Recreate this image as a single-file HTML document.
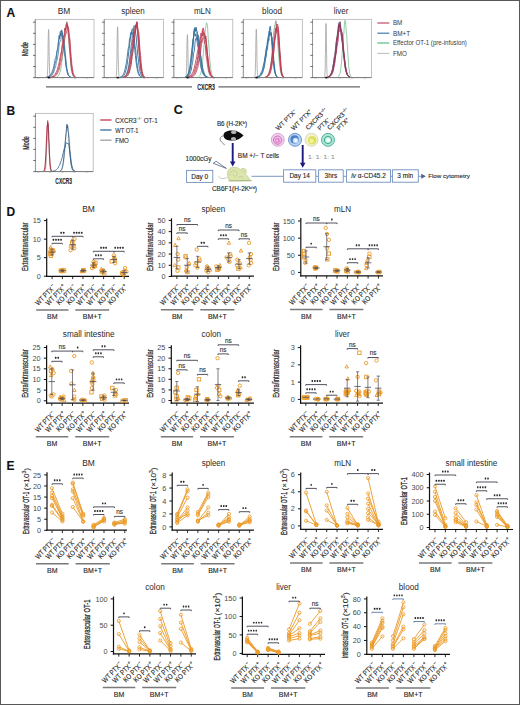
<!DOCTYPE html><html><head><meta charset="utf-8"><style>html,body{margin:0;padding:0;background:#fff;}svg{display:block}text{font-family:"Liberation Sans",sans-serif}.xl text{stroke:#222;stroke-width:0.15px} .t text,text.t{stroke:#333;stroke-width:0.12px}</style></head><body>
<svg width="520" height="705" viewBox="0 0 520 705">
<rect width="520" height="705" fill="#fff"/>
<g class="t">
<text x="6.50" y="17.00" font-size="12" text-anchor="start" fill="#111" font-weight="bold" >A</text>
<text x="57.70" y="13.90" font-size="8.5" fill="#2a2a2a" style="stroke:none" textLength="12.6" lengthAdjust="spacingAndGlyphs">BM</text>
<text x="121.20" y="13.90" font-size="8.5" fill="#2a2a2a" style="stroke:none" textLength="23.6" lengthAdjust="spacingAndGlyphs">spleen</text>
<text x="193.90" y="13.90" font-size="8.5" fill="#2a2a2a" style="stroke:none" textLength="17.0" lengthAdjust="spacingAndGlyphs">mLN</text>
<text x="262.10" y="13.90" font-size="8.5" fill="#2a2a2a" style="stroke:none" textLength="20.0" lengthAdjust="spacingAndGlyphs">blood</text>
<text x="333.70" y="13.90" font-size="8.5" fill="#2a2a2a" style="stroke:none" textLength="14.6" lengthAdjust="spacingAndGlyphs">liver</text>
<rect x="35.2" y="19.3" width="58.8" height="58.3" fill="none" stroke="#a8a8a8" stroke-width="0.7"/>
<line x1="35.2" y1="19.3" x2="35.2" y2="77.6" stroke="#8a8a8a" stroke-width="0.8"/>
<line x1="35.2" y1="77.6" x2="94" y2="77.6" stroke="#707070" stroke-width="0.9"/>
<line x1="33.0" y1="77.6" x2="35.800000000000004" y2="77.6" stroke="#666" stroke-width="0.9"/>
<line x1="35.2" y1="74.8" x2="36.1" y2="74.8" stroke="#bbb" stroke-width="0.4"/>
<line x1="35.2" y1="72.1" x2="36.1" y2="72.1" stroke="#bbb" stroke-width="0.4"/>
<line x1="35.2" y1="69.3" x2="36.1" y2="69.3" stroke="#bbb" stroke-width="0.4"/>
<line x1="33.0" y1="66.5" x2="35.800000000000004" y2="66.5" stroke="#666" stroke-width="0.9"/>
<line x1="35.2" y1="63.8" x2="36.1" y2="63.8" stroke="#bbb" stroke-width="0.4"/>
<line x1="35.2" y1="61.0" x2="36.1" y2="61.0" stroke="#bbb" stroke-width="0.4"/>
<line x1="35.2" y1="58.2" x2="36.1" y2="58.2" stroke="#bbb" stroke-width="0.4"/>
<line x1="33.0" y1="55.4" x2="35.800000000000004" y2="55.4" stroke="#666" stroke-width="0.9"/>
<line x1="35.2" y1="52.7" x2="36.1" y2="52.7" stroke="#bbb" stroke-width="0.4"/>
<line x1="35.2" y1="49.9" x2="36.1" y2="49.9" stroke="#bbb" stroke-width="0.4"/>
<line x1="35.2" y1="47.1" x2="36.1" y2="47.1" stroke="#bbb" stroke-width="0.4"/>
<line x1="33.0" y1="44.4" x2="35.800000000000004" y2="44.4" stroke="#666" stroke-width="0.9"/>
<line x1="35.2" y1="41.6" x2="36.1" y2="41.6" stroke="#bbb" stroke-width="0.4"/>
<line x1="35.2" y1="38.8" x2="36.1" y2="38.8" stroke="#bbb" stroke-width="0.4"/>
<line x1="35.2" y1="36.1" x2="36.1" y2="36.1" stroke="#bbb" stroke-width="0.4"/>
<line x1="33.0" y1="33.3" x2="35.800000000000004" y2="33.3" stroke="#666" stroke-width="0.9"/>
<line x1="35.2" y1="30.5" x2="36.1" y2="30.5" stroke="#bbb" stroke-width="0.4"/>
<line x1="35.2" y1="27.8" x2="36.1" y2="27.8" stroke="#bbb" stroke-width="0.4"/>
<line x1="35.2" y1="25.0" x2="36.1" y2="25.0" stroke="#bbb" stroke-width="0.4"/>
<line x1="33.0" y1="22.2" x2="35.800000000000004" y2="22.2" stroke="#666" stroke-width="0.9"/>
<line x1="38.2" y1="77.6" x2="38.2" y2="78.89999999999999" stroke="#999" stroke-width="0.5"/>
<line x1="37.0" y1="78.5" x2="39.4" y2="78.5" stroke="#ccc" stroke-width="0.5"/>
<line x1="50.5" y1="77.6" x2="50.5" y2="78.89999999999999" stroke="#999" stroke-width="0.5"/>
<line x1="49.2" y1="78.5" x2="51.7" y2="78.5" stroke="#ccc" stroke-width="0.5"/>
<line x1="62.7" y1="77.6" x2="62.7" y2="78.89999999999999" stroke="#999" stroke-width="0.5"/>
<line x1="61.5" y1="78.5" x2="63.9" y2="78.5" stroke="#ccc" stroke-width="0.5"/>
<line x1="75.0" y1="77.6" x2="75.0" y2="78.89999999999999" stroke="#999" stroke-width="0.5"/>
<line x1="73.8" y1="78.5" x2="76.2" y2="78.5" stroke="#ccc" stroke-width="0.5"/>
<line x1="87.2" y1="77.6" x2="87.2" y2="78.89999999999999" stroke="#999" stroke-width="0.5"/>
<line x1="86.0" y1="78.5" x2="88.4" y2="78.5" stroke="#ccc" stroke-width="0.5"/>
<path d="M47.0,77.0 L47.0,76.8 L47.1,76.6 L47.2,76.1 L47.3,75.4 L47.4,74.4 L47.5,73.0 L47.6,71.0 L47.7,68.3 L47.8,65.0 L47.9,60.9 L48.0,56.3 L48.1,51.2 L48.1,45.9 L48.2,40.7 L48.3,36.2 L48.4,32.6 L48.5,30.3 L48.6,29.5 L48.7,30.3 L48.8,32.6 L48.9,36.2 L49.0,40.7 L49.1,45.9 L49.1,51.2 L49.2,56.3 L49.3,60.9 L49.4,65.0 L49.5,68.3 L49.6,71.0 L49.7,73.0 L49.8,74.4 L49.9,75.4 L50.0,76.1 L50.1,76.6 L50.2,76.8 L50.2,77.0" fill="none" stroke="#a0a0a0" stroke-width="0.8" stroke-linejoin="round"/>
<path d="M56.4,77.0 L56.9,76.8 L57.4,76.6 L57.9,76.2 L58.4,75.7 L58.9,75.0 L59.4,73.9 L59.9,72.4 L60.4,71.1 L60.9,68.6 L61.4,65.8 L61.9,61.5 L62.4,57.5 L62.9,52.2 L63.4,49.9 L63.9,43.7 L64.4,40.5 L64.9,35.0 L65.3,29.3 L65.8,28.9 L66.3,25.6 L66.8,21.6 L67.3,22.8 L67.8,27.9 L68.3,31.0 L68.8,36.8 L69.3,47.5 L69.8,52.0 L70.3,59.0 L70.8,65.1 L71.3,69.4 L71.8,71.8 L72.3,74.1 L72.8,75.5 L73.3,76.3 L73.8,76.7 L74.3,77.0" fill="none" stroke="#4caf6a" stroke-width="0.6" stroke-linejoin="round"/>
<path d="M47.5,77.0 L48.1,76.9 L48.8,76.7 L49.4,76.4 L50.0,76.0 L50.7,75.5 L51.3,74.8 L52.0,73.8 L52.6,72.9 L53.3,70.9 L53.9,69.4 L54.5,65.7 L55.2,63.3 L55.8,61.5 L56.5,58.2 L57.1,51.1 L57.7,50.2 L58.4,42.7 L59.0,39.5 L59.7,37.0 L60.3,31.2 L61.0,31.4 L61.6,30.5 L62.2,32.1 L62.9,35.8 L63.5,41.1 L64.2,45.0 L64.8,52.0 L65.4,57.0 L66.1,64.4 L66.7,68.5 L67.4,71.2 L68.0,74.0 L68.7,75.5 L69.3,76.3 L69.9,76.8 L70.6,77.0" fill="none" stroke="#336f9c" stroke-width="0.8" stroke-linejoin="round"/>
<path d="M46.3,77.0 L47.0,76.9 L47.7,76.7 L48.3,76.5 L49.0,76.1 L49.7,75.6 L50.3,74.9 L51.0,74.0 L51.7,72.3 L52.3,71.1 L53.0,69.3 L53.7,66.8 L54.3,63.4 L55.0,59.4 L55.7,57.8 L56.4,55.1 L57.0,50.6 L57.7,48.8 L58.4,41.6 L59.0,35.6 L59.7,39.1 L60.4,32.6 L61.0,36.2 L61.7,29.9 L62.4,35.3 L63.0,41.0 L63.7,48.9 L64.4,54.2 L65.1,57.4 L65.7,65.2 L66.4,68.6 L67.1,71.9 L67.7,74.2 L68.4,75.5 L69.1,76.3 L69.7,76.8 L70.4,77.0" fill="none" stroke="#336f9c" stroke-width="0.8" stroke-linejoin="round"/>
<path d="M48.3,77.0 L48.9,76.9 L49.6,76.8 L50.2,76.5 L50.8,76.2 L51.4,75.7 L52.1,75.1 L52.7,74.2 L53.3,73.1 L53.9,71.8 L54.5,69.2 L55.2,67.6 L55.8,66.0 L56.4,61.3 L57.0,60.4 L57.7,56.6 L58.3,53.9 L58.9,47.4 L59.5,42.5 L60.2,40.9 L60.8,41.3 L61.4,34.6 L62.0,33.2 L62.6,37.5 L63.3,39.7 L63.9,40.7 L64.5,44.6 L65.1,51.7 L65.8,58.3 L66.4,64.4 L67.0,69.5 L67.6,72.1 L68.3,74.3 L68.9,75.6 L69.5,76.4 L70.1,76.8 L70.8,77.0" fill="none" stroke="#336f9c" stroke-width="0.7" stroke-linejoin="round"/>
<path d="M51.8,77.0 L52.4,76.8 L53.1,76.7 L53.7,76.4 L54.4,76.0 L55.0,75.5 L55.7,74.8 L56.3,73.8 L57.0,72.3 L57.6,71.2 L58.3,69.2 L58.9,67.3 L59.6,63.1 L60.2,61.6 L60.9,56.7 L61.5,52.9 L62.2,48.2 L62.8,45.1 L63.5,40.9 L64.1,36.7 L64.8,35.0 L65.4,30.2 L66.1,28.0 L66.7,22.6 L67.4,24.3 L68.0,27.7 L68.7,32.5 L69.3,37.9 L70.0,43.9 L70.6,56.3 L71.3,62.5 L71.9,67.8 L72.6,72.4 L73.2,74.6 L73.9,75.9 L74.5,76.6 L75.2,77.0" fill="none" stroke="#bf3a50" stroke-width="0.85" stroke-linejoin="round"/>
<path d="M50.5,77.0 L51.2,76.9 L51.9,76.7 L52.5,76.4 L53.2,76.1 L53.9,75.6 L54.6,74.9 L55.2,74.0 L55.9,72.6 L56.6,71.4 L57.3,69.7 L58.0,66.8 L58.6,65.2 L59.3,61.5 L60.0,57.8 L60.7,53.8 L61.4,51.5 L62.0,45.4 L62.7,41.8 L63.4,35.8 L64.1,36.9 L64.7,28.0 L65.4,30.7 L66.1,24.6 L66.8,26.0 L67.5,24.6 L68.1,33.5 L68.8,39.7 L69.5,49.1 L70.2,55.0 L70.8,63.0 L71.5,68.9 L72.2,72.5 L72.9,74.7 L73.6,76.0 L74.2,76.7 L74.9,77.0" fill="none" stroke="#bf3a50" stroke-width="0.8" stroke-linejoin="round"/>
<path d="M52.7,77.0 L53.3,76.9 L54.0,76.7 L54.6,76.4 L55.3,76.1 L55.9,75.6 L56.5,74.9 L57.2,74.0 L57.8,72.8 L58.5,71.1 L59.1,70.1 L59.7,68.1 L60.4,64.0 L61.0,62.2 L61.7,59.2 L62.3,54.7 L63.0,50.6 L63.6,45.7 L64.2,42.2 L64.9,38.6 L65.5,33.9 L66.2,33.9 L66.8,30.3 L67.4,26.0 L68.1,26.5 L68.7,28.6 L69.4,36.3 L70.0,39.0 L70.7,51.2 L71.3,56.5 L71.9,64.7 L72.6,69.2 L73.2,72.6 L73.9,74.8 L74.5,76.1 L75.1,76.7 L75.8,77.0" fill="none" stroke="#bf3a50" stroke-width="0.7" stroke-linejoin="round"/>
<ellipse cx="48.8" cy="77.6" rx="1.3" ry="0.9" fill="#111"/>
<rect x="104.2" y="19.3" width="59.3" height="58.3" fill="none" stroke="#a8a8a8" stroke-width="0.7"/>
<line x1="104.2" y1="19.3" x2="104.2" y2="77.6" stroke="#8a8a8a" stroke-width="0.8"/>
<line x1="104.2" y1="77.6" x2="163.5" y2="77.6" stroke="#707070" stroke-width="0.9"/>
<line x1="102.0" y1="77.6" x2="104.8" y2="77.6" stroke="#666" stroke-width="0.9"/>
<line x1="104.2" y1="74.8" x2="105.10000000000001" y2="74.8" stroke="#bbb" stroke-width="0.4"/>
<line x1="104.2" y1="72.1" x2="105.10000000000001" y2="72.1" stroke="#bbb" stroke-width="0.4"/>
<line x1="104.2" y1="69.3" x2="105.10000000000001" y2="69.3" stroke="#bbb" stroke-width="0.4"/>
<line x1="102.0" y1="66.5" x2="104.8" y2="66.5" stroke="#666" stroke-width="0.9"/>
<line x1="104.2" y1="63.8" x2="105.10000000000001" y2="63.8" stroke="#bbb" stroke-width="0.4"/>
<line x1="104.2" y1="61.0" x2="105.10000000000001" y2="61.0" stroke="#bbb" stroke-width="0.4"/>
<line x1="104.2" y1="58.2" x2="105.10000000000001" y2="58.2" stroke="#bbb" stroke-width="0.4"/>
<line x1="102.0" y1="55.4" x2="104.8" y2="55.4" stroke="#666" stroke-width="0.9"/>
<line x1="104.2" y1="52.7" x2="105.10000000000001" y2="52.7" stroke="#bbb" stroke-width="0.4"/>
<line x1="104.2" y1="49.9" x2="105.10000000000001" y2="49.9" stroke="#bbb" stroke-width="0.4"/>
<line x1="104.2" y1="47.1" x2="105.10000000000001" y2="47.1" stroke="#bbb" stroke-width="0.4"/>
<line x1="102.0" y1="44.4" x2="104.8" y2="44.4" stroke="#666" stroke-width="0.9"/>
<line x1="104.2" y1="41.6" x2="105.10000000000001" y2="41.6" stroke="#bbb" stroke-width="0.4"/>
<line x1="104.2" y1="38.8" x2="105.10000000000001" y2="38.8" stroke="#bbb" stroke-width="0.4"/>
<line x1="104.2" y1="36.1" x2="105.10000000000001" y2="36.1" stroke="#bbb" stroke-width="0.4"/>
<line x1="102.0" y1="33.3" x2="104.8" y2="33.3" stroke="#666" stroke-width="0.9"/>
<line x1="104.2" y1="30.5" x2="105.10000000000001" y2="30.5" stroke="#bbb" stroke-width="0.4"/>
<line x1="104.2" y1="27.8" x2="105.10000000000001" y2="27.8" stroke="#bbb" stroke-width="0.4"/>
<line x1="104.2" y1="25.0" x2="105.10000000000001" y2="25.0" stroke="#bbb" stroke-width="0.4"/>
<line x1="102.0" y1="22.2" x2="104.8" y2="22.2" stroke="#666" stroke-width="0.9"/>
<line x1="107.2" y1="77.6" x2="107.2" y2="78.89999999999999" stroke="#999" stroke-width="0.5"/>
<line x1="106.0" y1="78.5" x2="108.4" y2="78.5" stroke="#ccc" stroke-width="0.5"/>
<line x1="119.6" y1="77.6" x2="119.6" y2="78.89999999999999" stroke="#999" stroke-width="0.5"/>
<line x1="118.4" y1="78.5" x2="120.8" y2="78.5" stroke="#ccc" stroke-width="0.5"/>
<line x1="131.9" y1="77.6" x2="131.9" y2="78.89999999999999" stroke="#999" stroke-width="0.5"/>
<line x1="130.7" y1="78.5" x2="133.1" y2="78.5" stroke="#ccc" stroke-width="0.5"/>
<line x1="144.3" y1="77.6" x2="144.3" y2="78.89999999999999" stroke="#999" stroke-width="0.5"/>
<line x1="143.1" y1="78.5" x2="145.5" y2="78.5" stroke="#ccc" stroke-width="0.5"/>
<line x1="156.6" y1="77.6" x2="156.6" y2="78.89999999999999" stroke="#999" stroke-width="0.5"/>
<line x1="155.4" y1="78.5" x2="157.8" y2="78.5" stroke="#ccc" stroke-width="0.5"/>
<path d="M115.9,77.0 L116.0,76.8 L116.1,76.5 L116.2,76.0 L116.3,75.3 L116.4,74.2 L116.5,72.7 L116.6,70.6 L116.7,67.8 L116.8,64.3 L116.9,60.0 L117.0,55.0 L117.0,49.6 L117.1,44.0 L117.2,38.6 L117.3,33.8 L117.4,30.0 L117.5,27.5 L117.6,26.7 L117.7,27.5 L117.8,30.0 L117.9,33.8 L118.0,38.6 L118.1,44.0 L118.1,49.6 L118.2,55.0 L118.3,60.0 L118.4,64.3 L118.5,67.8 L118.6,70.6 L118.7,72.7 L118.8,74.2 L118.9,75.3 L119.0,76.0 L119.1,76.5 L119.2,76.8 L119.2,77.0" fill="none" stroke="#a0a0a0" stroke-width="0.8" stroke-linejoin="round"/>
<path d="M125.9,77.0 L126.4,76.8 L126.9,76.6 L127.4,76.2 L127.9,75.7 L128.4,75.0 L128.9,73.9 L129.4,72.3 L129.9,70.9 L130.4,67.9 L130.9,65.4 L131.4,62.1 L131.9,57.6 L132.4,54.3 L132.9,49.5 L133.4,43.7 L133.9,39.5 L134.4,32.6 L134.8,29.8 L135.3,26.7 L135.8,25.1 L136.3,24.4 L136.8,21.7 L137.3,23.8 L137.8,32.3 L138.3,36.9 L138.8,46.4 L139.3,52.2 L139.8,60.0 L140.3,64.7 L140.8,69.1 L141.3,71.8 L141.8,74.1 L142.3,75.5 L142.8,76.3 L143.3,76.7 L143.8,77.0" fill="none" stroke="#4caf6a" stroke-width="0.6" stroke-linejoin="round"/>
<path d="M121.4,77.0 L121.9,76.9 L122.5,76.6 L123.1,76.3 L123.7,75.7 L124.2,74.9 L124.8,73.8 L125.4,72.2 L125.9,70.6 L126.5,68.2 L127.1,64.9 L127.6,60.5 L128.2,57.3 L128.8,51.0 L129.3,47.0 L129.9,42.7 L130.5,37.9 L131.0,34.4 L131.6,31.9 L132.2,28.6 L132.7,29.0 L133.3,31.4 L133.9,37.2 L134.5,40.6 L135.0,46.1 L135.6,49.3 L136.2,55.0 L136.7,61.5 L137.3,65.3 L137.9,69.5 L138.4,71.6 L139.0,73.7 L139.6,75.1 L140.1,75.9 L140.7,76.5 L141.3,76.8 L141.8,77.0" fill="none" stroke="#336f9c" stroke-width="0.9" stroke-linejoin="round"/>
<path d="M123.5,77.0 L124.1,76.8 L124.6,76.6 L125.2,76.2 L125.7,75.6 L126.3,74.8 L126.8,73.6 L127.4,71.8 L127.9,70.2 L128.5,66.9 L129.0,64.3 L129.6,59.7 L130.1,56.1 L130.7,50.6 L131.2,45.4 L131.8,43.1 L132.3,35.3 L132.9,34.2 L133.4,29.4 L134.0,25.7 L134.5,26.4 L135.1,27.2 L135.6,33.1 L136.2,36.8 L136.7,43.8 L137.3,48.7 L137.8,55.6 L138.4,59.3 L138.9,65.1 L139.5,68.5 L140.0,71.4 L140.6,73.5 L141.1,74.9 L141.7,75.9 L142.2,76.4 L142.8,76.8 L143.3,77.0" fill="none" stroke="#336f9c" stroke-width="0.9" stroke-linejoin="round"/>
<path d="M119.9,77.0 L120.5,76.9 L121.1,76.6 L121.7,76.3 L122.3,75.8 L122.9,75.1 L123.5,74.0 L124.1,72.7 L124.7,70.9 L125.3,68.0 L125.9,65.0 L126.5,62.4 L127.1,57.3 L127.7,52.5 L128.3,48.2 L128.9,46.7 L129.5,38.5 L130.0,38.2 L130.6,32.7 L131.2,34.3 L131.8,31.6 L132.4,33.6 L133.0,34.9 L133.6,38.9 L134.2,44.0 L134.8,49.8 L135.4,55.5 L136.0,61.2 L136.6,65.7 L137.2,68.9 L137.8,71.8 L138.4,73.8 L139.0,75.1 L139.6,76.0 L140.2,76.5 L140.8,76.8 L141.4,77.0" fill="none" stroke="#336f9c" stroke-width="0.9" stroke-linejoin="round"/>
<path d="M124.0,77.0 L124.6,76.8 L125.2,76.6 L125.7,76.3 L126.3,75.9 L126.9,75.2 L127.4,74.4 L128.0,73.2 L128.6,72.1 L129.1,69.6 L129.7,67.4 L130.3,64.0 L130.8,60.3 L131.4,56.9 L132.0,52.3 L132.6,48.3 L133.1,43.7 L133.7,37.4 L134.3,33.4 L134.8,31.7 L135.4,25.1 L136.0,27.5 L136.5,22.0 L137.1,21.8 L137.7,28.1 L138.2,33.6 L138.8,40.2 L139.4,47.3 L139.9,55.4 L140.5,62.5 L141.1,67.3 L141.6,70.6 L142.2,73.5 L142.8,75.2 L143.4,76.2 L143.9,76.7 L144.5,77.0" fill="none" stroke="#bf3a50" stroke-width="0.9" stroke-linejoin="round"/>
<path d="M124.9,77.0 L125.4,76.8 L126.0,76.6 L126.5,76.3 L127.1,75.9 L127.7,75.3 L128.2,74.4 L128.8,73.3 L129.3,72.0 L129.9,69.7 L130.5,67.2 L131.0,65.3 L131.6,61.1 L132.1,56.5 L132.7,53.7 L133.2,50.3 L133.8,42.3 L134.4,40.0 L134.9,33.9 L135.5,30.5 L136.0,29.1 L136.6,23.7 L137.2,22.9 L137.7,28.6 L138.3,31.8 L138.8,32.6 L139.4,42.0 L140.0,50.9 L140.5,55.4 L141.1,62.4 L141.6,67.4 L142.2,71.5 L142.8,73.8 L143.3,75.3 L143.9,76.2 L144.4,76.7 L145.0,77.0" fill="none" stroke="#bf3a50" stroke-width="0.9" stroke-linejoin="round"/>
<path d="M123.0,77.0 L123.6,76.9 L124.2,76.7 L124.8,76.4 L125.3,75.9 L125.9,75.3 L126.5,74.5 L127.1,73.4 L127.7,71.7 L128.3,70.5 L128.9,68.1 L129.5,64.6 L130.0,61.1 L130.6,58.0 L131.2,53.9 L131.8,48.7 L132.4,43.5 L133.0,39.3 L133.6,35.3 L134.1,33.1 L134.7,31.3 L135.3,27.3 L135.9,24.7 L136.5,25.8 L137.1,28.4 L137.7,34.0 L138.3,42.7 L138.8,49.3 L139.4,56.7 L140.0,62.7 L140.6,68.1 L141.2,71.6 L141.8,73.8 L142.4,75.3 L142.9,76.2 L143.5,76.7 L144.1,77.0" fill="none" stroke="#bf3a50" stroke-width="0.9" stroke-linejoin="round"/>
<ellipse cx="117.8" cy="77.6" rx="1.3" ry="0.9" fill="#111"/>
<rect x="173.8" y="19.3" width="59.0" height="58.3" fill="none" stroke="#a8a8a8" stroke-width="0.7"/>
<line x1="173.8" y1="19.3" x2="173.8" y2="77.6" stroke="#8a8a8a" stroke-width="0.8"/>
<line x1="173.8" y1="77.6" x2="232.8" y2="77.6" stroke="#707070" stroke-width="0.9"/>
<line x1="171.60000000000002" y1="77.6" x2="174.4" y2="77.6" stroke="#666" stroke-width="0.9"/>
<line x1="173.8" y1="74.8" x2="174.70000000000002" y2="74.8" stroke="#bbb" stroke-width="0.4"/>
<line x1="173.8" y1="72.1" x2="174.70000000000002" y2="72.1" stroke="#bbb" stroke-width="0.4"/>
<line x1="173.8" y1="69.3" x2="174.70000000000002" y2="69.3" stroke="#bbb" stroke-width="0.4"/>
<line x1="171.60000000000002" y1="66.5" x2="174.4" y2="66.5" stroke="#666" stroke-width="0.9"/>
<line x1="173.8" y1="63.8" x2="174.70000000000002" y2="63.8" stroke="#bbb" stroke-width="0.4"/>
<line x1="173.8" y1="61.0" x2="174.70000000000002" y2="61.0" stroke="#bbb" stroke-width="0.4"/>
<line x1="173.8" y1="58.2" x2="174.70000000000002" y2="58.2" stroke="#bbb" stroke-width="0.4"/>
<line x1="171.60000000000002" y1="55.4" x2="174.4" y2="55.4" stroke="#666" stroke-width="0.9"/>
<line x1="173.8" y1="52.7" x2="174.70000000000002" y2="52.7" stroke="#bbb" stroke-width="0.4"/>
<line x1="173.8" y1="49.9" x2="174.70000000000002" y2="49.9" stroke="#bbb" stroke-width="0.4"/>
<line x1="173.8" y1="47.1" x2="174.70000000000002" y2="47.1" stroke="#bbb" stroke-width="0.4"/>
<line x1="171.60000000000002" y1="44.4" x2="174.4" y2="44.4" stroke="#666" stroke-width="0.9"/>
<line x1="173.8" y1="41.6" x2="174.70000000000002" y2="41.6" stroke="#bbb" stroke-width="0.4"/>
<line x1="173.8" y1="38.8" x2="174.70000000000002" y2="38.8" stroke="#bbb" stroke-width="0.4"/>
<line x1="173.8" y1="36.1" x2="174.70000000000002" y2="36.1" stroke="#bbb" stroke-width="0.4"/>
<line x1="171.60000000000002" y1="33.3" x2="174.4" y2="33.3" stroke="#666" stroke-width="0.9"/>
<line x1="173.8" y1="30.5" x2="174.70000000000002" y2="30.5" stroke="#bbb" stroke-width="0.4"/>
<line x1="173.8" y1="27.8" x2="174.70000000000002" y2="27.8" stroke="#bbb" stroke-width="0.4"/>
<line x1="173.8" y1="25.0" x2="174.70000000000002" y2="25.0" stroke="#bbb" stroke-width="0.4"/>
<line x1="171.60000000000002" y1="22.2" x2="174.4" y2="22.2" stroke="#666" stroke-width="0.9"/>
<line x1="176.8" y1="77.6" x2="176.8" y2="78.89999999999999" stroke="#999" stroke-width="0.5"/>
<line x1="175.6" y1="78.5" x2="178.0" y2="78.5" stroke="#ccc" stroke-width="0.5"/>
<line x1="189.1" y1="77.6" x2="189.1" y2="78.89999999999999" stroke="#999" stroke-width="0.5"/>
<line x1="187.9" y1="78.5" x2="190.3" y2="78.5" stroke="#ccc" stroke-width="0.5"/>
<line x1="201.4" y1="77.6" x2="201.4" y2="78.89999999999999" stroke="#999" stroke-width="0.5"/>
<line x1="200.2" y1="78.5" x2="202.6" y2="78.5" stroke="#ccc" stroke-width="0.5"/>
<line x1="213.7" y1="77.6" x2="213.7" y2="78.89999999999999" stroke="#999" stroke-width="0.5"/>
<line x1="212.5" y1="78.5" x2="214.9" y2="78.5" stroke="#ccc" stroke-width="0.5"/>
<line x1="226.0" y1="77.6" x2="226.0" y2="78.89999999999999" stroke="#999" stroke-width="0.5"/>
<line x1="224.8" y1="78.5" x2="227.2" y2="78.5" stroke="#ccc" stroke-width="0.5"/>
<path d="M185.8,77.0 L185.8,76.9 L185.9,76.6 L186.0,76.2 L186.1,75.6 L186.2,74.7 L186.3,73.4 L186.4,71.6 L186.5,69.3 L186.6,66.3 L186.7,62.7 L186.8,58.5 L186.8,53.9 L186.9,49.2 L187.0,44.6 L187.1,40.6 L187.2,37.4 L187.3,35.3 L187.4,34.6 L187.5,35.3 L187.6,37.4 L187.7,40.6 L187.8,44.6 L187.9,49.2 L188.0,53.9 L188.0,58.5 L188.1,62.7 L188.2,66.3 L188.3,69.3 L188.4,71.6 L188.5,73.4 L188.6,74.7 L188.7,75.6 L188.8,76.2 L188.9,76.6 L189.0,76.9 L189.1,77.0" fill="none" stroke="#a0a0a0" stroke-width="0.8" stroke-linejoin="round"/>
<path d="M198.2,77.0 L198.7,76.8 L199.1,76.5 L199.5,76.1 L200.0,75.4 L200.4,74.4 L200.8,73.0 L201.3,71.3 L201.7,68.3 L202.1,65.1 L202.6,62.1 L203.0,56.7 L203.4,52.3 L203.9,47.6 L204.3,41.9 L204.7,33.9 L205.1,31.9 L205.6,28.3 L206.0,25.4 L206.4,22.9 L206.9,23.2 L207.3,24.9 L207.7,28.8 L208.2,37.8 L208.6,42.9 L209.0,47.8 L209.5,56.1 L209.9,61.3 L210.3,64.8 L210.7,68.3 L211.2,71.3 L211.6,73.5 L212.0,74.9 L212.5,75.8 L212.9,76.4 L213.3,76.8 L213.8,77.0" fill="none" stroke="#4caf6a" stroke-width="0.6" stroke-linejoin="round"/>
<path d="M186.1,77.0 L186.7,76.8 L187.3,76.5 L187.9,75.9 L188.4,75.1 L189.0,73.8 L189.6,72.1 L190.2,69.4 L190.8,65.8 L191.4,61.5 L192.0,58.7 L192.6,50.6 L193.1,46.7 L193.7,37.4 L194.3,29.8 L194.9,27.5 L195.5,30.7 L196.1,27.1 L196.7,30.3 L197.2,31.5 L197.8,35.6 L198.4,35.1 L199.0,41.4 L199.6,47.3 L200.2,53.7 L200.8,56.6 L201.4,61.3 L201.9,65.8 L202.5,69.2 L203.1,71.7 L203.7,73.3 L204.3,74.6 L204.9,75.5 L205.5,76.1 L206.0,76.6 L206.6,76.8 L207.2,77.0" fill="none" stroke="#336f9c" stroke-width="0.85" stroke-linejoin="round"/>
<path d="M185.3,77.0 L185.9,76.8 L186.5,76.5 L187.1,76.0 L187.7,75.2 L188.3,74.0 L188.9,72.0 L189.5,70.6 L190.1,67.5 L190.7,63.2 L191.3,59.1 L191.9,51.3 L192.5,46.0 L193.1,39.1 L193.7,36.7 L194.3,28.8 L195.0,31.9 L195.6,28.7 L196.2,29.6 L196.8,31.4 L197.4,39.4 L198.0,39.5 L198.6,47.0 L199.2,52.2 L199.8,54.7 L200.4,60.7 L201.0,63.9 L201.6,67.4 L202.2,70.3 L202.8,72.2 L203.4,73.6 L204.0,74.8 L204.6,75.6 L205.2,76.2 L205.8,76.6 L206.4,76.8 L207.1,77.0" fill="none" stroke="#336f9c" stroke-width="0.85" stroke-linejoin="round"/>
<path d="M184.9,77.0 L185.5,76.8 L186.1,76.5 L186.7,76.0 L187.3,75.2 L187.9,74.0 L188.5,72.6 L189.1,70.0 L189.7,67.6 L190.3,63.1 L191.0,56.7 L191.6,51.5 L192.2,47.2 L192.8,40.1 L193.4,38.0 L194.0,31.3 L194.6,31.9 L195.2,36.2 L195.8,33.9 L196.4,37.1 L197.0,40.1 L197.6,46.3 L198.2,47.7 L198.8,54.8 L199.4,58.5 L200.0,62.5 L200.6,65.8 L201.2,68.8 L201.8,70.3 L202.4,72.4 L203.1,74.0 L203.7,75.0 L204.3,75.8 L204.9,76.3 L205.5,76.7 L206.1,76.9 L206.7,77.0" fill="none" stroke="#336f9c" stroke-width="0.85" stroke-linejoin="round"/>
<path d="M186.4,77.0 L187.0,76.9 L187.7,76.7 L188.3,76.3 L188.9,75.7 L189.5,74.7 L190.1,73.6 L190.7,71.3 L191.3,70.0 L191.9,65.6 L192.5,63.4 L193.1,58.3 L193.7,52.7 L194.3,51.0 L194.9,44.4 L195.5,38.7 L196.1,38.5 L196.7,39.4 L197.3,40.7 L197.9,35.7 L198.5,43.2 L199.1,42.8 L199.8,48.6 L200.4,54.8 L201.0,57.7 L201.6,61.7 L202.2,64.6 L202.8,68.4 L203.4,70.4 L204.0,72.4 L204.6,74.1 L205.2,75.1 L205.8,75.8 L206.4,76.3 L207.0,76.7 L207.6,76.9 L208.2,77.0" fill="none" stroke="#336f9c" stroke-width="0.85" stroke-linejoin="round"/>
<path d="M188.4,77.0 L189.1,76.9 L189.8,76.7 L190.5,76.4 L191.1,76.0 L191.8,75.4 L192.5,74.7 L193.2,73.6 L193.8,72.6 L194.5,70.1 L195.2,68.9 L195.9,66.1 L196.6,63.6 L197.2,60.5 L197.9,55.8 L198.6,50.5 L199.3,45.6 L200.0,42.4 L200.6,37.1 L201.3,37.4 L202.0,35.8 L202.7,29.1 L203.3,27.9 L204.0,31.3 L204.7,36.2 L205.4,39.2 L206.1,44.7 L206.7,52.5 L207.4,58.9 L208.1,64.0 L208.8,68.2 L209.4,71.9 L210.1,74.1 L210.8,75.5 L211.5,76.3 L212.2,76.8 L212.8,77.0" fill="none" stroke="#bf3a50" stroke-width="0.85" stroke-linejoin="round"/>
<path d="M189.7,77.0 L190.3,76.9 L191.0,76.7 L191.6,76.4 L192.3,76.0 L192.9,75.5 L193.6,74.7 L194.2,73.7 L194.9,72.1 L195.5,70.9 L196.2,68.8 L196.8,66.8 L197.5,63.5 L198.1,58.8 L198.8,55.9 L199.4,53.5 L200.1,49.9 L200.7,41.3 L201.4,42.5 L202.0,36.7 L202.7,34.0 L203.3,33.3 L204.0,33.4 L204.6,33.3 L205.3,35.6 L206.0,40.5 L206.6,44.5 L207.3,51.5 L207.9,60.6 L208.6,65.2 L209.2,69.6 L209.9,72.1 L210.5,74.2 L211.2,75.5 L211.8,76.3 L212.5,76.8 L213.1,77.0" fill="none" stroke="#bf3a50" stroke-width="0.85" stroke-linejoin="round"/>
<path d="M187.0,77.0 L187.7,76.9 L188.4,76.7 L189.1,76.5 L189.8,76.1 L190.5,75.6 L191.2,74.8 L191.9,73.8 L192.6,72.5 L193.3,71.2 L194.0,68.9 L194.7,66.0 L195.4,62.9 L196.1,59.4 L196.8,56.4 L197.5,51.3 L198.3,49.0 L199.0,46.2 L199.7,41.4 L200.4,36.4 L201.1,33.1 L201.8,36.2 L202.5,29.6 L203.2,31.8 L203.9,37.5 L204.6,43.4 L205.3,44.6 L206.0,55.2 L206.7,58.8 L207.4,64.3 L208.1,68.9 L208.8,72.0 L209.5,74.2 L210.3,75.6 L211.0,76.4 L211.7,76.8 L212.4,77.0" fill="none" stroke="#bf3a50" stroke-width="0.85" stroke-linejoin="round"/>
<path d="M190.9,77.0 L191.6,76.9 L192.2,76.7 L192.8,76.5 L193.4,76.1 L194.1,75.6 L194.7,74.9 L195.3,73.9 L195.9,72.5 L196.6,71.1 L197.2,68.8 L197.8,67.4 L198.4,63.4 L199.0,60.0 L199.7,57.8 L200.3,54.8 L200.9,48.8 L201.5,44.5 L202.2,41.3 L202.8,38.2 L203.4,38.2 L204.0,38.1 L204.7,37.0 L205.3,38.1 L205.9,36.0 L206.5,43.9 L207.1,51.1 L207.8,56.6 L208.4,60.2 L209.0,66.6 L209.6,69.5 L210.3,72.6 L210.9,74.5 L211.5,75.7 L212.1,76.4 L212.8,76.8 L213.4,77.0" fill="none" stroke="#bf3a50" stroke-width="0.85" stroke-linejoin="round"/>
<ellipse cx="187.6" cy="77.6" rx="1.3" ry="0.9" fill="#111"/>
<rect x="243.3" y="19.3" width="59.0" height="58.3" fill="none" stroke="#a8a8a8" stroke-width="0.7"/>
<line x1="243.3" y1="19.3" x2="243.3" y2="77.6" stroke="#8a8a8a" stroke-width="0.8"/>
<line x1="243.3" y1="77.6" x2="302.3" y2="77.6" stroke="#707070" stroke-width="0.9"/>
<line x1="241.10000000000002" y1="77.6" x2="243.9" y2="77.6" stroke="#666" stroke-width="0.9"/>
<line x1="243.3" y1="74.8" x2="244.20000000000002" y2="74.8" stroke="#bbb" stroke-width="0.4"/>
<line x1="243.3" y1="72.1" x2="244.20000000000002" y2="72.1" stroke="#bbb" stroke-width="0.4"/>
<line x1="243.3" y1="69.3" x2="244.20000000000002" y2="69.3" stroke="#bbb" stroke-width="0.4"/>
<line x1="241.10000000000002" y1="66.5" x2="243.9" y2="66.5" stroke="#666" stroke-width="0.9"/>
<line x1="243.3" y1="63.8" x2="244.20000000000002" y2="63.8" stroke="#bbb" stroke-width="0.4"/>
<line x1="243.3" y1="61.0" x2="244.20000000000002" y2="61.0" stroke="#bbb" stroke-width="0.4"/>
<line x1="243.3" y1="58.2" x2="244.20000000000002" y2="58.2" stroke="#bbb" stroke-width="0.4"/>
<line x1="241.10000000000002" y1="55.4" x2="243.9" y2="55.4" stroke="#666" stroke-width="0.9"/>
<line x1="243.3" y1="52.7" x2="244.20000000000002" y2="52.7" stroke="#bbb" stroke-width="0.4"/>
<line x1="243.3" y1="49.9" x2="244.20000000000002" y2="49.9" stroke="#bbb" stroke-width="0.4"/>
<line x1="243.3" y1="47.1" x2="244.20000000000002" y2="47.1" stroke="#bbb" stroke-width="0.4"/>
<line x1="241.10000000000002" y1="44.4" x2="243.9" y2="44.4" stroke="#666" stroke-width="0.9"/>
<line x1="243.3" y1="41.6" x2="244.20000000000002" y2="41.6" stroke="#bbb" stroke-width="0.4"/>
<line x1="243.3" y1="38.8" x2="244.20000000000002" y2="38.8" stroke="#bbb" stroke-width="0.4"/>
<line x1="243.3" y1="36.1" x2="244.20000000000002" y2="36.1" stroke="#bbb" stroke-width="0.4"/>
<line x1="241.10000000000002" y1="33.3" x2="243.9" y2="33.3" stroke="#666" stroke-width="0.9"/>
<line x1="243.3" y1="30.5" x2="244.20000000000002" y2="30.5" stroke="#bbb" stroke-width="0.4"/>
<line x1="243.3" y1="27.8" x2="244.20000000000002" y2="27.8" stroke="#bbb" stroke-width="0.4"/>
<line x1="243.3" y1="25.0" x2="244.20000000000002" y2="25.0" stroke="#bbb" stroke-width="0.4"/>
<line x1="241.10000000000002" y1="22.2" x2="243.9" y2="22.2" stroke="#666" stroke-width="0.9"/>
<line x1="246.3" y1="77.6" x2="246.3" y2="78.89999999999999" stroke="#999" stroke-width="0.5"/>
<line x1="245.1" y1="78.5" x2="247.5" y2="78.5" stroke="#ccc" stroke-width="0.5"/>
<line x1="258.6" y1="77.6" x2="258.6" y2="78.89999999999999" stroke="#999" stroke-width="0.5"/>
<line x1="257.4" y1="78.5" x2="259.8" y2="78.5" stroke="#ccc" stroke-width="0.5"/>
<line x1="270.9" y1="77.6" x2="270.9" y2="78.89999999999999" stroke="#999" stroke-width="0.5"/>
<line x1="269.7" y1="78.5" x2="272.1" y2="78.5" stroke="#ccc" stroke-width="0.5"/>
<line x1="283.2" y1="77.6" x2="283.2" y2="78.89999999999999" stroke="#999" stroke-width="0.5"/>
<line x1="282.0" y1="78.5" x2="284.4" y2="78.5" stroke="#ccc" stroke-width="0.5"/>
<line x1="295.5" y1="77.6" x2="295.5" y2="78.89999999999999" stroke="#999" stroke-width="0.5"/>
<line x1="294.3" y1="78.5" x2="296.7" y2="78.5" stroke="#ccc" stroke-width="0.5"/>
<path d="M254.7,77.0 L254.7,76.8 L254.8,76.6 L254.9,76.1 L255.0,75.4 L255.1,74.4 L255.2,72.9 L255.3,70.9 L255.4,68.3 L255.5,64.9 L255.6,60.8 L255.7,56.1 L255.8,51.0 L255.8,45.7 L255.9,40.5 L256.0,35.9 L256.1,32.3 L256.2,30.0 L256.3,29.2 L256.4,30.0 L256.5,32.3 L256.6,35.9 L256.7,40.5 L256.8,45.7 L256.9,51.0 L256.9,56.1 L257.0,60.8 L257.1,64.9 L257.2,68.3 L257.3,70.9 L257.4,72.9 L257.5,74.4 L257.6,75.4 L257.7,76.1 L257.8,76.6 L257.9,76.8 L257.9,77.0" fill="none" stroke="#a0a0a0" stroke-width="0.8" stroke-linejoin="round"/>
<path d="M266.4,77.0 L266.8,76.8 L267.3,76.5 L267.8,76.1 L268.2,75.5 L268.7,74.6 L269.2,73.3 L269.6,71.7 L270.1,68.9 L270.6,66.3 L271.0,63.6 L271.5,59.7 L272.0,54.5 L272.4,49.7 L272.9,43.6 L273.4,38.1 L273.8,30.3 L274.3,28.7 L274.8,25.0 L275.2,24.7 L275.7,20.5 L276.2,22.7 L276.6,30.3 L277.1,31.9 L277.6,40.1 L278.0,47.6 L278.5,53.0 L279.0,59.5 L279.4,63.7 L279.9,67.5 L280.4,71.0 L280.9,73.2 L281.3,74.7 L281.8,75.7 L282.3,76.4 L282.7,76.8 L283.2,77.0" fill="none" stroke="#4caf6a" stroke-width="0.6" stroke-linejoin="round"/>
<path d="M266.1,77.0 L266.6,76.8 L267.1,76.5 L267.6,76.1 L268.1,75.6 L268.6,74.7 L269.1,73.5 L269.6,71.9 L270.1,70.0 L270.6,66.8 L271.1,63.4 L271.5,60.4 L272.0,53.8 L272.5,48.6 L273.0,44.5 L273.5,38.4 L274.0,32.1 L274.5,31.2 L275.0,25.0 L275.5,24.4 L276.0,21.3 L276.5,22.9 L277.0,26.0 L277.5,35.4 L278.0,36.8 L278.5,46.9 L279.0,51.1 L279.5,57.8 L280.0,64.1 L280.5,67.7 L281.0,70.5 L281.4,73.1 L281.9,74.7 L282.4,75.7 L282.9,76.4 L283.4,76.8 L283.9,77.0" fill="none" stroke="#a0a0a0" stroke-width="0.6" stroke-linejoin="round"/>
<path d="M257.4,77.0 L258.0,76.9 L258.5,76.7 L259.1,76.5 L259.6,76.1 L260.2,75.6 L260.8,74.9 L261.3,74.0 L261.9,72.7 L262.4,71.2 L263.0,69.4 L263.6,67.2 L264.1,65.0 L264.7,60.3 L265.2,57.1 L265.8,52.5 L266.3,48.5 L266.9,45.8 L267.5,45.5 L268.0,37.3 L268.6,35.0 L269.1,33.7 L269.7,27.6 L270.3,26.1 L270.8,31.6 L271.4,32.9 L271.9,42.5 L272.5,46.4 L273.1,53.8 L273.6,61.7 L274.2,67.1 L274.7,71.0 L275.3,73.3 L275.9,75.1 L276.4,76.2 L277.0,76.7 L277.5,77.0" fill="none" stroke="#336f9c" stroke-width="0.9" stroke-linejoin="round"/>
<path d="M258.1,77.0 L258.7,76.9 L259.2,76.7 L259.8,76.5 L260.3,76.1 L260.8,75.7 L261.4,75.0 L261.9,74.2 L262.5,73.1 L263.0,71.8 L263.5,69.6 L264.1,68.0 L264.6,65.1 L265.2,61.8 L265.7,57.8 L266.2,57.3 L266.8,50.2 L267.3,50.2 L267.9,44.6 L268.4,38.8 L268.9,40.5 L269.5,31.7 L270.0,34.2 L270.6,32.4 L271.1,33.2 L271.7,37.0 L272.2,37.2 L272.7,46.0 L273.3,51.6 L273.8,60.3 L274.4,65.1 L274.9,69.9 L275.4,72.9 L276.0,75.1 L276.5,76.2 L277.1,76.7 L277.6,77.0" fill="none" stroke="#336f9c" stroke-width="0.9" stroke-linejoin="round"/>
<path d="M256.3,77.0 L256.9,76.9 L257.5,76.7 L258.1,76.5 L258.7,76.2 L259.3,75.7 L259.9,75.1 L260.4,74.2 L261.0,72.8 L261.6,71.7 L262.2,70.6 L262.8,67.6 L263.4,64.9 L264.0,62.9 L264.6,59.4 L265.1,56.9 L265.7,52.8 L266.3,49.3 L266.9,45.5 L267.5,41.1 L268.1,41.5 L268.7,36.6 L269.2,31.1 L269.8,35.4 L270.4,34.1 L271.0,35.1 L271.6,38.6 L272.2,48.8 L272.8,54.1 L273.4,60.3 L273.9,67.5 L274.5,71.1 L275.1,73.3 L275.7,75.3 L276.3,76.2 L276.9,76.8 L277.5,77.0" fill="none" stroke="#336f9c" stroke-width="0.9" stroke-linejoin="round"/>
<path d="M265.8,77.0 L266.2,76.8 L266.7,76.6 L267.2,76.4 L267.7,76.0 L268.2,75.4 L268.7,74.6 L269.2,73.6 L269.7,72.2 L270.2,70.6 L270.7,68.3 L271.2,66.4 L271.7,63.0 L272.2,58.5 L272.7,56.5 L273.2,51.2 L273.7,48.0 L274.2,41.7 L274.7,37.3 L275.2,35.1 L275.6,28.4 L276.1,30.0 L276.6,24.4 L277.1,24.8 L277.6,24.2 L278.1,27.3 L278.6,35.0 L279.1,43.0 L279.6,52.9 L280.1,58.7 L280.6,65.7 L281.1,69.9 L281.6,73.1 L282.1,75.0 L282.6,76.1 L283.1,76.7 L283.6,77.0" fill="none" stroke="#bf3a50" stroke-width="0.9" stroke-linejoin="round"/>
<path d="M266.6,77.0 L267.1,76.9 L267.6,76.7 L268.0,76.4 L268.5,76.0 L269.0,75.4 L269.5,74.6 L270.0,73.6 L270.5,72.1 L271.0,70.3 L271.4,68.8 L271.9,65.4 L272.4,63.3 L272.9,58.4 L273.4,55.2 L273.9,51.8 L274.4,45.6 L274.8,40.7 L275.3,38.7 L275.8,33.8 L276.3,33.3 L276.8,28.3 L277.3,26.9 L277.8,26.7 L278.2,29.7 L278.7,31.5 L279.2,39.0 L279.7,47.9 L280.2,52.9 L280.7,60.7 L281.2,66.9 L281.6,70.7 L282.1,73.4 L282.6,75.1 L283.1,76.2 L283.6,76.7 L284.1,77.0" fill="none" stroke="#bf3a50" stroke-width="0.9" stroke-linejoin="round"/>
<path d="M265.0,77.0 L265.5,76.9 L266.0,76.7 L266.6,76.4 L267.1,76.0 L267.6,75.5 L268.1,74.7 L268.6,73.7 L269.1,72.5 L269.6,70.6 L270.2,69.2 L270.7,65.7 L271.2,62.8 L271.7,59.5 L272.2,55.9 L272.7,50.8 L273.2,47.6 L273.7,43.2 L274.3,41.6 L274.8,37.9 L275.3,31.5 L275.8,31.1 L276.3,29.6 L276.8,28.6 L277.3,29.7 L277.9,32.4 L278.4,40.4 L278.9,45.6 L279.4,53.4 L279.9,60.4 L280.4,66.4 L280.9,70.8 L281.4,73.5 L282.0,75.2 L282.5,76.2 L283.0,76.7 L283.5,77.0" fill="none" stroke="#bf3a50" stroke-width="0.9" stroke-linejoin="round"/>
<ellipse cx="256.5" cy="77.6" rx="1.3" ry="0.9" fill="#111"/>
<rect x="312.5" y="19.3" width="59.0" height="58.3" fill="none" stroke="#a8a8a8" stroke-width="0.7"/>
<line x1="312.5" y1="19.3" x2="312.5" y2="77.6" stroke="#8a8a8a" stroke-width="0.8"/>
<line x1="312.5" y1="77.6" x2="371.5" y2="77.6" stroke="#707070" stroke-width="0.9"/>
<line x1="310.3" y1="77.6" x2="313.1" y2="77.6" stroke="#666" stroke-width="0.9"/>
<line x1="312.5" y1="74.8" x2="313.4" y2="74.8" stroke="#bbb" stroke-width="0.4"/>
<line x1="312.5" y1="72.1" x2="313.4" y2="72.1" stroke="#bbb" stroke-width="0.4"/>
<line x1="312.5" y1="69.3" x2="313.4" y2="69.3" stroke="#bbb" stroke-width="0.4"/>
<line x1="310.3" y1="66.5" x2="313.1" y2="66.5" stroke="#666" stroke-width="0.9"/>
<line x1="312.5" y1="63.8" x2="313.4" y2="63.8" stroke="#bbb" stroke-width="0.4"/>
<line x1="312.5" y1="61.0" x2="313.4" y2="61.0" stroke="#bbb" stroke-width="0.4"/>
<line x1="312.5" y1="58.2" x2="313.4" y2="58.2" stroke="#bbb" stroke-width="0.4"/>
<line x1="310.3" y1="55.4" x2="313.1" y2="55.4" stroke="#666" stroke-width="0.9"/>
<line x1="312.5" y1="52.7" x2="313.4" y2="52.7" stroke="#bbb" stroke-width="0.4"/>
<line x1="312.5" y1="49.9" x2="313.4" y2="49.9" stroke="#bbb" stroke-width="0.4"/>
<line x1="312.5" y1="47.1" x2="313.4" y2="47.1" stroke="#bbb" stroke-width="0.4"/>
<line x1="310.3" y1="44.4" x2="313.1" y2="44.4" stroke="#666" stroke-width="0.9"/>
<line x1="312.5" y1="41.6" x2="313.4" y2="41.6" stroke="#bbb" stroke-width="0.4"/>
<line x1="312.5" y1="38.8" x2="313.4" y2="38.8" stroke="#bbb" stroke-width="0.4"/>
<line x1="312.5" y1="36.1" x2="313.4" y2="36.1" stroke="#bbb" stroke-width="0.4"/>
<line x1="310.3" y1="33.3" x2="313.1" y2="33.3" stroke="#666" stroke-width="0.9"/>
<line x1="312.5" y1="30.5" x2="313.4" y2="30.5" stroke="#bbb" stroke-width="0.4"/>
<line x1="312.5" y1="27.8" x2="313.4" y2="27.8" stroke="#bbb" stroke-width="0.4"/>
<line x1="312.5" y1="25.0" x2="313.4" y2="25.0" stroke="#bbb" stroke-width="0.4"/>
<line x1="310.3" y1="22.2" x2="313.1" y2="22.2" stroke="#666" stroke-width="0.9"/>
<line x1="315.5" y1="77.6" x2="315.5" y2="78.89999999999999" stroke="#999" stroke-width="0.5"/>
<line x1="314.3" y1="78.5" x2="316.7" y2="78.5" stroke="#ccc" stroke-width="0.5"/>
<line x1="327.8" y1="77.6" x2="327.8" y2="78.89999999999999" stroke="#999" stroke-width="0.5"/>
<line x1="326.6" y1="78.5" x2="329.0" y2="78.5" stroke="#ccc" stroke-width="0.5"/>
<line x1="340.1" y1="77.6" x2="340.1" y2="78.89999999999999" stroke="#999" stroke-width="0.5"/>
<line x1="338.9" y1="78.5" x2="341.3" y2="78.5" stroke="#ccc" stroke-width="0.5"/>
<line x1="352.4" y1="77.6" x2="352.4" y2="78.89999999999999" stroke="#999" stroke-width="0.5"/>
<line x1="351.2" y1="78.5" x2="353.6" y2="78.5" stroke="#ccc" stroke-width="0.5"/>
<line x1="364.7" y1="77.6" x2="364.7" y2="78.89999999999999" stroke="#999" stroke-width="0.5"/>
<line x1="363.5" y1="78.5" x2="365.9" y2="78.5" stroke="#ccc" stroke-width="0.5"/>
<path d="M324.5,77.0 L324.6,76.8 L324.7,76.5 L324.8,76.0 L324.8,75.2 L324.9,74.1 L325.0,72.4 L325.1,70.2 L325.2,67.2 L325.3,63.4 L325.3,58.9 L325.4,53.6 L325.5,47.9 L325.6,41.9 L325.7,36.2 L325.8,31.0 L325.8,27.0 L325.9,24.4 L326.0,23.5 L326.1,24.4 L326.2,27.0 L326.2,31.0 L326.3,36.2 L326.4,41.9 L326.5,47.9 L326.6,53.6 L326.7,58.9 L326.7,63.4 L326.8,67.2 L326.9,70.2 L327.0,72.4 L327.1,74.1 L327.2,75.2 L327.2,76.0 L327.3,76.5 L327.4,76.8 L327.5,77.0" fill="none" stroke="#a0a0a0" stroke-width="0.8" stroke-linejoin="round"/>
<path d="M337.6,77.0 L338.0,76.8 L338.4,76.5 L338.8,76.1 L339.2,75.4 L339.6,74.5 L340.0,73.1 L340.4,71.5 L340.8,68.3 L341.2,65.2 L341.6,61.7 L341.9,57.0 L342.3,51.9 L342.7,46.2 L343.1,42.3 L343.5,34.5 L343.9,33.0 L344.3,25.8 L344.7,21.5 L345.1,20.2 L345.5,21.8 L345.9,25.5 L346.3,32.2 L346.7,34.7 L347.1,43.4 L347.5,47.1 L347.9,54.6 L348.3,60.1 L348.6,65.7 L349.0,68.6 L349.4,71.1 L349.8,73.5 L350.2,74.9 L350.6,75.8 L351.0,76.4 L351.4,76.8 L351.8,77.0" fill="none" stroke="#4caf6a" stroke-width="0.6" stroke-linejoin="round"/>
<path d="M327.3,77.0 L327.9,76.8 L328.5,76.6 L329.2,76.1 L329.8,75.5 L330.4,74.7 L331.0,73.4 L331.7,72.0 L332.3,69.7 L332.9,66.0 L333.5,63.3 L334.1,57.5 L334.8,55.6 L335.4,50.1 L336.0,43.7 L336.6,40.5 L337.3,34.6 L337.9,30.8 L338.5,24.6 L339.1,22.4 L339.8,22.9 L340.4,28.6 L341.0,32.4 L341.6,38.9 L342.2,42.1 L342.9,48.8 L343.5,53.3 L344.1,58.8 L344.7,64.8 L345.4,69.2 L346.0,71.5 L346.6,73.4 L347.2,74.9 L347.9,75.8 L348.5,76.4 L349.1,76.8 L349.7,77.0" fill="none" stroke="#336f9c" stroke-width="0.9" stroke-linejoin="round"/>
<path d="M328.3,77.0 L328.9,76.8 L329.5,76.6 L330.1,76.2 L330.7,75.6 L331.3,74.7 L331.9,73.5 L332.6,71.8 L333.2,69.9 L333.8,66.1 L334.4,64.5 L335.0,59.4 L335.6,55.5 L336.2,51.1 L336.8,42.4 L337.4,40.8 L338.0,33.1 L338.6,28.4 L339.2,31.6 L339.8,30.4 L340.4,28.6 L341.0,29.3 L341.6,32.1 L342.2,34.3 L342.8,40.2 L343.4,50.1 L344.0,55.1 L344.7,60.4 L345.3,64.1 L345.9,69.3 L346.5,71.8 L347.1,73.5 L347.7,74.9 L348.3,75.9 L348.9,76.4 L349.5,76.8 L350.1,77.0" fill="none" stroke="#336f9c" stroke-width="0.9" stroke-linejoin="round"/>
<path d="M327.3,77.0 L327.9,76.8 L328.5,76.6 L329.1,76.2 L329.8,75.6 L330.4,74.8 L331.0,73.7 L331.6,72.2 L332.2,70.5 L332.9,67.4 L333.5,63.5 L334.1,61.3 L334.7,56.7 L335.4,51.8 L336.0,45.0 L336.6,38.1 L337.2,37.7 L337.9,34.3 L338.5,24.9 L339.1,23.8 L339.7,27.4 L340.3,25.9 L341.0,32.9 L341.6,37.1 L342.2,39.9 L342.8,48.1 L343.5,53.7 L344.1,58.7 L344.7,64.1 L345.3,68.3 L346.0,71.0 L346.6,73.2 L347.2,74.7 L347.8,75.8 L348.5,76.4 L349.1,76.8 L349.7,77.0" fill="none" stroke="#bf3a50" stroke-width="0.9" stroke-linejoin="round"/>
<path d="M328.6,77.0 L329.2,76.8 L329.8,76.6 L330.4,76.2 L331.0,75.7 L331.6,74.8 L332.2,73.7 L332.8,72.3 L333.4,70.1 L334.0,66.8 L334.6,64.2 L335.2,59.8 L335.8,54.8 L336.4,52.2 L337.0,46.6 L337.6,43.9 L338.2,39.8 L338.7,30.5 L339.3,27.1 L339.9,28.9 L340.5,29.2 L341.1,31.0 L341.7,31.2 L342.3,34.9 L342.9,40.9 L343.5,47.2 L344.1,54.3 L344.7,59.6 L345.3,64.7 L345.9,68.0 L346.5,71.2 L347.1,73.4 L347.7,74.9 L348.3,75.8 L348.9,76.4 L349.5,76.8 L350.1,77.0" fill="none" stroke="#bf3a50" stroke-width="0.9" stroke-linejoin="round"/>
<path d="M327.8,77.0 L328.4,76.8 L329.0,76.6 L329.6,76.2 L330.2,75.6 L330.9,74.7 L331.5,73.5 L332.1,72.1 L332.7,70.2 L333.3,67.6 L333.9,63.0 L334.5,59.2 L335.2,56.8 L335.8,50.9 L336.4,46.2 L337.0,38.7 L337.6,35.3 L338.2,33.1 L338.8,24.8 L339.5,27.3 L340.1,21.7 L340.7,26.5 L341.3,31.3 L341.9,34.1 L342.5,42.2 L343.1,46.1 L343.8,52.9 L344.4,58.5 L345.0,64.6 L345.6,67.9 L346.2,71.1 L346.8,73.3 L347.4,74.8 L348.1,75.8 L348.7,76.4 L349.3,76.8 L349.9,77.0" fill="none" stroke="#7a3a6a" stroke-width="0.85" stroke-linejoin="round"/>
<ellipse cx="326.2" cy="77.6" rx="1.3" ry="0.9" fill="#111"/>
<text transform="translate(28.4,56) rotate(-90)" font-size="9.2" fill="#222" style="stroke-width:0.3px" textLength="13.8" lengthAdjust="spacingAndGlyphs">Mode</text>
<line x1="46" y1="86.8" x2="192" y2="86.8" stroke="#666" stroke-width="1.3"/>
<line x1="218.4" y1="86.8" x2="360" y2="86.8" stroke="#666" stroke-width="1.3"/>
<text x="197.2" y="89.6" font-size="8.6" font-weight="bold" fill="#222" textLength="17.8" lengthAdjust="spacingAndGlyphs">CXCR3</text>
<line x1="377.3" y1="23" x2="389.3" y2="23" stroke="#c04a64" stroke-width="1.2"/>
<text x="392.9" y="25.3" font-size="6.3" fill="#3a3a3a" style="stroke:none" textLength="9.4" lengthAdjust="spacingAndGlyphs">BM</text>
<line x1="377.3" y1="33.2" x2="389.3" y2="33.2" stroke="#3f7db0" stroke-width="1.2"/>
<text x="392.9" y="35.5" font-size="6.3" fill="#3a3a3a" style="stroke:none" textLength="17.3" lengthAdjust="spacingAndGlyphs">BM+T</text>
<line x1="377.3" y1="43" x2="389.3" y2="43" stroke="#52bf80" stroke-width="1.2"/>
<text x="392.9" y="45.3" font-size="6.3" fill="#3a3a3a" style="stroke:none" textLength="74" lengthAdjust="spacingAndGlyphs">Effector OT-1 (pre-infusion)</text>
<line x1="377.3" y1="53.4" x2="389.3" y2="53.4" stroke="#c4c4c4" stroke-width="1.2"/>
<text x="392.9" y="55.7" font-size="6.3" fill="#3a3a3a" style="stroke:none" textLength="14" lengthAdjust="spacingAndGlyphs">FMO</text>
<text x="6.50" y="114.70" font-size="12" text-anchor="start" fill="#111" font-weight="bold" >B</text>
<rect x="35.4" y="113.3" width="57.800000000000004" height="58.3" fill="none" stroke="#a8a8a8" stroke-width="0.7"/>
<line x1="35.4" y1="113.3" x2="35.4" y2="171.6" stroke="#8a8a8a" stroke-width="0.8"/>
<line x1="35.4" y1="171.6" x2="93.2" y2="171.6" stroke="#707070" stroke-width="0.9"/>
<line x1="33.199999999999996" y1="171.6" x2="36.0" y2="171.6" stroke="#666" stroke-width="0.9"/>
<line x1="35.4" y1="168.8" x2="36.3" y2="168.8" stroke="#bbb" stroke-width="0.4"/>
<line x1="35.4" y1="166.1" x2="36.3" y2="166.1" stroke="#bbb" stroke-width="0.4"/>
<line x1="35.4" y1="163.3" x2="36.3" y2="163.3" stroke="#bbb" stroke-width="0.4"/>
<line x1="33.199999999999996" y1="160.5" x2="36.0" y2="160.5" stroke="#666" stroke-width="0.9"/>
<line x1="35.4" y1="157.8" x2="36.3" y2="157.8" stroke="#bbb" stroke-width="0.4"/>
<line x1="35.4" y1="155.0" x2="36.3" y2="155.0" stroke="#bbb" stroke-width="0.4"/>
<line x1="35.4" y1="152.2" x2="36.3" y2="152.2" stroke="#bbb" stroke-width="0.4"/>
<line x1="33.199999999999996" y1="149.4" x2="36.0" y2="149.4" stroke="#666" stroke-width="0.9"/>
<line x1="35.4" y1="146.7" x2="36.3" y2="146.7" stroke="#bbb" stroke-width="0.4"/>
<line x1="35.4" y1="143.9" x2="36.3" y2="143.9" stroke="#bbb" stroke-width="0.4"/>
<line x1="35.4" y1="141.1" x2="36.3" y2="141.1" stroke="#bbb" stroke-width="0.4"/>
<line x1="33.199999999999996" y1="138.4" x2="36.0" y2="138.4" stroke="#666" stroke-width="0.9"/>
<line x1="35.4" y1="135.6" x2="36.3" y2="135.6" stroke="#bbb" stroke-width="0.4"/>
<line x1="35.4" y1="132.8" x2="36.3" y2="132.8" stroke="#bbb" stroke-width="0.4"/>
<line x1="35.4" y1="130.1" x2="36.3" y2="130.1" stroke="#bbb" stroke-width="0.4"/>
<line x1="33.199999999999996" y1="127.3" x2="36.0" y2="127.3" stroke="#666" stroke-width="0.9"/>
<line x1="35.4" y1="124.5" x2="36.3" y2="124.5" stroke="#bbb" stroke-width="0.4"/>
<line x1="35.4" y1="121.8" x2="36.3" y2="121.8" stroke="#bbb" stroke-width="0.4"/>
<line x1="35.4" y1="119.0" x2="36.3" y2="119.0" stroke="#bbb" stroke-width="0.4"/>
<line x1="33.199999999999996" y1="116.2" x2="36.0" y2="116.2" stroke="#666" stroke-width="0.9"/>
<line x1="38.4" y1="171.6" x2="38.4" y2="172.9" stroke="#999" stroke-width="0.5"/>
<line x1="37.2" y1="172.5" x2="39.6" y2="172.5" stroke="#ccc" stroke-width="0.5"/>
<line x1="50.4" y1="171.6" x2="50.4" y2="172.9" stroke="#999" stroke-width="0.5"/>
<line x1="49.2" y1="172.5" x2="51.6" y2="172.5" stroke="#ccc" stroke-width="0.5"/>
<line x1="62.5" y1="171.6" x2="62.5" y2="172.9" stroke="#999" stroke-width="0.5"/>
<line x1="61.3" y1="172.5" x2="63.7" y2="172.5" stroke="#ccc" stroke-width="0.5"/>
<line x1="74.5" y1="171.6" x2="74.5" y2="172.9" stroke="#999" stroke-width="0.5"/>
<line x1="73.3" y1="172.5" x2="75.7" y2="172.5" stroke="#ccc" stroke-width="0.5"/>
<line x1="86.6" y1="171.6" x2="86.6" y2="172.9" stroke="#999" stroke-width="0.5"/>
<line x1="85.4" y1="172.5" x2="87.8" y2="172.5" stroke="#ccc" stroke-width="0.5"/>
<path d="M43.6,171.0 L43.8,170.8 L44.0,170.5 L44.3,170.1 L44.5,169.4 L44.7,168.3 L45.0,166.8 L45.2,164.6 L45.4,161.8 L45.6,158.0 L45.9,154.8 L46.1,148.4 L46.3,144.1 L46.6,137.9 L46.8,132.4 L47.0,126.7 L47.2,126.4 L47.5,123.6 L47.7,120.7 L47.9,122.3 L48.2,123.8 L48.4,129.6 L48.6,131.5 L48.8,140.8 L49.1,143.6 L49.3,149.9 L49.5,155.4 L49.8,158.3 L50.0,162.5 L50.2,165.0 L50.5,166.9 L50.7,168.3 L50.9,169.4 L51.1,170.1 L51.4,170.5 L51.6,170.8 L51.8,171.0" fill="none" stroke="#bf3a50" stroke-width="1.1" stroke-linejoin="round"/>
<path d="M44.6,171.0 L44.8,170.8 L45.0,170.5 L45.1,170.1 L45.3,169.4 L45.5,168.4 L45.7,166.8 L45.9,165.3 L46.1,162.5 L46.2,159.3 L46.4,154.3 L46.6,149.6 L46.8,143.6 L47.0,141.1 L47.2,134.7 L47.4,132.1 L47.5,127.7 L47.7,123.8 L47.9,125.7 L48.1,125.5 L48.3,125.3 L48.4,129.5 L48.6,135.6 L48.8,139.2 L49.0,143.9 L49.2,151.3 L49.4,154.2 L49.5,158.6 L49.7,162.4 L49.9,165.2 L50.1,166.7 L50.3,168.4 L50.5,169.4 L50.6,170.1 L50.8,170.5 L51.0,170.8 L51.2,171.0" fill="none" stroke="#6a4a50" stroke-width="0.5" stroke-linejoin="round"/>
<path d="M60.2,171.0 L60.6,170.9 L61.0,170.6 L61.5,170.2 L61.9,169.5 L62.3,168.6 L62.7,167.4 L63.1,165.4 L63.5,163.3 L63.9,159.4 L64.3,155.9 L64.7,152.6 L65.1,148.1 L65.5,141.0 L65.9,138.5 L66.3,131.7 L66.7,128.8 L67.1,127.2 L67.5,124.6 L67.9,126.7 L68.3,129.0 L68.7,133.2 L69.1,138.1 L69.5,143.1 L69.9,147.0 L70.3,151.9 L70.7,155.5 L71.1,160.1 L71.5,163.0 L71.9,165.0 L72.3,167.2 L72.7,168.6 L73.1,169.5 L73.6,170.2 L74.0,170.6 L74.4,170.9 L74.8,171.0" fill="none" stroke="#a0a0a0" stroke-width="0.7" stroke-linejoin="round"/>
<path d="M59.9,171.0 L60.3,170.9 L60.7,170.6 L61.1,170.2 L61.5,169.7 L61.9,168.8 L62.2,167.6 L62.6,165.7 L63.0,163.8 L63.4,161.1 L63.8,157.7 L64.2,153.3 L64.6,148.2 L64.9,145.0 L65.3,141.1 L65.7,136.1 L66.1,133.8 L66.5,128.1 L66.9,124.4 L67.3,128.1 L67.6,126.2 L68.0,131.6 L68.4,132.1 L68.8,138.5 L69.2,144.2 L69.6,150.2 L70.0,154.5 L70.3,157.5 L70.7,162.1 L71.1,164.5 L71.5,166.7 L71.9,168.3 L72.3,169.4 L72.6,170.1 L73.0,170.6 L73.4,170.8 L73.8,171.0" fill="none" stroke="#2d5a8c" stroke-width="0.8" stroke-linejoin="round"/>
<path d="M52.4,171.1 L53.1,171.0 L53.7,170.9 L54.3,170.8 L54.9,170.6 L55.6,170.3 L56.2,169.9 L56.8,169.3 L57.5,168.7 L58.1,167.9 L58.7,166.5 L59.4,165.4 L60.0,164.3 L60.6,161.8 L61.3,160.7 L61.9,158.4 L62.5,156.4 L63.2,153.0 L63.8,150.1 L64.4,148.4 L65.1,147.5 L65.7,143.9 L66.3,142.5 L67.0,143.6 L67.6,143.5 L68.2,143.2 L68.9,145.3 L69.5,149.9 L70.1,154.9 L70.8,159.8 L71.4,164.1 L72.0,166.7 L72.7,168.7 L73.3,169.9 L73.9,170.6 L74.6,170.9 L75.2,171.1" fill="none" stroke="#2d5a8c" stroke-width="0.8" stroke-linejoin="round"/>
<text transform="translate(28.7,149.8) rotate(-90)" font-size="9.2" fill="#222" style="stroke-width:0.3px" textLength="13.6" lengthAdjust="spacingAndGlyphs">Mode</text>
<text x="55.3" y="184.2" font-size="8.4" font-weight="bold" fill="#222" textLength="16.8" lengthAdjust="spacingAndGlyphs">CXCR3</text>
<line x1="100.2" y1="120" x2="111.5" y2="120" stroke="#bf3a50" stroke-width="1.3"/>
<line x1="100.2" y1="130" x2="111.5" y2="130" stroke="#336f9c" stroke-width="1.3"/>
<line x1="100.2" y1="140.2" x2="111.5" y2="140.2" stroke="#a0a0a0" stroke-width="1.3"/>
<text x="115.2" y="122.6" font-size="6.7" fill="#333" textLength="42.5" lengthAdjust="spacingAndGlyphs">CXCR3<tspan font-size="4" dy="-2.6">−/−</tspan><tspan dy="2.6"> OT-1</tspan></text>
<text x="115.2" y="132.5" font-size="6.7" fill="#333" textLength="23.4" lengthAdjust="spacingAndGlyphs">WT OT-1</text>
<text x="115.2" y="142.6" font-size="6.7" fill="#333" textLength="13.6" lengthAdjust="spacingAndGlyphs">FMO</text>
<text x="173.8" y="114.4" font-size="12.5" font-weight="bold" fill="#111">C</text>
<defs>
<filter id="cb" x="-20%" y="-20%" width="140%" height="140%"><feGaussianBlur stdDeviation="0.45"/></filter>
</defs>
<!-- B6 text -->
<text x="216.9" y="126" font-size="6.3" fill="#222">B6 (H-2K<tspan font-size="4" dy="-2.3">b</tspan><tspan dy="2.3">)</tspan></text>
<!-- black mouse -->
<path d="M223.5,135.6 C223.5,131.8 228,130.4 232.5,130.6 C237,130.6 240.5,132.6 243.6,135.6 C240.5,138.6 237,140.7 232.5,140.7 C228,140.8 223.5,139.4 223.5,135.6 Z" fill="#0c0c0c"/>
<ellipse cx="233.7" cy="132.2" rx="2.6" ry="1.9" fill="#b4b4b4"/>
<ellipse cx="233.5" cy="138.9" rx="2.6" ry="1.9" fill="#b4b4b4"/>
<path d="M223.6,135.8 C220.5,136.2 219.4,138.5 220.6,140.8 C221.8,142.8 223.8,143.6 224.8,145.2" fill="none" stroke="#555" stroke-width="0.7"/>
<!-- navy arrows -->
<line x1="232.7" y1="143" x2="232.7" y2="162.2" stroke="#1c1a7c" stroke-width="1.9"/>
<path d="M229.9,161.4 L235.5,161.4 L232.7,166.4 Z" fill="#1c1a7c"/>
<line x1="302.7" y1="145" x2="302.7" y2="163.6" stroke="#1c1a7c" stroke-width="1.9"/>
<path d="M299.9,162.8 L305.5,162.8 L302.7,167.8 Z" fill="#1c1a7c"/>
<text x="237.8" y="158.2" font-size="6.5" fill="#222">BM +/− T cells</text>
<text x="185.6" y="161" font-size="6.5" fill="#222">1000cGy</text>
<!-- irradiation beam -->
<path d="M213.2,163.3 L216.2,161.3 L226.4,168.4 Z" fill="#fff" stroke="#3a4d6e" stroke-width="0.7" stroke-linejoin="round"/>
<!-- green mouse -->
<path d="M218.5,176.2 C219.5,178.6 223,179.4 226.8,177.4" fill="none" stroke="#a0a0a0" stroke-width="0.6"/>
<path d="M227.5,174.5 C227,169.5 231,166.6 235.2,167.2 C238.2,167.6 239.6,169.2 240.6,169.6 C241.6,168.2 244.2,167.6 245.6,169.2 C247,170.8 246.2,173.2 245.4,174.4 C247.2,175.4 249,177.2 249.6,179.6 L249.6,180.8 L229.6,180.8 C228.2,179.2 227.6,177 227.5,174.5 Z" fill="#dce5ae" stroke="#b7c486" stroke-width="0.6"/>
<path d="M230,175.6 C229.6,171.5 233.2,169.6 235.8,171 C238.2,172.4 237.6,175.6 235.4,176.2 C233.6,176.6 232.6,175 233.6,173.8" fill="none" stroke="#b7c486" stroke-width="0.6"/>
<path d="M241.2,170.8 C242.8,170.2 244.4,171 244.2,172.8 M237.8,177.6 C239.6,176.2 242.4,176.4 243.8,178.2" fill="none" stroke="#b7c486" stroke-width="0.6"/>
<path d="M228.6,180.9 L251.8,180.6" stroke="#9fae70" stroke-width="0.9"/>
<text x="211.9" y="191.3" font-size="6.5" fill="#222">CB6F1(H-2K<tspan font-size="4" dy="-2.4">b/d</tspan><tspan dy="2.4">)</tspan></text>
<!-- timeline -->
<line x1="251.5" y1="176.3" x2="283.6" y2="176.3" stroke="#5b7fb0" stroke-width="0.8"/>
<line x1="315.8" y1="176.3" x2="318.5" y2="176.3" stroke="#5b7fb0" stroke-width="0.8"/>
<line x1="343.2" y1="176.3" x2="346.5" y2="176.3" stroke="#5b7fb0" stroke-width="0.8"/>
<line x1="390.5" y1="176.3" x2="392.4" y2="176.3" stroke="#5b7fb0" stroke-width="0.8"/>
<line x1="418.3" y1="176.3" x2="422" y2="176.3" stroke="#5b7fb0" stroke-width="0.8"/>
<path d="M421.2,173.8 L425.9,176.3 L421.2,178.8 Z" fill="#4a6796"/>
<g fill="#fff" stroke="#6f8fbf" stroke-width="0.9">
<rect x="186.6" y="170.4" width="26.2" height="12"/>
<rect x="283.6" y="169.8" width="32.2" height="12.4"/>
<rect x="318.6" y="169.8" width="24.6" height="12.4"/>
<rect x="346.6" y="169.8" width="43.9" height="12.4"/>
<rect x="392.4" y="169.8" width="25.9" height="12.4"/>
</g>
<g font-size="6.5" fill="#222" text-anchor="middle">
<text x="199.7" y="178.8">Day 0</text>
<text x="299.7" y="178.4">Day 14</text>
<text x="330.9" y="178.4">3hrs</text>
<text x="368.6" y="178.4"><tspan font-style="italic">iv</tspan> α-CD45.2</text>
<text x="405.3" y="178.4">3 min</text>
</g>
<text x="428.2" y="178.4" font-size="6.2" fill="#222">Flow cytometry</text>
<!-- cells -->
<g filter="url(#cb)">
<circle cx="277.8" cy="139.8" r="6.5" fill="#f3d4ef" stroke="#d29ccb" stroke-width="0.9"/>
<circle cx="277.6" cy="140.1" r="4.2" fill="#eab8e4" stroke="#c77cbc" stroke-width="1"/>
<circle cx="277.4" cy="140.5" r="2.5" fill="#ee80d2"/>
<circle cx="277.1" cy="140.6" r="0.9" fill="#fbe0f4"/>
<circle cx="295" cy="139.8" r="6.5" fill="#b6d2f2" stroke="#5e90cd" stroke-width="0.9"/>
<circle cx="294.6" cy="139.4" r="4.1" fill="#4c7fc2"/>
<circle cx="295.5" cy="140.4" r="2.7" fill="#c9def6"/>
<circle cx="295.6" cy="140.6" r="1.2" fill="#ffffff"/>
<circle cx="311.5" cy="139.8" r="6.5" fill="#f1f1d2" stroke="#d8d8b0" stroke-width="0.9"/>
<circle cx="312.2" cy="140.2" r="4.3" fill="#dde060"/>
<circle cx="311.4" cy="141" r="2.2" fill="#f2f596"/>
<circle cx="328" cy="139.8" r="6.5" fill="#aee4d6" stroke="#4fb59c" stroke-width="1"/>
<circle cx="328" cy="140" r="3.6" fill="#d2f2ea" stroke="#3aa68c" stroke-width="1"/>
<circle cx="328.2" cy="140.3" r="1.4" fill="#ffffff"/>
</g>
<!-- cell labels -->
<g font-size="6.4" fill="#222">
<text transform="translate(278.3,130.8) rotate(-45)">WT PTX<tspan font-size="4" dy="-2.3">−</tspan></text>
<text transform="translate(293.7,130.8) rotate(-45)">WT PTX<tspan font-size="4" dy="-2.3">+</tspan></text>
<text transform="translate(308.2,130.2) rotate(-45)">CXCR3<tspan font-size="4" dy="-2.3">−/−</tspan></text>
<text transform="translate(320,130.8) rotate(-45)">PTX<tspan font-size="4" dy="-2.3">−</tspan></text>
<text transform="translate(329.7,130.2) rotate(-45)">CXCR3<tspan font-size="4" dy="-2.3">−/−</tspan></text>
<text transform="translate(339.3,130.8) rotate(-45)">PTX<tspan font-size="4" dy="-2.3">+</tspan></text>
</g>
<g font-size="6" style="stroke:none"><text x="308.3" y="159.4" fill="#c4bfd2">1</text><text x="312.3" y="159.2" fill="#d4c0cc">:</text><text x="316" y="159.4" fill="#bcc4dc">1</text><text x="320" y="159.2" fill="#d4d0c0">:</text><text x="323.7" y="159.4" fill="#cfcfb4">1</text><text x="327.6" y="159.2" fill="#c4d4cc">:</text><text x="331.3" y="159.4" fill="#bcd4cc">1</text></g>

<text x="6.50" y="215.50" font-size="12" text-anchor="start" fill="#111" font-weight="bold" >D</text>
<line x1="46.7" y1="218.6" x2="46.7" y2="276.90000000000003" stroke="#111" stroke-width="1.2"/>
<line x1="46.1" y1="276.3" x2="129" y2="276.3" stroke="#111" stroke-width="1.2"/>
<line x1="43.900000000000006" y1="220.60" x2="46.7" y2="220.60" stroke="#111" stroke-width="1"/>
<text x="40.80" y="223.20" font-size="7.3" text-anchor="end" fill="#4a4a4a" font-weight="normal" style="stroke:none">15</text>
<line x1="43.900000000000006" y1="239.13" x2="46.7" y2="239.13" stroke="#111" stroke-width="1"/>
<text x="40.80" y="241.73" font-size="7.3" text-anchor="end" fill="#4a4a4a" font-weight="normal" style="stroke:none">10</text>
<line x1="43.900000000000006" y1="257.67" x2="46.7" y2="257.67" stroke="#111" stroke-width="1"/>
<text x="40.80" y="260.27" font-size="7.3" text-anchor="end" fill="#4a4a4a" font-weight="normal" style="stroke:none">5</text>
<line x1="43.900000000000006" y1="276.20" x2="46.7" y2="276.20" stroke="#111" stroke-width="1"/>
<text x="40.80" y="278.80" font-size="7.3" text-anchor="end" fill="#4a4a4a" font-weight="normal" style="stroke:none">0</text>
<line x1="52.10" y1="276.3" x2="52.10" y2="279.1" stroke="#111" stroke-width="0.9"/>
<line x1="62.40" y1="276.3" x2="62.40" y2="279.1" stroke="#111" stroke-width="0.9"/>
<line x1="72.70" y1="276.3" x2="72.70" y2="279.1" stroke="#111" stroke-width="0.9"/>
<line x1="83.00" y1="276.3" x2="83.00" y2="279.1" stroke="#111" stroke-width="0.9"/>
<line x1="93.30" y1="276.3" x2="93.30" y2="279.1" stroke="#111" stroke-width="0.9"/>
<line x1="103.60" y1="276.3" x2="103.60" y2="279.1" stroke="#111" stroke-width="0.9"/>
<line x1="113.90" y1="276.3" x2="113.90" y2="279.1" stroke="#111" stroke-width="0.9"/>
<line x1="124.20" y1="276.3" x2="124.20" y2="279.1" stroke="#111" stroke-width="0.9"/>
<text x="82.20" y="212.40" font-size="8.5" fill="#2a2a2a" style="stroke:none" textLength="12.6" lengthAdjust="spacingAndGlyphs">BM</text>
<text transform="translate(28.40,246.80) rotate(-90)" font-size="9" text-anchor="middle" fill="#222" style="stroke-width:0.25px" textLength="48.5" lengthAdjust="spacingAndGlyphs">Extra/intravascular</text>
<g class="xl" transform="translate(54.00,289.90) rotate(-45)"><text x="0" y="0" font-size="7.4" text-anchor="end" fill="#222" textLength="22.3" lengthAdjust="spacingAndGlyphs">WT PTX</text><text x="0.3" y="-3.3" font-size="4.8" fill="#222">−</text></g>
<g class="xl" transform="translate(64.30,289.90) rotate(-45)"><text x="0" y="0" font-size="7.4" text-anchor="end" fill="#222" textLength="22.3" lengthAdjust="spacingAndGlyphs">WT PTX</text><text x="0.3" y="-3.3" font-size="4.8" fill="#222">+</text></g>
<g class="xl" transform="translate(74.60,289.90) rotate(-45)"><text x="0" y="0" font-size="7.4" text-anchor="end" fill="#222" textLength="21.8" lengthAdjust="spacingAndGlyphs">KO PTX</text><text x="0.3" y="-3.3" font-size="4.8" fill="#222">−</text></g>
<g class="xl" transform="translate(84.90,289.90) rotate(-45)"><text x="0" y="0" font-size="7.4" text-anchor="end" fill="#222" textLength="21.8" lengthAdjust="spacingAndGlyphs">KO PTX</text><text x="0.3" y="-3.3" font-size="4.8" fill="#222">+</text></g>
<g class="xl" transform="translate(95.20,289.90) rotate(-45)"><text x="0" y="0" font-size="7.4" text-anchor="end" fill="#222" textLength="22.3" lengthAdjust="spacingAndGlyphs">WT PTX</text><text x="0.3" y="-3.3" font-size="4.8" fill="#222">−</text></g>
<g class="xl" transform="translate(105.50,289.90) rotate(-45)"><text x="0" y="0" font-size="7.4" text-anchor="end" fill="#222" textLength="22.3" lengthAdjust="spacingAndGlyphs">WT PTX</text><text x="0.3" y="-3.3" font-size="4.8" fill="#222">+</text></g>
<g class="xl" transform="translate(115.80,289.90) rotate(-45)"><text x="0" y="0" font-size="7.4" text-anchor="end" fill="#222" textLength="21.8" lengthAdjust="spacingAndGlyphs">KO PTX</text><text x="0.3" y="-3.3" font-size="4.8" fill="#222">−</text></g>
<g class="xl" transform="translate(126.10,289.90) rotate(-45)"><text x="0" y="0" font-size="7.4" text-anchor="end" fill="#222" textLength="21.8" lengthAdjust="spacingAndGlyphs">KO PTX</text><text x="0.3" y="-3.3" font-size="4.8" fill="#222">+</text></g>
<line x1="36.1" y1="309.9" x2="68.5" y2="309.9" stroke="#7a7a7a" stroke-width="1.5"/>
<line x1="75.3" y1="309.9" x2="109.2" y2="309.9" stroke="#7a7a7a" stroke-width="1.5"/>
<text x="52.30" y="319.10" font-size="7" text-anchor="middle" fill="#222" font-weight="normal" >BM</text>
<text x="92.25" y="319.10" font-size="7" text-anchor="middle" fill="#222" font-weight="normal" >BM+T</text>
<rect x="49.19" y="254.11" width="3.40" height="3.40" fill="none" stroke="#eb9a27" stroke-width="0.9"/>
<rect x="48.70" y="252.26" width="3.40" height="3.40" fill="none" stroke="#eb9a27" stroke-width="0.9"/>
<rect x="50.28" y="251.15" width="3.40" height="3.40" fill="none" stroke="#eb9a27" stroke-width="0.9"/>
<circle cx="50.10" cy="251.74" r="1.7" fill="none" stroke="#eb9a27" stroke-width="0.9"/>
<path d="M53.98,248.35 L55.68,251.61 L52.28,251.61 Z" fill="none" stroke="#eb9a27" stroke-width="0.9"/>
<circle cx="50.99" cy="249.51" r="1.7" fill="none" stroke="#eb9a27" stroke-width="0.9"/>
<path d="M50.68,245.39 L52.38,248.65 L48.98,248.65 Z" fill="none" stroke="#eb9a27" stroke-width="0.9"/>
<rect x="50.59" y="249.29" width="3.40" height="3.40" fill="none" stroke="#eb9a27" stroke-width="0.9"/>
<line x1="48.90" y1="252.11" x2="55.30" y2="252.11" stroke="#4a4a58" stroke-width="0.8"/>
<line x1="52.10" y1="249.14" x2="52.10" y2="255.07" stroke="#4a4a58" stroke-width="0.7"/>
<line x1="50.50" y1="249.14" x2="53.70" y2="249.14" stroke="#4a4a58" stroke-width="0.7"/>
<line x1="50.50" y1="255.07" x2="53.70" y2="255.07" stroke="#4a4a58" stroke-width="0.7"/>
<circle cx="62.29" cy="271.38" r="1.7" fill="none" stroke="#eb9a27" stroke-width="0.9"/>
<circle cx="61.17" cy="271.01" r="1.7" fill="none" stroke="#eb9a27" stroke-width="0.9"/>
<rect x="62.39" y="268.94" width="3.40" height="3.40" fill="none" stroke="#eb9a27" stroke-width="0.9"/>
<circle cx="61.89" cy="270.27" r="1.7" fill="none" stroke="#eb9a27" stroke-width="0.9"/>
<circle cx="63.19" cy="269.90" r="1.7" fill="none" stroke="#eb9a27" stroke-width="0.9"/>
<rect x="59.13" y="268.94" width="3.40" height="3.40" fill="none" stroke="#eb9a27" stroke-width="0.9"/>
<line x1="59.20" y1="270.64" x2="65.60" y2="270.64" stroke="#4a4a58" stroke-width="0.8"/>
<line x1="62.40" y1="269.90" x2="62.40" y2="271.38" stroke="#4a4a58" stroke-width="0.7"/>
<line x1="60.80" y1="269.90" x2="64.00" y2="269.90" stroke="#4a4a58" stroke-width="0.7"/>
<line x1="60.80" y1="271.38" x2="64.00" y2="271.38" stroke="#4a4a58" stroke-width="0.7"/>
<circle cx="70.60" cy="250.25" r="1.7" fill="none" stroke="#eb9a27" stroke-width="0.9"/>
<circle cx="74.19" cy="248.40" r="1.7" fill="none" stroke="#eb9a27" stroke-width="0.9"/>
<path d="M72.57,244.65 L74.27,247.91 L70.87,247.91 Z" fill="none" stroke="#eb9a27" stroke-width="0.9"/>
<path d="M73.68,242.79 L75.38,246.05 L71.98,246.05 Z" fill="none" stroke="#eb9a27" stroke-width="0.9"/>
<rect x="70.52" y="241.14" width="3.40" height="3.40" fill="none" stroke="#eb9a27" stroke-width="0.9"/>
<circle cx="72.45" cy="240.99" r="1.7" fill="none" stroke="#eb9a27" stroke-width="0.9"/>
<circle cx="74.44" cy="239.13" r="1.7" fill="none" stroke="#eb9a27" stroke-width="0.9"/>
<path d="M70.57,243.91 L72.27,247.17 L68.87,247.17 Z" fill="none" stroke="#eb9a27" stroke-width="0.9"/>
<line x1="69.50" y1="244.69" x2="75.90" y2="244.69" stroke="#4a4a58" stroke-width="0.8"/>
<line x1="72.70" y1="240.25" x2="72.70" y2="249.14" stroke="#4a4a58" stroke-width="0.7"/>
<line x1="71.10" y1="240.25" x2="74.30" y2="240.25" stroke="#4a4a58" stroke-width="0.7"/>
<line x1="71.10" y1="249.14" x2="74.30" y2="249.14" stroke="#4a4a58" stroke-width="0.7"/>
<path d="M81.70,269.48 L83.40,272.74 L80.00,272.74 Z" fill="none" stroke="#eb9a27" stroke-width="0.9"/>
<circle cx="84.28" cy="271.01" r="1.7" fill="none" stroke="#eb9a27" stroke-width="0.9"/>
<path d="M82.64,268.74 L84.34,272.00 L80.94,272.00 Z" fill="none" stroke="#eb9a27" stroke-width="0.9"/>
<rect x="81.64" y="268.57" width="3.40" height="3.40" fill="none" stroke="#eb9a27" stroke-width="0.9"/>
<rect x="81.69" y="268.94" width="3.40" height="3.40" fill="none" stroke="#eb9a27" stroke-width="0.9"/>
<line x1="79.80" y1="270.64" x2="86.20" y2="270.64" stroke="#4a4a58" stroke-width="0.8"/>
<line x1="83.00" y1="269.90" x2="83.00" y2="271.38" stroke="#4a4a58" stroke-width="0.7"/>
<line x1="81.40" y1="269.90" x2="84.60" y2="269.90" stroke="#4a4a58" stroke-width="0.7"/>
<line x1="81.40" y1="271.38" x2="84.60" y2="271.38" stroke="#4a4a58" stroke-width="0.7"/>
<circle cx="92.07" cy="268.05" r="1.7" fill="none" stroke="#eb9a27" stroke-width="0.9"/>
<circle cx="94.14" cy="266.93" r="1.7" fill="none" stroke="#eb9a27" stroke-width="0.9"/>
<rect x="93.24" y="264.12" width="3.40" height="3.40" fill="none" stroke="#eb9a27" stroke-width="0.9"/>
<circle cx="94.09" cy="265.08" r="1.7" fill="none" stroke="#eb9a27" stroke-width="0.9"/>
<circle cx="94.21" cy="263.97" r="1.7" fill="none" stroke="#eb9a27" stroke-width="0.9"/>
<rect x="93.74" y="261.16" width="3.40" height="3.40" fill="none" stroke="#eb9a27" stroke-width="0.9"/>
<circle cx="93.62" cy="261.74" r="1.7" fill="none" stroke="#eb9a27" stroke-width="0.9"/>
<line x1="90.10" y1="265.08" x2="96.50" y2="265.08" stroke="#4a4a58" stroke-width="0.8"/>
<line x1="93.30" y1="262.86" x2="93.30" y2="267.30" stroke="#4a4a58" stroke-width="0.7"/>
<line x1="91.70" y1="262.86" x2="94.90" y2="262.86" stroke="#4a4a58" stroke-width="0.7"/>
<line x1="91.70" y1="267.30" x2="94.90" y2="267.30" stroke="#4a4a58" stroke-width="0.7"/>
<rect x="102.51" y="271.53" width="3.40" height="3.40" fill="none" stroke="#eb9a27" stroke-width="0.9"/>
<circle cx="102.53" cy="272.49" r="1.7" fill="none" stroke="#eb9a27" stroke-width="0.9"/>
<path d="M101.59,269.85 L103.29,273.11 L99.89,273.11 Z" fill="none" stroke="#eb9a27" stroke-width="0.9"/>
<circle cx="101.71" cy="271.01" r="1.7" fill="none" stroke="#eb9a27" stroke-width="0.9"/>
<circle cx="103.19" cy="270.27" r="1.7" fill="none" stroke="#eb9a27" stroke-width="0.9"/>
<path d="M101.39,267.26 L103.09,270.52 L99.69,270.52 Z" fill="none" stroke="#eb9a27" stroke-width="0.9"/>
<line x1="100.40" y1="271.38" x2="106.80" y2="271.38" stroke="#4a4a58" stroke-width="0.8"/>
<line x1="103.60" y1="269.90" x2="103.60" y2="272.86" stroke="#4a4a58" stroke-width="0.7"/>
<line x1="102.00" y1="269.90" x2="105.20" y2="269.90" stroke="#4a4a58" stroke-width="0.7"/>
<line x1="102.00" y1="272.86" x2="105.20" y2="272.86" stroke="#4a4a58" stroke-width="0.7"/>
<circle cx="115.14" cy="263.23" r="1.7" fill="none" stroke="#eb9a27" stroke-width="0.9"/>
<rect x="110.10" y="259.67" width="3.40" height="3.40" fill="none" stroke="#eb9a27" stroke-width="0.9"/>
<path d="M115.10,258.36 L116.80,261.62 L113.40,261.62 Z" fill="none" stroke="#eb9a27" stroke-width="0.9"/>
<circle cx="114.90" cy="259.15" r="1.7" fill="none" stroke="#eb9a27" stroke-width="0.9"/>
<circle cx="114.13" cy="257.67" r="1.7" fill="none" stroke="#eb9a27" stroke-width="0.9"/>
<circle cx="113.92" cy="255.44" r="1.7" fill="none" stroke="#eb9a27" stroke-width="0.9"/>
<line x1="110.70" y1="259.52" x2="117.10" y2="259.52" stroke="#4a4a58" stroke-width="0.8"/>
<line x1="113.90" y1="256.55" x2="113.90" y2="262.49" stroke="#4a4a58" stroke-width="0.7"/>
<line x1="112.30" y1="256.55" x2="115.50" y2="256.55" stroke="#4a4a58" stroke-width="0.7"/>
<line x1="112.30" y1="262.49" x2="115.50" y2="262.49" stroke="#4a4a58" stroke-width="0.7"/>
<circle cx="123.32" cy="274.72" r="1.7" fill="none" stroke="#eb9a27" stroke-width="0.9"/>
<rect x="120.70" y="271.91" width="3.40" height="3.40" fill="none" stroke="#eb9a27" stroke-width="0.9"/>
<circle cx="122.04" cy="272.49" r="1.7" fill="none" stroke="#eb9a27" stroke-width="0.9"/>
<circle cx="126.37" cy="271.75" r="1.7" fill="none" stroke="#eb9a27" stroke-width="0.9"/>
<circle cx="124.71" cy="270.64" r="1.7" fill="none" stroke="#eb9a27" stroke-width="0.9"/>
<circle cx="125.07" cy="268.05" r="1.7" fill="none" stroke="#eb9a27" stroke-width="0.9"/>
<line x1="121.00" y1="272.49" x2="127.40" y2="272.49" stroke="#4a4a58" stroke-width="0.8"/>
<line x1="124.20" y1="270.64" x2="124.20" y2="274.35" stroke="#4a4a58" stroke-width="0.7"/>
<line x1="122.60" y1="270.64" x2="125.80" y2="270.64" stroke="#4a4a58" stroke-width="0.7"/>
<line x1="122.60" y1="274.35" x2="125.80" y2="274.35" stroke="#4a4a58" stroke-width="0.7"/>
<path d="M52.10,237.40 L52.10,236.30 L72.70,236.30 L72.70,237.40" fill="none" stroke="#4a4a58" stroke-width="0.95"/>
<rect x="60.38" y="231.80" width="1.5" height="1.9" rx="0.5" fill="#2a2a2a"/>
<rect x="62.93" y="231.80" width="1.5" height="1.9" rx="0.5" fill="#2a2a2a"/>
<path d="M72.70,237.40 L72.70,236.30 L83.00,236.30 L83.00,237.40" fill="none" stroke="#4a4a58" stroke-width="0.95"/>
<rect x="73.27" y="231.80" width="1.5" height="1.9" rx="0.5" fill="#2a2a2a"/>
<rect x="75.82" y="231.80" width="1.5" height="1.9" rx="0.5" fill="#2a2a2a"/>
<rect x="78.38" y="231.80" width="1.5" height="1.9" rx="0.5" fill="#2a2a2a"/>
<rect x="80.92" y="231.80" width="1.5" height="1.9" rx="0.5" fill="#2a2a2a"/>
<path d="M52.10,244.40 L52.10,243.30 L62.40,243.30 L62.40,244.40" fill="none" stroke="#4a4a58" stroke-width="0.95"/>
<rect x="52.67" y="238.80" width="1.5" height="1.9" rx="0.5" fill="#2a2a2a"/>
<rect x="55.23" y="238.80" width="1.5" height="1.9" rx="0.5" fill="#2a2a2a"/>
<rect x="57.77" y="238.80" width="1.5" height="1.9" rx="0.5" fill="#2a2a2a"/>
<rect x="60.33" y="238.80" width="1.5" height="1.9" rx="0.5" fill="#2a2a2a"/>
<path d="M93.30,252.40 L93.30,251.30 L113.90,251.30 L113.90,252.40" fill="none" stroke="#4a4a58" stroke-width="0.95"/>
<rect x="100.30" y="246.80" width="1.5" height="1.9" rx="0.5" fill="#2a2a2a"/>
<rect x="102.85" y="246.80" width="1.5" height="1.9" rx="0.5" fill="#2a2a2a"/>
<rect x="105.40" y="246.80" width="1.5" height="1.9" rx="0.5" fill="#2a2a2a"/>
<path d="M113.90,252.40 L113.90,251.30 L124.20,251.30 L124.20,252.40" fill="none" stroke="#4a4a58" stroke-width="0.95"/>
<rect x="114.48" y="246.80" width="1.5" height="1.9" rx="0.5" fill="#2a2a2a"/>
<rect x="117.03" y="246.80" width="1.5" height="1.9" rx="0.5" fill="#2a2a2a"/>
<rect x="119.58" y="246.80" width="1.5" height="1.9" rx="0.5" fill="#2a2a2a"/>
<rect x="122.13" y="246.80" width="1.5" height="1.9" rx="0.5" fill="#2a2a2a"/>
<path d="M93.30,259.90 L93.30,258.80 L103.60,258.80 L103.60,259.90" fill="none" stroke="#4a4a58" stroke-width="0.95"/>
<rect x="95.15" y="254.30" width="1.5" height="1.9" rx="0.5" fill="#2a2a2a"/>
<rect x="97.70" y="254.30" width="1.5" height="1.9" rx="0.5" fill="#2a2a2a"/>
<rect x="100.25" y="254.30" width="1.5" height="1.9" rx="0.5" fill="#2a2a2a"/>
<line x1="171.5" y1="218.3" x2="171.5" y2="276.8" stroke="#111" stroke-width="1.2"/>
<line x1="170.9" y1="276.2" x2="254" y2="276.2" stroke="#111" stroke-width="1.2"/>
<line x1="168.7" y1="220.40" x2="171.5" y2="220.40" stroke="#111" stroke-width="1"/>
<text x="165.60" y="223.00" font-size="7.3" text-anchor="end" fill="#4a4a4a" font-weight="normal" style="stroke:none">50</text>
<line x1="168.7" y1="231.62" x2="171.5" y2="231.62" stroke="#111" stroke-width="1"/>
<text x="165.60" y="234.22" font-size="7.3" text-anchor="end" fill="#4a4a4a" font-weight="normal" style="stroke:none">40</text>
<line x1="168.7" y1="242.84" x2="171.5" y2="242.84" stroke="#111" stroke-width="1"/>
<text x="165.60" y="245.44" font-size="7.3" text-anchor="end" fill="#4a4a4a" font-weight="normal" style="stroke:none">30</text>
<line x1="168.7" y1="254.06" x2="171.5" y2="254.06" stroke="#111" stroke-width="1"/>
<text x="165.60" y="256.66" font-size="7.3" text-anchor="end" fill="#4a4a4a" font-weight="normal" style="stroke:none">20</text>
<line x1="168.7" y1="265.28" x2="171.5" y2="265.28" stroke="#111" stroke-width="1"/>
<text x="165.60" y="267.88" font-size="7.3" text-anchor="end" fill="#4a4a4a" font-weight="normal" style="stroke:none">10</text>
<line x1="168.7" y1="276.50" x2="171.5" y2="276.50" stroke="#111" stroke-width="1"/>
<text x="165.60" y="279.10" font-size="7.3" text-anchor="end" fill="#4a4a4a" font-weight="normal" style="stroke:none">0</text>
<line x1="176.90" y1="276.2" x2="176.90" y2="279.0" stroke="#111" stroke-width="0.9"/>
<line x1="187.25" y1="276.2" x2="187.25" y2="279.0" stroke="#111" stroke-width="0.9"/>
<line x1="197.60" y1="276.2" x2="197.60" y2="279.0" stroke="#111" stroke-width="0.9"/>
<line x1="207.95" y1="276.2" x2="207.95" y2="279.0" stroke="#111" stroke-width="0.9"/>
<line x1="218.30" y1="276.2" x2="218.30" y2="279.0" stroke="#111" stroke-width="0.9"/>
<line x1="228.65" y1="276.2" x2="228.65" y2="279.0" stroke="#111" stroke-width="0.9"/>
<line x1="239.00" y1="276.2" x2="239.00" y2="279.0" stroke="#111" stroke-width="0.9"/>
<line x1="249.35" y1="276.2" x2="249.35" y2="279.0" stroke="#111" stroke-width="0.9"/>
<text x="201.50" y="212.10" font-size="8.5" fill="#2a2a2a" style="stroke:none" textLength="23.6" lengthAdjust="spacingAndGlyphs">spleen</text>
<text transform="translate(153.30,246.80) rotate(-90)" font-size="9" text-anchor="middle" fill="#222" style="stroke-width:0.25px" textLength="48.5" lengthAdjust="spacingAndGlyphs">Extra/intravascular</text>
<g class="xl" transform="translate(178.80,289.80) rotate(-45)"><text x="0" y="0" font-size="7.4" text-anchor="end" fill="#222" textLength="22.3" lengthAdjust="spacingAndGlyphs">WT PTX</text><text x="0.3" y="-3.3" font-size="4.8" fill="#222">−</text></g>
<g class="xl" transform="translate(189.15,289.80) rotate(-45)"><text x="0" y="0" font-size="7.4" text-anchor="end" fill="#222" textLength="22.3" lengthAdjust="spacingAndGlyphs">WT PTX</text><text x="0.3" y="-3.3" font-size="4.8" fill="#222">+</text></g>
<g class="xl" transform="translate(199.50,289.80) rotate(-45)"><text x="0" y="0" font-size="7.4" text-anchor="end" fill="#222" textLength="21.8" lengthAdjust="spacingAndGlyphs">KO PTX</text><text x="0.3" y="-3.3" font-size="4.8" fill="#222">−</text></g>
<g class="xl" transform="translate(209.85,289.80) rotate(-45)"><text x="0" y="0" font-size="7.4" text-anchor="end" fill="#222" textLength="21.8" lengthAdjust="spacingAndGlyphs">KO PTX</text><text x="0.3" y="-3.3" font-size="4.8" fill="#222">+</text></g>
<g class="xl" transform="translate(220.20,289.80) rotate(-45)"><text x="0" y="0" font-size="7.4" text-anchor="end" fill="#222" textLength="22.3" lengthAdjust="spacingAndGlyphs">WT PTX</text><text x="0.3" y="-3.3" font-size="4.8" fill="#222">−</text></g>
<g class="xl" transform="translate(230.55,289.80) rotate(-45)"><text x="0" y="0" font-size="7.4" text-anchor="end" fill="#222" textLength="22.3" lengthAdjust="spacingAndGlyphs">WT PTX</text><text x="0.3" y="-3.3" font-size="4.8" fill="#222">+</text></g>
<g class="xl" transform="translate(240.90,289.80) rotate(-45)"><text x="0" y="0" font-size="7.4" text-anchor="end" fill="#222" textLength="21.8" lengthAdjust="spacingAndGlyphs">KO PTX</text><text x="0.3" y="-3.3" font-size="4.8" fill="#222">−</text></g>
<g class="xl" transform="translate(251.25,289.80) rotate(-45)"><text x="0" y="0" font-size="7.4" text-anchor="end" fill="#222" textLength="21.8" lengthAdjust="spacingAndGlyphs">KO PTX</text><text x="0.3" y="-3.3" font-size="4.8" fill="#222">+</text></g>
<line x1="160.9" y1="309.8" x2="193.4" y2="309.8" stroke="#7a7a7a" stroke-width="1.5"/>
<line x1="200.3" y1="309.8" x2="234.4" y2="309.8" stroke="#7a7a7a" stroke-width="1.5"/>
<text x="177.18" y="319.00" font-size="7" text-anchor="middle" fill="#222" font-weight="normal" >BM</text>
<text x="217.33" y="319.00" font-size="7" text-anchor="middle" fill="#222" font-weight="normal" >BM+T</text>
<circle cx="177.47" cy="270.89" r="1.7" fill="none" stroke="#eb9a27" stroke-width="0.9"/>
<rect x="176.56" y="265.82" width="3.40" height="3.40" fill="none" stroke="#eb9a27" stroke-width="0.9"/>
<path d="M174.73,263.38 L176.43,266.64 L173.03,266.64 Z" fill="none" stroke="#eb9a27" stroke-width="0.9"/>
<circle cx="178.17" cy="259.67" r="1.7" fill="none" stroke="#eb9a27" stroke-width="0.9"/>
<circle cx="177.59" cy="254.06" r="1.7" fill="none" stroke="#eb9a27" stroke-width="0.9"/>
<path d="M175.12,243.18 L176.82,246.44 L173.42,246.44 Z" fill="none" stroke="#eb9a27" stroke-width="0.9"/>
<path d="M178.59,236.45 L180.29,239.71 L176.89,239.71 Z" fill="none" stroke="#eb9a27" stroke-width="0.9"/>
<line x1="173.70" y1="257.43" x2="180.10" y2="257.43" stroke="#4a4a58" stroke-width="0.8"/>
<line x1="176.90" y1="246.21" x2="176.90" y2="268.65" stroke="#4a4a58" stroke-width="0.7"/>
<line x1="175.30" y1="246.21" x2="178.50" y2="246.21" stroke="#4a4a58" stroke-width="0.7"/>
<line x1="175.30" y1="268.65" x2="178.50" y2="268.65" stroke="#4a4a58" stroke-width="0.7"/>
<rect x="185.75" y="270.31" width="3.40" height="3.40" fill="none" stroke="#eb9a27" stroke-width="0.9"/>
<circle cx="186.10" cy="270.89" r="1.7" fill="none" stroke="#eb9a27" stroke-width="0.9"/>
<circle cx="186.83" cy="267.52" r="1.7" fill="none" stroke="#eb9a27" stroke-width="0.9"/>
<path d="M189.17,261.14 L190.87,264.40 L187.47,264.40 Z" fill="none" stroke="#eb9a27" stroke-width="0.9"/>
<circle cx="185.68" cy="257.43" r="1.7" fill="none" stroke="#eb9a27" stroke-width="0.9"/>
<rect x="183.89" y="254.60" width="3.40" height="3.40" fill="none" stroke="#eb9a27" stroke-width="0.9"/>
<line x1="184.05" y1="265.28" x2="190.45" y2="265.28" stroke="#4a4a58" stroke-width="0.8"/>
<line x1="187.25" y1="258.55" x2="187.25" y2="272.01" stroke="#4a4a58" stroke-width="0.7"/>
<line x1="185.65" y1="258.55" x2="188.85" y2="258.55" stroke="#4a4a58" stroke-width="0.7"/>
<line x1="185.65" y1="272.01" x2="188.85" y2="272.01" stroke="#4a4a58" stroke-width="0.7"/>
<circle cx="197.35" cy="267.52" r="1.7" fill="none" stroke="#eb9a27" stroke-width="0.9"/>
<circle cx="195.31" cy="265.28" r="1.7" fill="none" stroke="#eb9a27" stroke-width="0.9"/>
<circle cx="196.26" cy="263.04" r="1.7" fill="none" stroke="#eb9a27" stroke-width="0.9"/>
<circle cx="199.72" cy="260.79" r="1.7" fill="none" stroke="#eb9a27" stroke-width="0.9"/>
<circle cx="199.31" cy="258.55" r="1.7" fill="none" stroke="#eb9a27" stroke-width="0.9"/>
<circle cx="196.74" cy="249.57" r="1.7" fill="none" stroke="#eb9a27" stroke-width="0.9"/>
<line x1="194.40" y1="261.91" x2="200.80" y2="261.91" stroke="#4a4a58" stroke-width="0.8"/>
<line x1="197.60" y1="256.30" x2="197.60" y2="267.52" stroke="#4a4a58" stroke-width="0.7"/>
<line x1="196.00" y1="256.30" x2="199.20" y2="256.30" stroke="#4a4a58" stroke-width="0.7"/>
<line x1="196.00" y1="267.52" x2="199.20" y2="267.52" stroke="#4a4a58" stroke-width="0.7"/>
<circle cx="208.13" cy="272.01" r="1.7" fill="none" stroke="#eb9a27" stroke-width="0.9"/>
<circle cx="206.49" cy="270.89" r="1.7" fill="none" stroke="#eb9a27" stroke-width="0.9"/>
<path d="M210.10,267.87 L211.80,271.13 L208.40,271.13 Z" fill="none" stroke="#eb9a27" stroke-width="0.9"/>
<circle cx="207.02" cy="268.65" r="1.7" fill="none" stroke="#eb9a27" stroke-width="0.9"/>
<circle cx="207.56" cy="267.52" r="1.7" fill="none" stroke="#eb9a27" stroke-width="0.9"/>
<circle cx="206.86" cy="266.40" r="1.7" fill="none" stroke="#eb9a27" stroke-width="0.9"/>
<line x1="204.75" y1="269.21" x2="211.15" y2="269.21" stroke="#4a4a58" stroke-width="0.8"/>
<line x1="207.95" y1="266.96" x2="207.95" y2="271.45" stroke="#4a4a58" stroke-width="0.7"/>
<line x1="206.35" y1="266.96" x2="209.55" y2="266.96" stroke="#4a4a58" stroke-width="0.7"/>
<line x1="206.35" y1="271.45" x2="209.55" y2="271.45" stroke="#4a4a58" stroke-width="0.7"/>
<rect x="215.69" y="268.07" width="3.40" height="3.40" fill="none" stroke="#eb9a27" stroke-width="0.9"/>
<rect x="217.00" y="266.95" width="3.40" height="3.40" fill="none" stroke="#eb9a27" stroke-width="0.9"/>
<circle cx="219.12" cy="267.52" r="1.7" fill="none" stroke="#eb9a27" stroke-width="0.9"/>
<circle cx="216.30" cy="266.40" r="1.7" fill="none" stroke="#eb9a27" stroke-width="0.9"/>
<path d="M219.77,263.38 L221.47,266.64 L218.07,266.64 Z" fill="none" stroke="#eb9a27" stroke-width="0.9"/>
<line x1="215.10" y1="267.52" x2="221.50" y2="267.52" stroke="#4a4a58" stroke-width="0.8"/>
<line x1="218.30" y1="265.84" x2="218.30" y2="269.21" stroke="#4a4a58" stroke-width="0.7"/>
<line x1="216.70" y1="265.84" x2="219.90" y2="265.84" stroke="#4a4a58" stroke-width="0.7"/>
<line x1="216.70" y1="269.21" x2="219.90" y2="269.21" stroke="#4a4a58" stroke-width="0.7"/>
<circle cx="229.55" cy="261.91" r="1.7" fill="none" stroke="#eb9a27" stroke-width="0.9"/>
<circle cx="228.56" cy="259.67" r="1.7" fill="none" stroke="#eb9a27" stroke-width="0.9"/>
<circle cx="226.61" cy="257.43" r="1.7" fill="none" stroke="#eb9a27" stroke-width="0.9"/>
<circle cx="230.72" cy="256.30" r="1.7" fill="none" stroke="#eb9a27" stroke-width="0.9"/>
<circle cx="230.24" cy="254.06" r="1.7" fill="none" stroke="#eb9a27" stroke-width="0.9"/>
<path d="M228.88,240.94 L230.58,244.20 L227.18,244.20 Z" fill="none" stroke="#eb9a27" stroke-width="0.9"/>
<line x1="225.45" y1="257.43" x2="231.85" y2="257.43" stroke="#4a4a58" stroke-width="0.8"/>
<line x1="228.65" y1="252.94" x2="228.65" y2="261.91" stroke="#4a4a58" stroke-width="0.7"/>
<line x1="227.05" y1="252.94" x2="230.25" y2="252.94" stroke="#4a4a58" stroke-width="0.7"/>
<line x1="227.05" y1="261.91" x2="230.25" y2="261.91" stroke="#4a4a58" stroke-width="0.7"/>
<rect x="236.68" y="266.95" width="3.40" height="3.40" fill="none" stroke="#eb9a27" stroke-width="0.9"/>
<path d="M240.57,265.62 L242.27,268.88 L238.87,268.88 Z" fill="none" stroke="#eb9a27" stroke-width="0.9"/>
<circle cx="236.91" cy="265.28" r="1.7" fill="none" stroke="#eb9a27" stroke-width="0.9"/>
<circle cx="239.57" cy="263.04" r="1.7" fill="none" stroke="#eb9a27" stroke-width="0.9"/>
<circle cx="237.25" cy="259.67" r="1.7" fill="none" stroke="#eb9a27" stroke-width="0.9"/>
<path d="M240.98,248.79 L242.68,252.05 L239.28,252.05 Z" fill="none" stroke="#eb9a27" stroke-width="0.9"/>
<line x1="235.80" y1="264.16" x2="242.20" y2="264.16" stroke="#4a4a58" stroke-width="0.8"/>
<line x1="239.00" y1="259.67" x2="239.00" y2="268.65" stroke="#4a4a58" stroke-width="0.7"/>
<line x1="237.40" y1="259.67" x2="240.60" y2="259.67" stroke="#4a4a58" stroke-width="0.7"/>
<line x1="237.40" y1="268.65" x2="240.60" y2="268.65" stroke="#4a4a58" stroke-width="0.7"/>
<circle cx="248.63" cy="265.28" r="1.7" fill="none" stroke="#eb9a27" stroke-width="0.9"/>
<circle cx="251.16" cy="263.04" r="1.7" fill="none" stroke="#eb9a27" stroke-width="0.9"/>
<circle cx="250.62" cy="259.67" r="1.7" fill="none" stroke="#eb9a27" stroke-width="0.9"/>
<circle cx="249.76" cy="257.43" r="1.7" fill="none" stroke="#eb9a27" stroke-width="0.9"/>
<circle cx="251.00" cy="254.06" r="1.7" fill="none" stroke="#eb9a27" stroke-width="0.9"/>
<circle cx="249.04" cy="242.84" r="1.7" fill="none" stroke="#eb9a27" stroke-width="0.9"/>
<line x1="246.15" y1="258.55" x2="252.55" y2="258.55" stroke="#4a4a58" stroke-width="0.8"/>
<line x1="249.35" y1="252.94" x2="249.35" y2="264.16" stroke="#4a4a58" stroke-width="0.7"/>
<line x1="247.75" y1="252.94" x2="250.95" y2="252.94" stroke="#4a4a58" stroke-width="0.7"/>
<line x1="247.75" y1="264.16" x2="250.95" y2="264.16" stroke="#4a4a58" stroke-width="0.7"/>
<path d="M176.90,225.60 L176.90,224.50 L197.60,224.50 L197.60,225.60" fill="none" stroke="#4a4a58" stroke-width="0.95"/>
<text x="187.25" y="222.40" font-size="6.4" text-anchor="middle" fill="#333" font-weight="normal" >ns</text>
<path d="M176.90,234.00 L176.90,232.90 L187.25,232.90 L187.25,234.00" fill="none" stroke="#4a4a58" stroke-width="0.95"/>
<text x="182.07" y="230.80" font-size="6.4" text-anchor="middle" fill="#333" font-weight="normal" >ns</text>
<path d="M197.60,247.40 L197.60,246.30 L207.95,246.30 L207.95,247.40" fill="none" stroke="#4a4a58" stroke-width="0.95"/>
<rect x="200.75" y="241.80" width="1.5" height="1.9" rx="0.5" fill="#2a2a2a"/>
<rect x="203.30" y="241.80" width="1.5" height="1.9" rx="0.5" fill="#2a2a2a"/>
<path d="M218.30,231.10 L218.30,230.00 L239.00,230.00 L239.00,231.10" fill="none" stroke="#4a4a58" stroke-width="0.95"/>
<text x="228.65" y="227.90" font-size="6.4" text-anchor="middle" fill="#333" font-weight="normal" >ns</text>
<path d="M218.30,239.90 L218.30,238.80 L228.65,238.80 L228.65,239.90" fill="none" stroke="#4a4a58" stroke-width="0.95"/>
<rect x="220.18" y="234.30" width="1.5" height="1.9" rx="0.5" fill="#2a2a2a"/>
<rect x="222.73" y="234.30" width="1.5" height="1.9" rx="0.5" fill="#2a2a2a"/>
<rect x="225.28" y="234.30" width="1.5" height="1.9" rx="0.5" fill="#2a2a2a"/>
<path d="M239.00,239.90 L239.00,238.80 L249.35,238.80 L249.35,239.90" fill="none" stroke="#4a4a58" stroke-width="0.95"/>
<text x="244.18" y="236.70" font-size="6.4" text-anchor="middle" fill="#333" font-weight="normal" >ns</text>
<line x1="300.8" y1="217.9" x2="300.8" y2="276.40000000000003" stroke="#111" stroke-width="1.2"/>
<line x1="300.2" y1="275.8" x2="383" y2="275.8" stroke="#111" stroke-width="1.2"/>
<line x1="298.0" y1="221.00" x2="300.8" y2="221.00" stroke="#111" stroke-width="1"/>
<text x="294.90" y="223.60" font-size="7.3" text-anchor="end" fill="#4a4a4a" font-weight="normal" style="stroke:none">150</text>
<line x1="298.0" y1="238.13" x2="300.8" y2="238.13" stroke="#111" stroke-width="1"/>
<text x="294.90" y="240.73" font-size="7.3" text-anchor="end" fill="#4a4a4a" font-weight="normal" style="stroke:none">100</text>
<line x1="298.0" y1="255.27" x2="300.8" y2="255.27" stroke="#111" stroke-width="1"/>
<text x="294.90" y="257.87" font-size="7.3" text-anchor="end" fill="#4a4a4a" font-weight="normal" style="stroke:none">50</text>
<line x1="298.0" y1="272.40" x2="300.8" y2="272.40" stroke="#111" stroke-width="1"/>
<text x="294.90" y="275.00" font-size="7.3" text-anchor="end" fill="#4a4a4a" font-weight="normal" style="stroke:none">0</text>
<line x1="306.00" y1="275.8" x2="306.00" y2="278.6" stroke="#111" stroke-width="0.9"/>
<line x1="316.35" y1="275.8" x2="316.35" y2="278.6" stroke="#111" stroke-width="0.9"/>
<line x1="326.70" y1="275.8" x2="326.70" y2="278.6" stroke="#111" stroke-width="0.9"/>
<line x1="337.05" y1="275.8" x2="337.05" y2="278.6" stroke="#111" stroke-width="0.9"/>
<line x1="347.40" y1="275.8" x2="347.40" y2="278.6" stroke="#111" stroke-width="0.9"/>
<line x1="357.75" y1="275.8" x2="357.75" y2="278.6" stroke="#111" stroke-width="0.9"/>
<line x1="368.10" y1="275.8" x2="368.10" y2="278.6" stroke="#111" stroke-width="0.9"/>
<line x1="378.45" y1="275.8" x2="378.45" y2="278.6" stroke="#111" stroke-width="0.9"/>
<text x="334.00" y="211.70" font-size="8.5" fill="#2a2a2a" style="stroke:none" textLength="17.0" lengthAdjust="spacingAndGlyphs">mLN</text>
<text transform="translate(278.60,246.80) rotate(-90)" font-size="9" text-anchor="middle" fill="#222" style="stroke-width:0.25px" textLength="48.5" lengthAdjust="spacingAndGlyphs">Extra/intravascular</text>
<g class="xl" transform="translate(307.90,289.40) rotate(-45)"><text x="0" y="0" font-size="7.4" text-anchor="end" fill="#222" textLength="22.3" lengthAdjust="spacingAndGlyphs">WT PTX</text><text x="0.3" y="-3.3" font-size="4.8" fill="#222">−</text></g>
<g class="xl" transform="translate(318.25,289.40) rotate(-45)"><text x="0" y="0" font-size="7.4" text-anchor="end" fill="#222" textLength="22.3" lengthAdjust="spacingAndGlyphs">WT PTX</text><text x="0.3" y="-3.3" font-size="4.8" fill="#222">+</text></g>
<g class="xl" transform="translate(328.60,289.40) rotate(-45)"><text x="0" y="0" font-size="7.4" text-anchor="end" fill="#222" textLength="21.8" lengthAdjust="spacingAndGlyphs">KO PTX</text><text x="0.3" y="-3.3" font-size="4.8" fill="#222">−</text></g>
<g class="xl" transform="translate(338.95,289.40) rotate(-45)"><text x="0" y="0" font-size="7.4" text-anchor="end" fill="#222" textLength="21.8" lengthAdjust="spacingAndGlyphs">KO PTX</text><text x="0.3" y="-3.3" font-size="4.8" fill="#222">+</text></g>
<g class="xl" transform="translate(349.30,289.40) rotate(-45)"><text x="0" y="0" font-size="7.4" text-anchor="end" fill="#222" textLength="22.3" lengthAdjust="spacingAndGlyphs">WT PTX</text><text x="0.3" y="-3.3" font-size="4.8" fill="#222">−</text></g>
<g class="xl" transform="translate(359.65,289.40) rotate(-45)"><text x="0" y="0" font-size="7.4" text-anchor="end" fill="#222" textLength="22.3" lengthAdjust="spacingAndGlyphs">WT PTX</text><text x="0.3" y="-3.3" font-size="4.8" fill="#222">+</text></g>
<g class="xl" transform="translate(370.00,289.40) rotate(-45)"><text x="0" y="0" font-size="7.4" text-anchor="end" fill="#222" textLength="21.8" lengthAdjust="spacingAndGlyphs">KO PTX</text><text x="0.3" y="-3.3" font-size="4.8" fill="#222">−</text></g>
<g class="xl" transform="translate(380.35,289.40) rotate(-45)"><text x="0" y="0" font-size="7.4" text-anchor="end" fill="#222" textLength="21.8" lengthAdjust="spacingAndGlyphs">KO PTX</text><text x="0.3" y="-3.3" font-size="4.8" fill="#222">+</text></g>
<line x1="290.0" y1="309.4" x2="322.6" y2="309.4" stroke="#7a7a7a" stroke-width="1.5"/>
<line x1="329.4" y1="309.4" x2="363.4" y2="309.4" stroke="#7a7a7a" stroke-width="1.5"/>
<text x="306.27" y="318.60" font-size="7" text-anchor="middle" fill="#222" font-weight="normal" >BM</text>
<text x="346.42" y="318.60" font-size="7" text-anchor="middle" fill="#222" font-weight="normal" >BM+T</text>
<circle cx="305.19" cy="262.81" r="1.7" fill="none" stroke="#eb9a27" stroke-width="0.9"/>
<circle cx="305.52" cy="260.41" r="1.7" fill="none" stroke="#eb9a27" stroke-width="0.9"/>
<rect x="302.33" y="255.28" width="3.40" height="3.40" fill="none" stroke="#eb9a27" stroke-width="0.9"/>
<rect x="302.43" y="251.85" width="3.40" height="3.40" fill="none" stroke="#eb9a27" stroke-width="0.9"/>
<rect x="302.27" y="249.45" width="3.40" height="3.40" fill="none" stroke="#eb9a27" stroke-width="0.9"/>
<line x1="302.80" y1="256.98" x2="309.20" y2="256.98" stroke="#4a4a58" stroke-width="0.8"/>
<line x1="306.00" y1="250.81" x2="306.00" y2="263.15" stroke="#4a4a58" stroke-width="0.7"/>
<line x1="304.40" y1="250.81" x2="307.60" y2="250.81" stroke="#4a4a58" stroke-width="0.7"/>
<line x1="304.40" y1="263.15" x2="307.60" y2="263.15" stroke="#4a4a58" stroke-width="0.7"/>
<circle cx="315.04" cy="268.63" r="1.7" fill="none" stroke="#eb9a27" stroke-width="0.9"/>
<circle cx="316.04" cy="268.29" r="1.7" fill="none" stroke="#eb9a27" stroke-width="0.9"/>
<rect x="313.46" y="266.25" width="3.40" height="3.40" fill="none" stroke="#eb9a27" stroke-width="0.9"/>
<rect x="314.30" y="265.90" width="3.40" height="3.40" fill="none" stroke="#eb9a27" stroke-width="0.9"/>
<circle cx="314.62" cy="267.26" r="1.7" fill="none" stroke="#eb9a27" stroke-width="0.9"/>
<line x1="313.15" y1="267.95" x2="319.55" y2="267.95" stroke="#4a4a58" stroke-width="0.8"/>
<line x1="316.35" y1="267.26" x2="316.35" y2="268.63" stroke="#4a4a58" stroke-width="0.7"/>
<line x1="314.75" y1="267.26" x2="317.95" y2="267.26" stroke="#4a4a58" stroke-width="0.7"/>
<line x1="314.75" y1="268.63" x2="317.95" y2="268.63" stroke="#4a4a58" stroke-width="0.7"/>
<rect x="325.60" y="257.68" width="3.40" height="3.40" fill="none" stroke="#eb9a27" stroke-width="0.9"/>
<rect x="327.06" y="251.85" width="3.40" height="3.40" fill="none" stroke="#eb9a27" stroke-width="0.9"/>
<circle cx="327.09" cy="248.41" r="1.7" fill="none" stroke="#eb9a27" stroke-width="0.9"/>
<circle cx="328.89" cy="239.85" r="1.7" fill="none" stroke="#eb9a27" stroke-width="0.9"/>
<circle cx="326.96" cy="234.02" r="1.7" fill="none" stroke="#eb9a27" stroke-width="0.9"/>
<circle cx="325.73" cy="227.85" r="1.7" fill="none" stroke="#eb9a27" stroke-width="0.9"/>
<line x1="323.50" y1="246.70" x2="329.90" y2="246.70" stroke="#4a4a58" stroke-width="0.8"/>
<line x1="326.70" y1="233.68" x2="326.70" y2="259.72" stroke="#4a4a58" stroke-width="0.7"/>
<line x1="325.10" y1="233.68" x2="328.30" y2="233.68" stroke="#4a4a58" stroke-width="0.7"/>
<line x1="325.10" y1="259.72" x2="328.30" y2="259.72" stroke="#4a4a58" stroke-width="0.7"/>
<rect x="335.54" y="269.67" width="3.40" height="3.40" fill="none" stroke="#eb9a27" stroke-width="0.9"/>
<circle cx="336.17" cy="271.03" r="1.7" fill="none" stroke="#eb9a27" stroke-width="0.9"/>
<rect x="333.52" y="268.99" width="3.40" height="3.40" fill="none" stroke="#eb9a27" stroke-width="0.9"/>
<circle cx="337.69" cy="270.34" r="1.7" fill="none" stroke="#eb9a27" stroke-width="0.9"/>
<circle cx="335.20" cy="270.00" r="1.7" fill="none" stroke="#eb9a27" stroke-width="0.9"/>
<line x1="333.85" y1="270.69" x2="340.25" y2="270.69" stroke="#4a4a58" stroke-width="0.8"/>
<line x1="337.05" y1="270.00" x2="337.05" y2="271.37" stroke="#4a4a58" stroke-width="0.7"/>
<line x1="335.45" y1="270.00" x2="338.65" y2="270.00" stroke="#4a4a58" stroke-width="0.7"/>
<line x1="335.45" y1="271.37" x2="338.65" y2="271.37" stroke="#4a4a58" stroke-width="0.7"/>
<rect x="346.00" y="269.67" width="3.40" height="3.40" fill="none" stroke="#eb9a27" stroke-width="0.9"/>
<rect x="344.35" y="268.99" width="3.40" height="3.40" fill="none" stroke="#eb9a27" stroke-width="0.9"/>
<circle cx="347.07" cy="270.00" r="1.7" fill="none" stroke="#eb9a27" stroke-width="0.9"/>
<path d="M347.24,267.42 L348.94,270.68 L345.54,270.68 Z" fill="none" stroke="#eb9a27" stroke-width="0.9"/>
<circle cx="346.76" cy="268.29" r="1.7" fill="none" stroke="#eb9a27" stroke-width="0.9"/>
<line x1="344.20" y1="270.00" x2="350.60" y2="270.00" stroke="#4a4a58" stroke-width="0.8"/>
<line x1="347.40" y1="268.63" x2="347.40" y2="271.37" stroke="#4a4a58" stroke-width="0.7"/>
<line x1="345.80" y1="268.63" x2="349.00" y2="268.63" stroke="#4a4a58" stroke-width="0.7"/>
<line x1="345.80" y1="271.37" x2="349.00" y2="271.37" stroke="#4a4a58" stroke-width="0.7"/>
<circle cx="359.10" cy="272.40" r="1.7" fill="none" stroke="#eb9a27" stroke-width="0.9"/>
<circle cx="355.83" cy="272.23" r="1.7" fill="none" stroke="#eb9a27" stroke-width="0.9"/>
<circle cx="357.87" cy="272.06" r="1.7" fill="none" stroke="#eb9a27" stroke-width="0.9"/>
<circle cx="358.81" cy="271.89" r="1.7" fill="none" stroke="#eb9a27" stroke-width="0.9"/>
<circle cx="358.25" cy="271.71" r="1.7" fill="none" stroke="#eb9a27" stroke-width="0.9"/>
<line x1="354.55" y1="272.06" x2="360.95" y2="272.06" stroke="#4a4a58" stroke-width="0.8"/>
<line x1="357.75" y1="271.71" x2="357.75" y2="272.40" stroke="#4a4a58" stroke-width="0.7"/>
<line x1="356.15" y1="271.71" x2="359.35" y2="271.71" stroke="#4a4a58" stroke-width="0.7"/>
<line x1="356.15" y1="272.40" x2="359.35" y2="272.40" stroke="#4a4a58" stroke-width="0.7"/>
<path d="M366.34,266.39 L368.04,269.65 L364.64,269.65 Z" fill="none" stroke="#eb9a27" stroke-width="0.9"/>
<circle cx="366.56" cy="265.55" r="1.7" fill="none" stroke="#eb9a27" stroke-width="0.9"/>
<path d="M366.50,260.91 L368.20,264.17 L364.80,264.17 Z" fill="none" stroke="#eb9a27" stroke-width="0.9"/>
<circle cx="367.74" cy="260.41" r="1.7" fill="none" stroke="#eb9a27" stroke-width="0.9"/>
<rect x="367.62" y="255.28" width="3.40" height="3.40" fill="none" stroke="#eb9a27" stroke-width="0.9"/>
<circle cx="369.43" cy="253.55" r="1.7" fill="none" stroke="#eb9a27" stroke-width="0.9"/>
<line x1="364.90" y1="262.81" x2="371.30" y2="262.81" stroke="#4a4a58" stroke-width="0.8"/>
<line x1="368.10" y1="257.67" x2="368.10" y2="267.95" stroke="#4a4a58" stroke-width="0.7"/>
<line x1="366.50" y1="257.67" x2="369.70" y2="257.67" stroke="#4a4a58" stroke-width="0.7"/>
<line x1="366.50" y1="267.95" x2="369.70" y2="267.95" stroke="#4a4a58" stroke-width="0.7"/>
<circle cx="377.71" cy="272.23" r="1.7" fill="none" stroke="#eb9a27" stroke-width="0.9"/>
<rect x="377.18" y="270.36" width="3.40" height="3.40" fill="none" stroke="#eb9a27" stroke-width="0.9"/>
<circle cx="379.82" cy="271.89" r="1.7" fill="none" stroke="#eb9a27" stroke-width="0.9"/>
<line x1="375.25" y1="272.06" x2="381.65" y2="272.06" stroke="#4a4a58" stroke-width="0.8"/>
<line x1="378.45" y1="271.89" x2="378.45" y2="272.23" stroke="#4a4a58" stroke-width="0.7"/>
<line x1="376.85" y1="271.89" x2="380.05" y2="271.89" stroke="#4a4a58" stroke-width="0.7"/>
<line x1="376.85" y1="272.23" x2="380.05" y2="272.23" stroke="#4a4a58" stroke-width="0.7"/>
<path d="M306.00,224.10 L306.00,223.00 L326.70,223.00 L326.70,224.10" fill="none" stroke="#4a4a58" stroke-width="0.95"/>
<text x="316.35" y="220.90" font-size="6.4" text-anchor="middle" fill="#333" font-weight="normal" >ns</text>
<path d="M326.70,224.10 L326.70,223.00 L337.05,223.00 L337.05,224.10" fill="none" stroke="#4a4a58" stroke-width="0.95"/>
<rect x="331.12" y="218.50" width="1.5" height="1.9" rx="0.5" fill="#2a2a2a"/>
<path d="M306.00,248.30 L306.00,247.20 L316.35,247.20 L316.35,248.30" fill="none" stroke="#4a4a58" stroke-width="0.95"/>
<rect x="310.43" y="242.70" width="1.5" height="1.9" rx="0.5" fill="#2a2a2a"/>
<path d="M347.40,249.90 L347.40,248.80 L368.10,248.80 L368.10,249.90" fill="none" stroke="#4a4a58" stroke-width="0.95"/>
<rect x="355.73" y="244.30" width="1.5" height="1.9" rx="0.5" fill="#2a2a2a"/>
<rect x="358.27" y="244.30" width="1.5" height="1.9" rx="0.5" fill="#2a2a2a"/>
<path d="M368.10,249.90 L368.10,248.80 L378.45,248.80 L378.45,249.90" fill="none" stroke="#4a4a58" stroke-width="0.95"/>
<rect x="368.70" y="244.30" width="1.5" height="1.9" rx="0.5" fill="#2a2a2a"/>
<rect x="371.25" y="244.30" width="1.5" height="1.9" rx="0.5" fill="#2a2a2a"/>
<rect x="373.80" y="244.30" width="1.5" height="1.9" rx="0.5" fill="#2a2a2a"/>
<rect x="376.35" y="244.30" width="1.5" height="1.9" rx="0.5" fill="#2a2a2a"/>
<path d="M347.40,263.80 L347.40,262.70 L357.75,262.70 L357.75,263.80" fill="none" stroke="#4a4a58" stroke-width="0.95"/>
<rect x="349.27" y="258.20" width="1.5" height="1.9" rx="0.5" fill="#2a2a2a"/>
<rect x="351.82" y="258.20" width="1.5" height="1.9" rx="0.5" fill="#2a2a2a"/>
<rect x="354.38" y="258.20" width="1.5" height="1.9" rx="0.5" fill="#2a2a2a"/>
<line x1="46.6" y1="345.2" x2="46.6" y2="403.70000000000005" stroke="#111" stroke-width="1.2"/>
<line x1="46.0" y1="403.1" x2="129" y2="403.1" stroke="#111" stroke-width="1.2"/>
<line x1="43.800000000000004" y1="347.50" x2="46.6" y2="347.50" stroke="#111" stroke-width="1"/>
<text x="40.70" y="350.10" font-size="7.3" text-anchor="end" fill="#4a4a4a" font-weight="normal" style="stroke:none">25</text>
<line x1="43.800000000000004" y1="358.16" x2="46.6" y2="358.16" stroke="#111" stroke-width="1"/>
<text x="40.70" y="360.76" font-size="7.3" text-anchor="end" fill="#4a4a4a" font-weight="normal" style="stroke:none">20</text>
<line x1="43.800000000000004" y1="368.82" x2="46.6" y2="368.82" stroke="#111" stroke-width="1"/>
<text x="40.70" y="371.42" font-size="7.3" text-anchor="end" fill="#4a4a4a" font-weight="normal" style="stroke:none">15</text>
<line x1="43.800000000000004" y1="379.48" x2="46.6" y2="379.48" stroke="#111" stroke-width="1"/>
<text x="40.70" y="382.08" font-size="7.3" text-anchor="end" fill="#4a4a4a" font-weight="normal" style="stroke:none">10</text>
<line x1="43.800000000000004" y1="390.14" x2="46.6" y2="390.14" stroke="#111" stroke-width="1"/>
<text x="40.70" y="392.74" font-size="7.3" text-anchor="end" fill="#4a4a4a" font-weight="normal" style="stroke:none">5</text>
<line x1="43.800000000000004" y1="400.80" x2="46.6" y2="400.80" stroke="#111" stroke-width="1"/>
<text x="40.70" y="403.40" font-size="7.3" text-anchor="end" fill="#4a4a4a" font-weight="normal" style="stroke:none">0</text>
<line x1="51.80" y1="403.1" x2="51.80" y2="405.90000000000003" stroke="#111" stroke-width="0.9"/>
<line x1="62.15" y1="403.1" x2="62.15" y2="405.90000000000003" stroke="#111" stroke-width="0.9"/>
<line x1="72.50" y1="403.1" x2="72.50" y2="405.90000000000003" stroke="#111" stroke-width="0.9"/>
<line x1="82.85" y1="403.1" x2="82.85" y2="405.90000000000003" stroke="#111" stroke-width="0.9"/>
<line x1="93.20" y1="403.1" x2="93.20" y2="405.90000000000003" stroke="#111" stroke-width="0.9"/>
<line x1="103.55" y1="403.1" x2="103.55" y2="405.90000000000003" stroke="#111" stroke-width="0.9"/>
<line x1="113.90" y1="403.1" x2="113.90" y2="405.90000000000003" stroke="#111" stroke-width="0.9"/>
<line x1="124.25" y1="403.1" x2="124.25" y2="405.90000000000003" stroke="#111" stroke-width="0.9"/>
<text x="62.80" y="336.70" font-size="8.5" fill="#2a2a2a" style="stroke:none" textLength="51.8" lengthAdjust="spacingAndGlyphs">small intestine</text>
<text transform="translate(28.40,373.60) rotate(-90)" font-size="9" text-anchor="middle" fill="#222" style="stroke-width:0.25px" textLength="48.5" lengthAdjust="spacingAndGlyphs">Extra/intravascular</text>
<g class="xl" transform="translate(53.70,416.70) rotate(-45)"><text x="0" y="0" font-size="7.4" text-anchor="end" fill="#222" textLength="22.3" lengthAdjust="spacingAndGlyphs">WT PTX</text><text x="0.3" y="-3.3" font-size="4.8" fill="#222">−</text></g>
<g class="xl" transform="translate(64.05,416.70) rotate(-45)"><text x="0" y="0" font-size="7.4" text-anchor="end" fill="#222" textLength="22.3" lengthAdjust="spacingAndGlyphs">WT PTX</text><text x="0.3" y="-3.3" font-size="4.8" fill="#222">+</text></g>
<g class="xl" transform="translate(74.40,416.70) rotate(-45)"><text x="0" y="0" font-size="7.4" text-anchor="end" fill="#222" textLength="21.8" lengthAdjust="spacingAndGlyphs">KO PTX</text><text x="0.3" y="-3.3" font-size="4.8" fill="#222">−</text></g>
<g class="xl" transform="translate(84.75,416.70) rotate(-45)"><text x="0" y="0" font-size="7.4" text-anchor="end" fill="#222" textLength="21.8" lengthAdjust="spacingAndGlyphs">KO PTX</text><text x="0.3" y="-3.3" font-size="4.8" fill="#222">+</text></g>
<g class="xl" transform="translate(95.10,416.70) rotate(-45)"><text x="0" y="0" font-size="7.4" text-anchor="end" fill="#222" textLength="22.3" lengthAdjust="spacingAndGlyphs">WT PTX</text><text x="0.3" y="-3.3" font-size="4.8" fill="#222">−</text></g>
<g class="xl" transform="translate(105.45,416.70) rotate(-45)"><text x="0" y="0" font-size="7.4" text-anchor="end" fill="#222" textLength="22.3" lengthAdjust="spacingAndGlyphs">WT PTX</text><text x="0.3" y="-3.3" font-size="4.8" fill="#222">+</text></g>
<g class="xl" transform="translate(115.80,416.70) rotate(-45)"><text x="0" y="0" font-size="7.4" text-anchor="end" fill="#222" textLength="21.8" lengthAdjust="spacingAndGlyphs">KO PTX</text><text x="0.3" y="-3.3" font-size="4.8" fill="#222">−</text></g>
<g class="xl" transform="translate(126.15,416.70) rotate(-45)"><text x="0" y="0" font-size="7.4" text-anchor="end" fill="#222" textLength="21.8" lengthAdjust="spacingAndGlyphs">KO PTX</text><text x="0.3" y="-3.3" font-size="4.8" fill="#222">+</text></g>
<line x1="35.8" y1="436.7" x2="68.3" y2="436.7" stroke="#7a7a7a" stroke-width="1.5"/>
<line x1="75.2" y1="436.7" x2="109.2" y2="436.7" stroke="#7a7a7a" stroke-width="1.5"/>
<text x="52.08" y="445.90" font-size="7" text-anchor="middle" fill="#222" font-weight="normal" >BM</text>
<text x="92.22" y="445.90" font-size="7" text-anchor="middle" fill="#222" font-weight="normal" >BM+T</text>
<circle cx="51.63" cy="396.54" r="1.7" fill="none" stroke="#eb9a27" stroke-width="0.9"/>
<circle cx="50.73" cy="395.47" r="1.7" fill="none" stroke="#eb9a27" stroke-width="0.9"/>
<circle cx="53.49" cy="394.40" r="1.7" fill="none" stroke="#eb9a27" stroke-width="0.9"/>
<path d="M51.06,373.32 L52.76,376.58 L49.36,376.58 Z" fill="none" stroke="#eb9a27" stroke-width="0.9"/>
<circle cx="53.63" cy="373.08" r="1.7" fill="none" stroke="#eb9a27" stroke-width="0.9"/>
<rect x="49.34" y="369.25" width="3.40" height="3.40" fill="none" stroke="#eb9a27" stroke-width="0.9"/>
<path d="M52.72,366.92 L54.42,370.18 L51.02,370.18 Z" fill="none" stroke="#eb9a27" stroke-width="0.9"/>
<path d="M50.28,364.79 L51.98,368.05 L48.58,368.05 Z" fill="none" stroke="#eb9a27" stroke-width="0.9"/>
<line x1="48.60" y1="381.61" x2="55.00" y2="381.61" stroke="#4a4a58" stroke-width="0.8"/>
<line x1="51.80" y1="368.82" x2="51.80" y2="394.40" stroke="#4a4a58" stroke-width="0.7"/>
<line x1="50.20" y1="368.82" x2="53.40" y2="368.82" stroke="#4a4a58" stroke-width="0.7"/>
<line x1="50.20" y1="394.40" x2="53.40" y2="394.40" stroke="#4a4a58" stroke-width="0.7"/>
<path d="M64.23,398.26 L65.93,401.52 L62.53,401.52 Z" fill="none" stroke="#eb9a27" stroke-width="0.9"/>
<circle cx="60.57" cy="399.52" r="1.7" fill="none" stroke="#eb9a27" stroke-width="0.9"/>
<circle cx="60.09" cy="398.67" r="1.7" fill="none" stroke="#eb9a27" stroke-width="0.9"/>
<rect x="60.48" y="396.33" width="3.40" height="3.40" fill="none" stroke="#eb9a27" stroke-width="0.9"/>
<path d="M60.14,395.06 L61.84,398.32 L58.44,398.32 Z" fill="none" stroke="#eb9a27" stroke-width="0.9"/>
<circle cx="63.48" cy="396.54" r="1.7" fill="none" stroke="#eb9a27" stroke-width="0.9"/>
<line x1="58.95" y1="398.67" x2="65.35" y2="398.67" stroke="#4a4a58" stroke-width="0.8"/>
<line x1="62.15" y1="397.60" x2="62.15" y2="399.73" stroke="#4a4a58" stroke-width="0.7"/>
<line x1="60.55" y1="397.60" x2="63.75" y2="397.60" stroke="#4a4a58" stroke-width="0.7"/>
<line x1="60.55" y1="399.73" x2="63.75" y2="399.73" stroke="#4a4a58" stroke-width="0.7"/>
<circle cx="74.43" cy="399.73" r="1.7" fill="none" stroke="#eb9a27" stroke-width="0.9"/>
<path d="M73.30,396.77 L75.00,400.03 L71.60,400.03 Z" fill="none" stroke="#eb9a27" stroke-width="0.9"/>
<circle cx="74.29" cy="396.54" r="1.7" fill="none" stroke="#eb9a27" stroke-width="0.9"/>
<path d="M74.39,388.24 L76.09,391.50 L72.69,391.50 Z" fill="none" stroke="#eb9a27" stroke-width="0.9"/>
<circle cx="71.49" cy="383.74" r="1.7" fill="none" stroke="#eb9a27" stroke-width="0.9"/>
<circle cx="71.12" cy="370.95" r="1.7" fill="none" stroke="#eb9a27" stroke-width="0.9"/>
<circle cx="74.25" cy="356.03" r="1.7" fill="none" stroke="#eb9a27" stroke-width="0.9"/>
<line x1="69.30" y1="384.81" x2="75.70" y2="384.81" stroke="#4a4a58" stroke-width="0.8"/>
<line x1="72.50" y1="369.89" x2="72.50" y2="399.73" stroke="#4a4a58" stroke-width="0.7"/>
<line x1="70.90" y1="369.89" x2="74.10" y2="369.89" stroke="#4a4a58" stroke-width="0.7"/>
<line x1="70.90" y1="399.73" x2="74.10" y2="399.73" stroke="#4a4a58" stroke-width="0.7"/>
<path d="M84.67,398.69 L86.37,401.95 L82.97,401.95 Z" fill="none" stroke="#eb9a27" stroke-width="0.9"/>
<circle cx="81.19" cy="400.16" r="1.7" fill="none" stroke="#eb9a27" stroke-width="0.9"/>
<circle cx="82.50" cy="399.73" r="1.7" fill="none" stroke="#eb9a27" stroke-width="0.9"/>
<circle cx="84.98" cy="400.37" r="1.7" fill="none" stroke="#eb9a27" stroke-width="0.9"/>
<line x1="79.65" y1="400.16" x2="86.05" y2="400.16" stroke="#4a4a58" stroke-width="0.8"/>
<line x1="82.85" y1="399.73" x2="82.85" y2="400.59" stroke="#4a4a58" stroke-width="0.7"/>
<line x1="81.25" y1="399.73" x2="84.45" y2="399.73" stroke="#4a4a58" stroke-width="0.7"/>
<line x1="81.25" y1="400.59" x2="84.45" y2="400.59" stroke="#4a4a58" stroke-width="0.7"/>
<rect x="89.76" y="390.57" width="3.40" height="3.40" fill="none" stroke="#eb9a27" stroke-width="0.9"/>
<circle cx="91.81" cy="388.01" r="1.7" fill="none" stroke="#eb9a27" stroke-width="0.9"/>
<circle cx="92.42" cy="383.74" r="1.7" fill="none" stroke="#eb9a27" stroke-width="0.9"/>
<circle cx="91.51" cy="381.61" r="1.7" fill="none" stroke="#eb9a27" stroke-width="0.9"/>
<rect x="91.50" y="377.78" width="3.40" height="3.40" fill="none" stroke="#eb9a27" stroke-width="0.9"/>
<circle cx="93.19" cy="377.35" r="1.7" fill="none" stroke="#eb9a27" stroke-width="0.9"/>
<path d="M92.83,371.18 L94.53,374.44 L91.13,374.44 Z" fill="none" stroke="#eb9a27" stroke-width="0.9"/>
<circle cx="91.78" cy="362.42" r="1.7" fill="none" stroke="#eb9a27" stroke-width="0.9"/>
<line x1="90.00" y1="381.61" x2="96.40" y2="381.61" stroke="#4a4a58" stroke-width="0.8"/>
<line x1="93.20" y1="373.08" x2="93.20" y2="390.14" stroke="#4a4a58" stroke-width="0.7"/>
<line x1="91.60" y1="373.08" x2="94.80" y2="373.08" stroke="#4a4a58" stroke-width="0.7"/>
<line x1="91.60" y1="390.14" x2="94.80" y2="390.14" stroke="#4a4a58" stroke-width="0.7"/>
<circle cx="104.47" cy="399.73" r="1.7" fill="none" stroke="#eb9a27" stroke-width="0.9"/>
<rect x="100.34" y="396.97" width="3.40" height="3.40" fill="none" stroke="#eb9a27" stroke-width="0.9"/>
<circle cx="104.56" cy="397.60" r="1.7" fill="none" stroke="#eb9a27" stroke-width="0.9"/>
<rect x="99.80" y="394.84" width="3.40" height="3.40" fill="none" stroke="#eb9a27" stroke-width="0.9"/>
<circle cx="104.39" cy="395.47" r="1.7" fill="none" stroke="#eb9a27" stroke-width="0.9"/>
<line x1="100.35" y1="397.60" x2="106.75" y2="397.60" stroke="#4a4a58" stroke-width="0.8"/>
<line x1="103.55" y1="395.90" x2="103.55" y2="399.31" stroke="#4a4a58" stroke-width="0.7"/>
<line x1="101.95" y1="395.90" x2="105.15" y2="395.90" stroke="#4a4a58" stroke-width="0.7"/>
<line x1="101.95" y1="399.31" x2="105.15" y2="399.31" stroke="#4a4a58" stroke-width="0.7"/>
<rect x="113.33" y="393.77" width="3.40" height="3.40" fill="none" stroke="#eb9a27" stroke-width="0.9"/>
<circle cx="116.19" cy="394.40" r="1.7" fill="none" stroke="#eb9a27" stroke-width="0.9"/>
<path d="M115.60,390.37 L117.30,393.63 L113.90,393.63 Z" fill="none" stroke="#eb9a27" stroke-width="0.9"/>
<circle cx="115.97" cy="390.14" r="1.7" fill="none" stroke="#eb9a27" stroke-width="0.9"/>
<rect x="110.64" y="386.31" width="3.40" height="3.40" fill="none" stroke="#eb9a27" stroke-width="0.9"/>
<line x1="110.70" y1="392.27" x2="117.10" y2="392.27" stroke="#4a4a58" stroke-width="0.8"/>
<line x1="113.90" y1="389.07" x2="113.90" y2="395.47" stroke="#4a4a58" stroke-width="0.7"/>
<line x1="112.30" y1="389.07" x2="115.50" y2="389.07" stroke="#4a4a58" stroke-width="0.7"/>
<line x1="112.30" y1="395.47" x2="115.50" y2="395.47" stroke="#4a4a58" stroke-width="0.7"/>
<circle cx="122.15" cy="400.59" r="1.7" fill="none" stroke="#eb9a27" stroke-width="0.9"/>
<rect x="124.14" y="398.67" width="3.40" height="3.40" fill="none" stroke="#eb9a27" stroke-width="0.9"/>
<circle cx="124.67" cy="400.16" r="1.7" fill="none" stroke="#eb9a27" stroke-width="0.9"/>
<line x1="121.05" y1="400.37" x2="127.45" y2="400.37" stroke="#4a4a58" stroke-width="0.8"/>
<line x1="124.25" y1="400.16" x2="124.25" y2="400.59" stroke="#4a4a58" stroke-width="0.7"/>
<line x1="122.65" y1="400.16" x2="125.85" y2="400.16" stroke="#4a4a58" stroke-width="0.7"/>
<line x1="122.65" y1="400.59" x2="125.85" y2="400.59" stroke="#4a4a58" stroke-width="0.7"/>
<path d="M51.80,352.20 L51.80,351.10 L72.50,351.10 L72.50,352.20" fill="none" stroke="#4a4a58" stroke-width="0.95"/>
<text x="62.15" y="349.00" font-size="6.4" text-anchor="middle" fill="#333" font-weight="normal" >ns</text>
<path d="M72.50,352.20 L72.50,351.10 L82.85,351.10 L82.85,352.20" fill="none" stroke="#4a4a58" stroke-width="0.95"/>
<rect x="76.92" y="346.60" width="1.5" height="1.9" rx="0.5" fill="#2a2a2a"/>
<path d="M51.80,362.40 L51.80,361.30 L62.15,361.30 L62.15,362.40" fill="none" stroke="#4a4a58" stroke-width="0.95"/>
<rect x="54.95" y="356.80" width="1.5" height="1.9" rx="0.5" fill="#2a2a2a"/>
<rect x="57.50" y="356.80" width="1.5" height="1.9" rx="0.5" fill="#2a2a2a"/>
<path d="M93.20,350.90 L93.20,349.80 L113.90,349.80 L113.90,350.90" fill="none" stroke="#4a4a58" stroke-width="0.95"/>
<rect x="101.53" y="345.30" width="1.5" height="1.9" rx="0.5" fill="#2a2a2a"/>
<rect x="104.08" y="345.30" width="1.5" height="1.9" rx="0.5" fill="#2a2a2a"/>
<path d="M93.20,357.90 L93.20,356.80 L103.55,356.80 L103.55,357.90" fill="none" stroke="#4a4a58" stroke-width="0.95"/>
<rect x="95.08" y="352.30" width="1.5" height="1.9" rx="0.5" fill="#2a2a2a"/>
<rect x="97.62" y="352.30" width="1.5" height="1.9" rx="0.5" fill="#2a2a2a"/>
<rect x="100.17" y="352.30" width="1.5" height="1.9" rx="0.5" fill="#2a2a2a"/>
<path d="M113.90,384.00 L113.90,382.90 L124.25,382.90 L124.25,384.00" fill="none" stroke="#4a4a58" stroke-width="0.95"/>
<rect x="115.78" y="378.40" width="1.5" height="1.9" rx="0.5" fill="#2a2a2a"/>
<rect x="118.33" y="378.40" width="1.5" height="1.9" rx="0.5" fill="#2a2a2a"/>
<rect x="120.88" y="378.40" width="1.5" height="1.9" rx="0.5" fill="#2a2a2a"/>
<line x1="171.3" y1="345.2" x2="171.3" y2="403.70000000000005" stroke="#111" stroke-width="1.2"/>
<line x1="170.70000000000002" y1="403.1" x2="254" y2="403.1" stroke="#111" stroke-width="1.2"/>
<line x1="168.5" y1="347.60" x2="171.3" y2="347.60" stroke="#111" stroke-width="1"/>
<text x="165.40" y="350.20" font-size="7.3" text-anchor="end" fill="#4a4a4a" font-weight="normal" style="stroke:none">25</text>
<line x1="168.5" y1="358.18" x2="171.3" y2="358.18" stroke="#111" stroke-width="1"/>
<text x="165.40" y="360.78" font-size="7.3" text-anchor="end" fill="#4a4a4a" font-weight="normal" style="stroke:none">20</text>
<line x1="168.5" y1="368.76" x2="171.3" y2="368.76" stroke="#111" stroke-width="1"/>
<text x="165.40" y="371.36" font-size="7.3" text-anchor="end" fill="#4a4a4a" font-weight="normal" style="stroke:none">15</text>
<line x1="168.5" y1="379.34" x2="171.3" y2="379.34" stroke="#111" stroke-width="1"/>
<text x="165.40" y="381.94" font-size="7.3" text-anchor="end" fill="#4a4a4a" font-weight="normal" style="stroke:none">10</text>
<line x1="168.5" y1="389.92" x2="171.3" y2="389.92" stroke="#111" stroke-width="1"/>
<text x="165.40" y="392.52" font-size="7.3" text-anchor="end" fill="#4a4a4a" font-weight="normal" style="stroke:none">5</text>
<line x1="168.5" y1="400.50" x2="171.3" y2="400.50" stroke="#111" stroke-width="1"/>
<text x="165.40" y="403.10" font-size="7.3" text-anchor="end" fill="#4a4a4a" font-weight="normal" style="stroke:none">0</text>
<line x1="176.80" y1="403.1" x2="176.80" y2="405.90000000000003" stroke="#111" stroke-width="0.9"/>
<line x1="187.10" y1="403.1" x2="187.10" y2="405.90000000000003" stroke="#111" stroke-width="0.9"/>
<line x1="197.40" y1="403.1" x2="197.40" y2="405.90000000000003" stroke="#111" stroke-width="0.9"/>
<line x1="207.70" y1="403.1" x2="207.70" y2="405.90000000000003" stroke="#111" stroke-width="0.9"/>
<line x1="218.00" y1="403.1" x2="218.00" y2="405.90000000000003" stroke="#111" stroke-width="0.9"/>
<line x1="228.30" y1="403.1" x2="228.30" y2="405.90000000000003" stroke="#111" stroke-width="0.9"/>
<line x1="238.60" y1="403.1" x2="238.60" y2="405.90000000000003" stroke="#111" stroke-width="0.9"/>
<line x1="248.90" y1="403.1" x2="248.90" y2="405.90000000000003" stroke="#111" stroke-width="0.9"/>
<text x="201.50" y="336.70" font-size="8.5" fill="#2a2a2a" style="stroke:none" textLength="19.6" lengthAdjust="spacingAndGlyphs">colon</text>
<text transform="translate(153.30,373.60) rotate(-90)" font-size="9" text-anchor="middle" fill="#222" style="stroke-width:0.25px" textLength="48.5" lengthAdjust="spacingAndGlyphs">Extra/intravascular</text>
<g class="xl" transform="translate(178.70,416.70) rotate(-45)"><text x="0" y="0" font-size="7.4" text-anchor="end" fill="#222" textLength="22.3" lengthAdjust="spacingAndGlyphs">WT PTX</text><text x="0.3" y="-3.3" font-size="4.8" fill="#222">−</text></g>
<g class="xl" transform="translate(189.00,416.70) rotate(-45)"><text x="0" y="0" font-size="7.4" text-anchor="end" fill="#222" textLength="22.3" lengthAdjust="spacingAndGlyphs">WT PTX</text><text x="0.3" y="-3.3" font-size="4.8" fill="#222">+</text></g>
<g class="xl" transform="translate(199.30,416.70) rotate(-45)"><text x="0" y="0" font-size="7.4" text-anchor="end" fill="#222" textLength="21.8" lengthAdjust="spacingAndGlyphs">KO PTX</text><text x="0.3" y="-3.3" font-size="4.8" fill="#222">−</text></g>
<g class="xl" transform="translate(209.60,416.70) rotate(-45)"><text x="0" y="0" font-size="7.4" text-anchor="end" fill="#222" textLength="21.8" lengthAdjust="spacingAndGlyphs">KO PTX</text><text x="0.3" y="-3.3" font-size="4.8" fill="#222">+</text></g>
<g class="xl" transform="translate(219.90,416.70) rotate(-45)"><text x="0" y="0" font-size="7.4" text-anchor="end" fill="#222" textLength="22.3" lengthAdjust="spacingAndGlyphs">WT PTX</text><text x="0.3" y="-3.3" font-size="4.8" fill="#222">−</text></g>
<g class="xl" transform="translate(230.20,416.70) rotate(-45)"><text x="0" y="0" font-size="7.4" text-anchor="end" fill="#222" textLength="22.3" lengthAdjust="spacingAndGlyphs">WT PTX</text><text x="0.3" y="-3.3" font-size="4.8" fill="#222">+</text></g>
<g class="xl" transform="translate(240.50,416.70) rotate(-45)"><text x="0" y="0" font-size="7.4" text-anchor="end" fill="#222" textLength="21.8" lengthAdjust="spacingAndGlyphs">KO PTX</text><text x="0.3" y="-3.3" font-size="4.8" fill="#222">−</text></g>
<g class="xl" transform="translate(250.80,416.70) rotate(-45)"><text x="0" y="0" font-size="7.4" text-anchor="end" fill="#222" textLength="21.8" lengthAdjust="spacingAndGlyphs">KO PTX</text><text x="0.3" y="-3.3" font-size="4.8" fill="#222">+</text></g>
<line x1="160.8" y1="436.7" x2="193.2" y2="436.7" stroke="#7a7a7a" stroke-width="1.5"/>
<line x1="200.0" y1="436.7" x2="233.9" y2="436.7" stroke="#7a7a7a" stroke-width="1.5"/>
<text x="177.00" y="445.90" font-size="7" text-anchor="middle" fill="#222" font-weight="normal" >BM</text>
<text x="216.95" y="445.90" font-size="7" text-anchor="middle" fill="#222" font-weight="normal" >BM+T</text>
<rect x="174.88" y="397.74" width="3.40" height="3.40" fill="none" stroke="#eb9a27" stroke-width="0.9"/>
<path d="M178.44,396.48 L180.14,399.74 L176.74,399.74 Z" fill="none" stroke="#eb9a27" stroke-width="0.9"/>
<rect x="174.88" y="394.57" width="3.40" height="3.40" fill="none" stroke="#eb9a27" stroke-width="0.9"/>
<rect x="173.67" y="390.34" width="3.40" height="3.40" fill="none" stroke="#eb9a27" stroke-width="0.9"/>
<rect x="174.99" y="386.10" width="3.40" height="3.40" fill="none" stroke="#eb9a27" stroke-width="0.9"/>
<circle cx="178.15" cy="372.99" r="1.7" fill="none" stroke="#eb9a27" stroke-width="0.9"/>
<line x1="173.60" y1="390.98" x2="180.00" y2="390.98" stroke="#4a4a58" stroke-width="0.8"/>
<line x1="176.80" y1="381.46" x2="176.80" y2="400.50" stroke="#4a4a58" stroke-width="0.7"/>
<line x1="175.20" y1="381.46" x2="178.40" y2="381.46" stroke="#4a4a58" stroke-width="0.7"/>
<line x1="175.20" y1="400.50" x2="178.40" y2="400.50" stroke="#4a4a58" stroke-width="0.7"/>
<circle cx="186.85" cy="400.50" r="1.7" fill="none" stroke="#eb9a27" stroke-width="0.9"/>
<circle cx="185.22" cy="399.87" r="1.7" fill="none" stroke="#eb9a27" stroke-width="0.9"/>
<path d="M187.54,397.33 L189.24,400.59 L185.84,400.59 Z" fill="none" stroke="#eb9a27" stroke-width="0.9"/>
<rect x="187.54" y="396.68" width="3.40" height="3.40" fill="none" stroke="#eb9a27" stroke-width="0.9"/>
<rect x="186.09" y="395.63" width="3.40" height="3.40" fill="none" stroke="#eb9a27" stroke-width="0.9"/>
<line x1="183.90" y1="399.44" x2="190.30" y2="399.44" stroke="#4a4a58" stroke-width="0.8"/>
<line x1="187.10" y1="398.38" x2="187.10" y2="400.50" stroke="#4a4a58" stroke-width="0.7"/>
<line x1="185.50" y1="398.38" x2="188.70" y2="398.38" stroke="#4a4a58" stroke-width="0.7"/>
<line x1="185.50" y1="400.50" x2="188.70" y2="400.50" stroke="#4a4a58" stroke-width="0.7"/>
<rect x="193.47" y="398.17" width="3.40" height="3.40" fill="none" stroke="#eb9a27" stroke-width="0.9"/>
<circle cx="195.39" cy="398.38" r="1.7" fill="none" stroke="#eb9a27" stroke-width="0.9"/>
<circle cx="195.97" cy="396.27" r="1.7" fill="none" stroke="#eb9a27" stroke-width="0.9"/>
<path d="M197.86,392.25 L199.56,395.51 L196.16,395.51 Z" fill="none" stroke="#eb9a27" stroke-width="0.9"/>
<rect x="194.90" y="388.22" width="3.40" height="3.40" fill="none" stroke="#eb9a27" stroke-width="0.9"/>
<rect x="197.28" y="377.64" width="3.40" height="3.40" fill="none" stroke="#eb9a27" stroke-width="0.9"/>
<line x1="194.20" y1="394.15" x2="200.60" y2="394.15" stroke="#4a4a58" stroke-width="0.8"/>
<line x1="197.40" y1="386.75" x2="197.40" y2="401.56" stroke="#4a4a58" stroke-width="0.7"/>
<line x1="195.80" y1="386.75" x2="199.00" y2="386.75" stroke="#4a4a58" stroke-width="0.7"/>
<line x1="195.80" y1="401.56" x2="199.00" y2="401.56" stroke="#4a4a58" stroke-width="0.7"/>
<circle cx="206.47" cy="400.29" r="1.7" fill="none" stroke="#eb9a27" stroke-width="0.9"/>
<circle cx="207.70" cy="400.08" r="1.7" fill="none" stroke="#eb9a27" stroke-width="0.9"/>
<circle cx="207.50" cy="399.65" r="1.7" fill="none" stroke="#eb9a27" stroke-width="0.9"/>
<rect x="205.57" y="397.53" width="3.40" height="3.40" fill="none" stroke="#eb9a27" stroke-width="0.9"/>
<line x1="204.50" y1="399.87" x2="210.90" y2="399.87" stroke="#4a4a58" stroke-width="0.8"/>
<line x1="207.70" y1="399.23" x2="207.70" y2="400.50" stroke="#4a4a58" stroke-width="0.7"/>
<line x1="206.10" y1="399.23" x2="209.30" y2="399.23" stroke="#4a4a58" stroke-width="0.7"/>
<line x1="206.10" y1="400.50" x2="209.30" y2="400.50" stroke="#4a4a58" stroke-width="0.7"/>
<circle cx="220.28" cy="396.27" r="1.7" fill="none" stroke="#eb9a27" stroke-width="0.9"/>
<circle cx="218.96" cy="394.15" r="1.7" fill="none" stroke="#eb9a27" stroke-width="0.9"/>
<rect x="217.49" y="388.22" width="3.40" height="3.40" fill="none" stroke="#eb9a27" stroke-width="0.9"/>
<circle cx="217.03" cy="387.80" r="1.7" fill="none" stroke="#eb9a27" stroke-width="0.9"/>
<circle cx="218.29" cy="385.69" r="1.7" fill="none" stroke="#eb9a27" stroke-width="0.9"/>
<circle cx="217.54" cy="358.18" r="1.7" fill="none" stroke="#eb9a27" stroke-width="0.9"/>
<line x1="214.80" y1="384.63" x2="221.20" y2="384.63" stroke="#4a4a58" stroke-width="0.8"/>
<line x1="218.00" y1="368.76" x2="218.00" y2="400.50" stroke="#4a4a58" stroke-width="0.7"/>
<line x1="216.40" y1="368.76" x2="219.60" y2="368.76" stroke="#4a4a58" stroke-width="0.7"/>
<line x1="216.40" y1="400.50" x2="219.60" y2="400.50" stroke="#4a4a58" stroke-width="0.7"/>
<circle cx="227.78" cy="399.02" r="1.7" fill="none" stroke="#eb9a27" stroke-width="0.9"/>
<circle cx="229.90" cy="398.38" r="1.7" fill="none" stroke="#eb9a27" stroke-width="0.9"/>
<circle cx="226.98" cy="397.75" r="1.7" fill="none" stroke="#eb9a27" stroke-width="0.9"/>
<path d="M228.16,395.21 L229.86,398.47 L226.46,398.47 Z" fill="none" stroke="#eb9a27" stroke-width="0.9"/>
<line x1="225.10" y1="397.96" x2="231.50" y2="397.96" stroke="#4a4a58" stroke-width="0.8"/>
<line x1="228.30" y1="396.90" x2="228.30" y2="399.02" stroke="#4a4a58" stroke-width="0.7"/>
<line x1="226.70" y1="396.90" x2="229.90" y2="396.90" stroke="#4a4a58" stroke-width="0.7"/>
<line x1="226.70" y1="399.02" x2="229.90" y2="399.02" stroke="#4a4a58" stroke-width="0.7"/>
<rect x="236.53" y="393.51" width="3.40" height="3.40" fill="none" stroke="#eb9a27" stroke-width="0.9"/>
<circle cx="239.20" cy="394.15" r="1.7" fill="none" stroke="#eb9a27" stroke-width="0.9"/>
<circle cx="237.85" cy="392.04" r="1.7" fill="none" stroke="#eb9a27" stroke-width="0.9"/>
<path d="M237.83,388.02 L239.53,391.28 L236.13,391.28 Z" fill="none" stroke="#eb9a27" stroke-width="0.9"/>
<circle cx="239.79" cy="385.69" r="1.7" fill="none" stroke="#eb9a27" stroke-width="0.9"/>
<line x1="235.40" y1="392.46" x2="241.80" y2="392.46" stroke="#4a4a58" stroke-width="0.8"/>
<line x1="238.60" y1="389.29" x2="238.60" y2="395.63" stroke="#4a4a58" stroke-width="0.7"/>
<line x1="237.00" y1="389.29" x2="240.20" y2="389.29" stroke="#4a4a58" stroke-width="0.7"/>
<line x1="237.00" y1="395.63" x2="240.20" y2="395.63" stroke="#4a4a58" stroke-width="0.7"/>
<circle cx="247.22" cy="400.08" r="1.7" fill="none" stroke="#eb9a27" stroke-width="0.9"/>
<path d="M246.65,397.75 L248.35,401.01 L244.95,401.01 Z" fill="none" stroke="#eb9a27" stroke-width="0.9"/>
<circle cx="250.27" cy="399.23" r="1.7" fill="none" stroke="#eb9a27" stroke-width="0.9"/>
<circle cx="249.74" cy="398.38" r="1.7" fill="none" stroke="#eb9a27" stroke-width="0.9"/>
<line x1="245.70" y1="399.44" x2="252.10" y2="399.44" stroke="#4a4a58" stroke-width="0.8"/>
<line x1="248.90" y1="398.60" x2="248.90" y2="400.29" stroke="#4a4a58" stroke-width="0.7"/>
<line x1="247.30" y1="398.60" x2="250.50" y2="398.60" stroke="#4a4a58" stroke-width="0.7"/>
<line x1="247.30" y1="400.29" x2="250.50" y2="400.29" stroke="#4a4a58" stroke-width="0.7"/>
<path d="M176.80,361.40 L176.80,360.30 L197.40,360.30 L197.40,361.40" fill="none" stroke="#4a4a58" stroke-width="0.95"/>
<text x="187.10" y="358.20" font-size="6.4" text-anchor="middle" fill="#333" font-weight="normal" >ns</text>
<path d="M176.80,370.90 L176.80,369.80 L187.10,369.80 L187.10,370.90" fill="none" stroke="#4a4a58" stroke-width="0.95"/>
<text x="181.95" y="367.70" font-size="6.4" text-anchor="middle" fill="#333" font-weight="normal" >ns</text>
<path d="M197.40,375.50 L197.40,374.40 L207.70,374.40 L207.70,375.50" fill="none" stroke="#4a4a58" stroke-width="0.95"/>
<text x="202.55" y="372.30" font-size="6.4" text-anchor="middle" fill="#333" font-weight="normal" >ns</text>
<path d="M218.00,345.90 L218.00,344.80 L238.60,344.80 L238.60,345.90" fill="none" stroke="#4a4a58" stroke-width="0.95"/>
<text x="228.30" y="342.70" font-size="6.4" text-anchor="middle" fill="#333" font-weight="normal" >ns</text>
<path d="M218.00,355.00 L218.00,353.90 L228.30,353.90 L228.30,355.00" fill="none" stroke="#4a4a58" stroke-width="0.95"/>
<text x="223.15" y="351.80" font-size="6.4" text-anchor="middle" fill="#333" font-weight="normal" >ns</text>
<path d="M238.60,381.90 L238.60,380.80 L248.90,380.80 L248.90,381.90" fill="none" stroke="#4a4a58" stroke-width="0.95"/>
<rect x="241.73" y="376.30" width="1.5" height="1.9" rx="0.5" fill="#2a2a2a"/>
<rect x="244.28" y="376.30" width="1.5" height="1.9" rx="0.5" fill="#2a2a2a"/>
<line x1="300.6" y1="345.2" x2="300.6" y2="403.70000000000005" stroke="#111" stroke-width="1.2"/>
<line x1="300.0" y1="403.1" x2="383" y2="403.1" stroke="#111" stroke-width="1.2"/>
<line x1="297.8" y1="347.60" x2="300.6" y2="347.60" stroke="#111" stroke-width="1"/>
<text x="294.70" y="350.20" font-size="7.3" text-anchor="end" fill="#4a4a4a" font-weight="normal" style="stroke:none">3</text>
<line x1="297.8" y1="364.87" x2="300.6" y2="364.87" stroke="#111" stroke-width="1"/>
<text x="294.70" y="367.47" font-size="7.3" text-anchor="end" fill="#4a4a4a" font-weight="normal" style="stroke:none">2</text>
<line x1="297.8" y1="382.13" x2="300.6" y2="382.13" stroke="#111" stroke-width="1"/>
<text x="294.70" y="384.73" font-size="7.3" text-anchor="end" fill="#4a4a4a" font-weight="normal" style="stroke:none">1</text>
<line x1="297.8" y1="399.40" x2="300.6" y2="399.40" stroke="#111" stroke-width="1"/>
<text x="294.70" y="402.00" font-size="7.3" text-anchor="end" fill="#4a4a4a" font-weight="normal" style="stroke:none">0</text>
<line x1="305.80" y1="403.1" x2="305.80" y2="405.90000000000003" stroke="#111" stroke-width="0.9"/>
<line x1="316.15" y1="403.1" x2="316.15" y2="405.90000000000003" stroke="#111" stroke-width="0.9"/>
<line x1="326.50" y1="403.1" x2="326.50" y2="405.90000000000003" stroke="#111" stroke-width="0.9"/>
<line x1="336.85" y1="403.1" x2="336.85" y2="405.90000000000003" stroke="#111" stroke-width="0.9"/>
<line x1="347.20" y1="403.1" x2="347.20" y2="405.90000000000003" stroke="#111" stroke-width="0.9"/>
<line x1="357.55" y1="403.1" x2="357.55" y2="405.90000000000003" stroke="#111" stroke-width="0.9"/>
<line x1="367.90" y1="403.1" x2="367.90" y2="405.90000000000003" stroke="#111" stroke-width="0.9"/>
<line x1="378.25" y1="403.1" x2="378.25" y2="405.90000000000003" stroke="#111" stroke-width="0.9"/>
<text x="335.10" y="336.70" font-size="8.5" fill="#2a2a2a" style="stroke:none" textLength="14.6" lengthAdjust="spacingAndGlyphs">liver</text>
<text transform="translate(278.60,373.60) rotate(-90)" font-size="9" text-anchor="middle" fill="#222" style="stroke-width:0.25px" textLength="48.5" lengthAdjust="spacingAndGlyphs">Extra/intravascular</text>
<g class="xl" transform="translate(307.70,416.70) rotate(-45)"><text x="0" y="0" font-size="7.4" text-anchor="end" fill="#222" textLength="22.3" lengthAdjust="spacingAndGlyphs">WT PTX</text><text x="0.3" y="-3.3" font-size="4.8" fill="#222">−</text></g>
<g class="xl" transform="translate(318.05,416.70) rotate(-45)"><text x="0" y="0" font-size="7.4" text-anchor="end" fill="#222" textLength="22.3" lengthAdjust="spacingAndGlyphs">WT PTX</text><text x="0.3" y="-3.3" font-size="4.8" fill="#222">+</text></g>
<g class="xl" transform="translate(328.40,416.70) rotate(-45)"><text x="0" y="0" font-size="7.4" text-anchor="end" fill="#222" textLength="21.8" lengthAdjust="spacingAndGlyphs">KO PTX</text><text x="0.3" y="-3.3" font-size="4.8" fill="#222">−</text></g>
<g class="xl" transform="translate(338.75,416.70) rotate(-45)"><text x="0" y="0" font-size="7.4" text-anchor="end" fill="#222" textLength="21.8" lengthAdjust="spacingAndGlyphs">KO PTX</text><text x="0.3" y="-3.3" font-size="4.8" fill="#222">+</text></g>
<g class="xl" transform="translate(349.10,416.70) rotate(-45)"><text x="0" y="0" font-size="7.4" text-anchor="end" fill="#222" textLength="22.3" lengthAdjust="spacingAndGlyphs">WT PTX</text><text x="0.3" y="-3.3" font-size="4.8" fill="#222">−</text></g>
<g class="xl" transform="translate(359.45,416.70) rotate(-45)"><text x="0" y="0" font-size="7.4" text-anchor="end" fill="#222" textLength="22.3" lengthAdjust="spacingAndGlyphs">WT PTX</text><text x="0.3" y="-3.3" font-size="4.8" fill="#222">+</text></g>
<g class="xl" transform="translate(369.80,416.70) rotate(-45)"><text x="0" y="0" font-size="7.4" text-anchor="end" fill="#222" textLength="21.8" lengthAdjust="spacingAndGlyphs">KO PTX</text><text x="0.3" y="-3.3" font-size="4.8" fill="#222">−</text></g>
<g class="xl" transform="translate(380.15,416.70) rotate(-45)"><text x="0" y="0" font-size="7.4" text-anchor="end" fill="#222" textLength="21.8" lengthAdjust="spacingAndGlyphs">KO PTX</text><text x="0.3" y="-3.3" font-size="4.8" fill="#222">+</text></g>
<line x1="289.8" y1="436.7" x2="322.4" y2="436.7" stroke="#7a7a7a" stroke-width="1.5"/>
<line x1="329.2" y1="436.7" x2="363.2" y2="436.7" stroke="#7a7a7a" stroke-width="1.5"/>
<text x="306.08" y="445.90" font-size="7" text-anchor="middle" fill="#222" font-weight="normal" >BM</text>
<text x="346.23" y="445.90" font-size="7" text-anchor="middle" fill="#222" font-weight="normal" >BM+T</text>
<circle cx="304.69" cy="397.67" r="1.7" fill="none" stroke="#eb9a27" stroke-width="0.9"/>
<circle cx="306.50" cy="397.33" r="1.7" fill="none" stroke="#eb9a27" stroke-width="0.9"/>
<circle cx="307.50" cy="396.98" r="1.7" fill="none" stroke="#eb9a27" stroke-width="0.9"/>
<rect x="302.40" y="395.80" width="3.40" height="3.40" fill="none" stroke="#eb9a27" stroke-width="0.9"/>
<circle cx="307.39" cy="397.16" r="1.7" fill="none" stroke="#eb9a27" stroke-width="0.9"/>
<circle cx="303.64" cy="397.33" r="1.7" fill="none" stroke="#eb9a27" stroke-width="0.9"/>
<rect x="305.65" y="395.97" width="3.40" height="3.40" fill="none" stroke="#eb9a27" stroke-width="0.9"/>
<line x1="302.60" y1="397.33" x2="309.00" y2="397.33" stroke="#4a4a58" stroke-width="0.8"/>
<circle cx="318.44" cy="399.23" r="1.7" fill="none" stroke="#eb9a27" stroke-width="0.9"/>
<circle cx="317.69" cy="399.05" r="1.7" fill="none" stroke="#eb9a27" stroke-width="0.9"/>
<circle cx="317.86" cy="398.88" r="1.7" fill="none" stroke="#eb9a27" stroke-width="0.9"/>
<path d="M317.65,397.15 L319.35,400.41 L315.95,400.41 Z" fill="none" stroke="#eb9a27" stroke-width="0.9"/>
<circle cx="318.22" cy="399.23" r="1.7" fill="none" stroke="#eb9a27" stroke-width="0.9"/>
<circle cx="315.49" cy="398.88" r="1.7" fill="none" stroke="#eb9a27" stroke-width="0.9"/>
<line x1="312.95" y1="399.05" x2="319.35" y2="399.05" stroke="#4a4a58" stroke-width="0.8"/>
<rect x="324.74" y="397.35" width="3.40" height="3.40" fill="none" stroke="#eb9a27" stroke-width="0.9"/>
<path d="M326.80,396.98 L328.50,400.24 L325.10,400.24 Z" fill="none" stroke="#eb9a27" stroke-width="0.9"/>
<path d="M327.29,396.81 L328.99,400.07 L325.59,400.07 Z" fill="none" stroke="#eb9a27" stroke-width="0.9"/>
<circle cx="327.14" cy="398.88" r="1.7" fill="none" stroke="#eb9a27" stroke-width="0.9"/>
<rect x="324.09" y="397.35" width="3.40" height="3.40" fill="none" stroke="#eb9a27" stroke-width="0.9"/>
<line x1="323.30" y1="398.88" x2="329.70" y2="398.88" stroke="#4a4a58" stroke-width="0.8"/>
<circle cx="338.22" cy="399.23" r="1.7" fill="none" stroke="#eb9a27" stroke-width="0.9"/>
<rect x="336.03" y="397.35" width="3.40" height="3.40" fill="none" stroke="#eb9a27" stroke-width="0.9"/>
<circle cx="337.36" cy="398.88" r="1.7" fill="none" stroke="#eb9a27" stroke-width="0.9"/>
<path d="M336.58,397.15 L338.28,400.41 L334.88,400.41 Z" fill="none" stroke="#eb9a27" stroke-width="0.9"/>
<circle cx="337.02" cy="399.23" r="1.7" fill="none" stroke="#eb9a27" stroke-width="0.9"/>
<line x1="333.65" y1="399.05" x2="340.05" y2="399.05" stroke="#4a4a58" stroke-width="0.8"/>
<rect x="344.13" y="392.52" width="3.40" height="3.40" fill="none" stroke="#eb9a27" stroke-width="0.9"/>
<circle cx="346.54" cy="393.70" r="1.7" fill="none" stroke="#eb9a27" stroke-width="0.9"/>
<rect x="345.31" y="391.48" width="3.40" height="3.40" fill="none" stroke="#eb9a27" stroke-width="0.9"/>
<circle cx="346.19" cy="392.49" r="1.7" fill="none" stroke="#eb9a27" stroke-width="0.9"/>
<rect x="345.86" y="390.45" width="3.40" height="3.40" fill="none" stroke="#eb9a27" stroke-width="0.9"/>
<circle cx="345.98" cy="391.63" r="1.7" fill="none" stroke="#eb9a27" stroke-width="0.9"/>
<circle cx="348.98" cy="390.77" r="1.7" fill="none" stroke="#eb9a27" stroke-width="0.9"/>
<path d="M345.50,388.00 L347.20,391.26 L343.80,391.26 Z" fill="none" stroke="#eb9a27" stroke-width="0.9"/>
<path d="M347.90,376.78 L349.60,380.04 L346.20,380.04 Z" fill="none" stroke="#eb9a27" stroke-width="0.9"/>
<path d="M346.69,364.69 L348.39,367.95 L344.99,367.95 Z" fill="none" stroke="#eb9a27" stroke-width="0.9"/>
<line x1="344.00" y1="388.18" x2="350.40" y2="388.18" stroke="#4a4a58" stroke-width="0.8"/>
<line x1="347.20" y1="379.54" x2="347.20" y2="396.81" stroke="#4a4a58" stroke-width="0.7"/>
<line x1="345.60" y1="379.54" x2="348.80" y2="379.54" stroke="#4a4a58" stroke-width="0.7"/>
<line x1="345.60" y1="396.81" x2="348.80" y2="396.81" stroke="#4a4a58" stroke-width="0.7"/>
<circle cx="359.54" cy="395.95" r="1.7" fill="none" stroke="#eb9a27" stroke-width="0.9"/>
<path d="M356.28,393.18 L357.98,396.44 L354.58,396.44 Z" fill="none" stroke="#eb9a27" stroke-width="0.9"/>
<path d="M358.96,392.32 L360.66,395.58 L357.26,395.58 Z" fill="none" stroke="#eb9a27" stroke-width="0.9"/>
<circle cx="358.19" cy="393.36" r="1.7" fill="none" stroke="#eb9a27" stroke-width="0.9"/>
<circle cx="358.62" cy="392.49" r="1.7" fill="none" stroke="#eb9a27" stroke-width="0.9"/>
<circle cx="359.33" cy="391.63" r="1.7" fill="none" stroke="#eb9a27" stroke-width="0.9"/>
<circle cx="356.18" cy="390.77" r="1.7" fill="none" stroke="#eb9a27" stroke-width="0.9"/>
<circle cx="357.64" cy="376.95" r="1.7" fill="none" stroke="#eb9a27" stroke-width="0.9"/>
<rect x="357.70" y="351.08" width="3.40" height="3.40" fill="none" stroke="#eb9a27" stroke-width="0.9"/>
<line x1="354.35" y1="386.45" x2="360.75" y2="386.45" stroke="#4a4a58" stroke-width="0.8"/>
<line x1="357.55" y1="371.77" x2="357.55" y2="401.13" stroke="#4a4a58" stroke-width="0.7"/>
<line x1="355.95" y1="371.77" x2="359.15" y2="371.77" stroke="#4a4a58" stroke-width="0.7"/>
<line x1="355.95" y1="401.13" x2="359.15" y2="401.13" stroke="#4a4a58" stroke-width="0.7"/>
<path d="M366.69,393.18 L368.39,396.44 L364.99,396.44 Z" fill="none" stroke="#eb9a27" stroke-width="0.9"/>
<rect x="364.87" y="392.52" width="3.40" height="3.40" fill="none" stroke="#eb9a27" stroke-width="0.9"/>
<rect x="364.10" y="391.66" width="3.40" height="3.40" fill="none" stroke="#eb9a27" stroke-width="0.9"/>
<rect x="364.08" y="390.79" width="3.40" height="3.40" fill="none" stroke="#eb9a27" stroke-width="0.9"/>
<circle cx="368.95" cy="391.63" r="1.7" fill="none" stroke="#eb9a27" stroke-width="0.9"/>
<circle cx="366.44" cy="390.77" r="1.7" fill="none" stroke="#eb9a27" stroke-width="0.9"/>
<rect x="364.66" y="375.25" width="3.40" height="3.40" fill="none" stroke="#eb9a27" stroke-width="0.9"/>
<circle cx="366.12" cy="363.14" r="1.7" fill="none" stroke="#eb9a27" stroke-width="0.9"/>
<line x1="364.70" y1="387.31" x2="371.10" y2="387.31" stroke="#4a4a58" stroke-width="0.8"/>
<line x1="367.90" y1="376.95" x2="367.90" y2="397.67" stroke="#4a4a58" stroke-width="0.7"/>
<line x1="366.30" y1="376.95" x2="369.50" y2="376.95" stroke="#4a4a58" stroke-width="0.7"/>
<line x1="366.30" y1="397.67" x2="369.50" y2="397.67" stroke="#4a4a58" stroke-width="0.7"/>
<path d="M376.72,393.18 L378.42,396.44 L375.02,396.44 Z" fill="none" stroke="#eb9a27" stroke-width="0.9"/>
<rect x="377.21" y="392.52" width="3.40" height="3.40" fill="none" stroke="#eb9a27" stroke-width="0.9"/>
<circle cx="379.66" cy="393.36" r="1.7" fill="none" stroke="#eb9a27" stroke-width="0.9"/>
<circle cx="380.42" cy="392.49" r="1.7" fill="none" stroke="#eb9a27" stroke-width="0.9"/>
<rect x="377.22" y="389.93" width="3.40" height="3.40" fill="none" stroke="#eb9a27" stroke-width="0.9"/>
<circle cx="375.96" cy="380.41" r="1.7" fill="none" stroke="#eb9a27" stroke-width="0.9"/>
<circle cx="376.51" cy="360.55" r="1.7" fill="none" stroke="#eb9a27" stroke-width="0.9"/>
<line x1="375.05" y1="388.18" x2="381.45" y2="388.18" stroke="#4a4a58" stroke-width="0.8"/>
<line x1="378.25" y1="376.09" x2="378.25" y2="400.26" stroke="#4a4a58" stroke-width="0.7"/>
<line x1="376.65" y1="376.09" x2="379.85" y2="376.09" stroke="#4a4a58" stroke-width="0.7"/>
<line x1="376.65" y1="400.26" x2="379.85" y2="400.26" stroke="#4a4a58" stroke-width="0.7"/>
<path d="M305.80,385.70 L305.80,384.60 L326.50,384.60 L326.50,385.70" fill="none" stroke="#4a4a58" stroke-width="0.95"/>
<rect x="311.57" y="380.10" width="1.5" height="1.9" rx="0.5" fill="#2a2a2a"/>
<rect x="314.12" y="380.10" width="1.5" height="1.9" rx="0.5" fill="#2a2a2a"/>
<rect x="316.67" y="380.10" width="1.5" height="1.9" rx="0.5" fill="#2a2a2a"/>
<rect x="319.22" y="380.10" width="1.5" height="1.9" rx="0.5" fill="#2a2a2a"/>
<path d="M305.80,393.90 L305.80,392.80 L316.15,392.80 L316.15,393.90" fill="none" stroke="#4a4a58" stroke-width="0.95"/>
<rect x="306.40" y="388.30" width="1.5" height="1.9" rx="0.5" fill="#2a2a2a"/>
<rect x="308.95" y="388.30" width="1.5" height="1.9" rx="0.5" fill="#2a2a2a"/>
<rect x="311.50" y="388.30" width="1.5" height="1.9" rx="0.5" fill="#2a2a2a"/>
<rect x="314.05" y="388.30" width="1.5" height="1.9" rx="0.5" fill="#2a2a2a"/>
<path d="M326.50,396.30 L326.50,395.20 L336.85,395.20 L336.85,396.30" fill="none" stroke="#4a4a58" stroke-width="0.95"/>
<rect x="329.65" y="390.70" width="1.5" height="1.9" rx="0.5" fill="#2a2a2a"/>
<rect x="332.20" y="390.70" width="1.5" height="1.9" rx="0.5" fill="#2a2a2a"/>
<path d="M347.20,349.70 L347.20,348.60 L357.55,348.60 L357.55,349.70" fill="none" stroke="#4a4a58" stroke-width="0.95"/>
<text x="352.38" y="346.50" font-size="6.4" text-anchor="middle" fill="#333" font-weight="normal" >ns</text>
<path d="M367.90,358.60 L367.90,357.50 L378.25,357.50 L378.25,358.60" fill="none" stroke="#4a4a58" stroke-width="0.95"/>
<text x="373.07" y="355.40" font-size="6.4" text-anchor="middle" fill="#333" font-weight="normal" >ns</text>
<text x="6.50" y="469.50" font-size="12" text-anchor="start" fill="#111" font-weight="bold" >E</text>
<line x1="47.0" y1="472.2" x2="47.0" y2="530.8000000000001" stroke="#111" stroke-width="1.2"/>
<line x1="46.4" y1="530.2" x2="127" y2="530.2" stroke="#111" stroke-width="1.2"/>
<line x1="44.2" y1="474.90" x2="47.0" y2="474.90" stroke="#111" stroke-width="1"/>
<text x="41.10" y="477.50" font-size="7.3" text-anchor="end" fill="#4a4a4a" font-weight="normal" style="stroke:none">25</text>
<line x1="44.2" y1="485.98" x2="47.0" y2="485.98" stroke="#111" stroke-width="1"/>
<text x="41.10" y="488.58" font-size="7.3" text-anchor="end" fill="#4a4a4a" font-weight="normal" style="stroke:none">20</text>
<line x1="44.2" y1="497.06" x2="47.0" y2="497.06" stroke="#111" stroke-width="1"/>
<text x="41.10" y="499.66" font-size="7.3" text-anchor="end" fill="#4a4a4a" font-weight="normal" style="stroke:none">15</text>
<line x1="44.2" y1="508.14" x2="47.0" y2="508.14" stroke="#111" stroke-width="1"/>
<text x="41.10" y="510.74" font-size="7.3" text-anchor="end" fill="#4a4a4a" font-weight="normal" style="stroke:none">10</text>
<line x1="44.2" y1="519.22" x2="47.0" y2="519.22" stroke="#111" stroke-width="1"/>
<text x="41.10" y="521.82" font-size="7.3" text-anchor="end" fill="#4a4a4a" font-weight="normal" style="stroke:none">5</text>
<line x1="44.2" y1="530.30" x2="47.0" y2="530.30" stroke="#111" stroke-width="1"/>
<text x="41.10" y="532.90" font-size="7.3" text-anchor="end" fill="#4a4a4a" font-weight="normal" style="stroke:none">0</text>
<line x1="52.00" y1="530.2" x2="52.00" y2="533.0" stroke="#111" stroke-width="0.9"/>
<line x1="62.40" y1="530.2" x2="62.40" y2="533.0" stroke="#111" stroke-width="0.9"/>
<line x1="72.80" y1="530.2" x2="72.80" y2="533.0" stroke="#111" stroke-width="0.9"/>
<line x1="83.20" y1="530.2" x2="83.20" y2="533.0" stroke="#111" stroke-width="0.9"/>
<line x1="93.60" y1="530.2" x2="93.60" y2="533.0" stroke="#111" stroke-width="0.9"/>
<line x1="104.00" y1="530.2" x2="104.00" y2="533.0" stroke="#111" stroke-width="0.9"/>
<line x1="114.40" y1="530.2" x2="114.40" y2="533.0" stroke="#111" stroke-width="0.9"/>
<line x1="124.80" y1="530.2" x2="124.80" y2="533.0" stroke="#111" stroke-width="0.9"/>
<text x="82.20" y="466.00" font-size="8.5" fill="#2a2a2a" style="stroke:none" textLength="12.6" lengthAdjust="spacingAndGlyphs">BM</text>
<text transform="translate(28.50,534.30) rotate(-90)" font-size="9" fill="#222" style="stroke-width:0.3px" textLength="42.5" lengthAdjust="spacingAndGlyphs">Extravascular OT-1</text>
<text transform="translate(28.50,490.20) rotate(-90)" font-size="7.6" fill="#222" textLength="22.2" lengthAdjust="spacingAndGlyphs">(×10<tspan font-size="4.6" dy="-2.8">3</tspan><tspan dy="2.8">)</tspan></text>
<g class="xl" transform="translate(53.90,543.80) rotate(-45)"><text x="0" y="0" font-size="7.4" text-anchor="end" fill="#222" textLength="22.3" lengthAdjust="spacingAndGlyphs">WT PTX</text><text x="0.3" y="-3.3" font-size="4.8" fill="#222">−</text></g>
<g class="xl" transform="translate(64.30,543.80) rotate(-45)"><text x="0" y="0" font-size="7.4" text-anchor="end" fill="#222" textLength="22.3" lengthAdjust="spacingAndGlyphs">WT PTX</text><text x="0.3" y="-3.3" font-size="4.8" fill="#222">+</text></g>
<g class="xl" transform="translate(74.70,543.80) rotate(-45)"><text x="0" y="0" font-size="7.4" text-anchor="end" fill="#222" textLength="21.8" lengthAdjust="spacingAndGlyphs">KO PTX</text><text x="0.3" y="-3.3" font-size="4.8" fill="#222">−</text></g>
<g class="xl" transform="translate(85.10,543.80) rotate(-45)"><text x="0" y="0" font-size="7.4" text-anchor="end" fill="#222" textLength="21.8" lengthAdjust="spacingAndGlyphs">KO PTX</text><text x="0.3" y="-3.3" font-size="4.8" fill="#222">+</text></g>
<g class="xl" transform="translate(95.50,543.80) rotate(-45)"><text x="0" y="0" font-size="7.4" text-anchor="end" fill="#222" textLength="22.3" lengthAdjust="spacingAndGlyphs">WT PTX</text><text x="0.3" y="-3.3" font-size="4.8" fill="#222">−</text></g>
<g class="xl" transform="translate(105.90,543.80) rotate(-45)"><text x="0" y="0" font-size="7.4" text-anchor="end" fill="#222" textLength="22.3" lengthAdjust="spacingAndGlyphs">WT PTX</text><text x="0.3" y="-3.3" font-size="4.8" fill="#222">+</text></g>
<g class="xl" transform="translate(116.30,543.80) rotate(-45)"><text x="0" y="0" font-size="7.4" text-anchor="end" fill="#222" textLength="21.8" lengthAdjust="spacingAndGlyphs">KO PTX</text><text x="0.3" y="-3.3" font-size="4.8" fill="#222">−</text></g>
<g class="xl" transform="translate(126.70,543.80) rotate(-45)"><text x="0" y="0" font-size="7.4" text-anchor="end" fill="#222" textLength="21.8" lengthAdjust="spacingAndGlyphs">KO PTX</text><text x="0.3" y="-3.3" font-size="4.8" fill="#222">+</text></g>
<line x1="36.0" y1="563.8" x2="68.7" y2="563.8" stroke="#7a7a7a" stroke-width="1.5"/>
<line x1="75.6" y1="563.8" x2="109.8" y2="563.8" stroke="#7a7a7a" stroke-width="1.5"/>
<text x="52.35" y="573.00" font-size="7" text-anchor="middle" fill="#222" font-weight="normal" >BM</text>
<text x="92.70" y="573.00" font-size="7" text-anchor="middle" fill="#222" font-weight="normal" >BM+T</text>
<line x1="52.00" y1="488.20" x2="62.40" y2="513.68" stroke="#eb9a27" stroke-width="0.9"/>
<line x1="52.00" y1="492.63" x2="62.40" y2="515.90" stroke="#eb9a27" stroke-width="0.9"/>
<line x1="52.00" y1="495.95" x2="62.40" y2="517.00" stroke="#eb9a27" stroke-width="0.9"/>
<line x1="52.00" y1="498.17" x2="62.40" y2="518.11" stroke="#eb9a27" stroke-width="0.9"/>
<line x1="52.00" y1="504.82" x2="62.40" y2="519.22" stroke="#eb9a27" stroke-width="0.9"/>
<line x1="52.00" y1="505.92" x2="62.40" y2="520.33" stroke="#eb9a27" stroke-width="0.9"/>
<line x1="52.00" y1="512.57" x2="62.40" y2="521.44" stroke="#eb9a27" stroke-width="0.9"/>
<circle cx="52.00" cy="488.20" r="1.6" fill="none" stroke="#eb9a27" stroke-width="0.8"/>
<circle cx="62.40" cy="513.68" r="1.6" fill="none" stroke="#eb9a27" stroke-width="0.8"/>
<circle cx="52.00" cy="492.63" r="1.6" fill="none" stroke="#eb9a27" stroke-width="0.8"/>
<circle cx="62.40" cy="515.90" r="1.6" fill="none" stroke="#eb9a27" stroke-width="0.8"/>
<circle cx="52.00" cy="495.95" r="1.6" fill="none" stroke="#eb9a27" stroke-width="0.8"/>
<circle cx="62.40" cy="517.00" r="1.6" fill="none" stroke="#eb9a27" stroke-width="0.8"/>
<circle cx="52.00" cy="498.17" r="1.6" fill="none" stroke="#eb9a27" stroke-width="0.8"/>
<circle cx="62.40" cy="518.11" r="1.6" fill="none" stroke="#eb9a27" stroke-width="0.8"/>
<circle cx="52.00" cy="504.82" r="1.6" fill="none" stroke="#eb9a27" stroke-width="0.8"/>
<circle cx="62.40" cy="519.22" r="1.6" fill="none" stroke="#eb9a27" stroke-width="0.8"/>
<circle cx="52.00" cy="505.92" r="1.6" fill="none" stroke="#eb9a27" stroke-width="0.8"/>
<circle cx="62.40" cy="520.33" r="1.6" fill="none" stroke="#eb9a27" stroke-width="0.8"/>
<circle cx="52.00" cy="512.57" r="1.6" fill="none" stroke="#eb9a27" stroke-width="0.8"/>
<circle cx="62.40" cy="521.44" r="1.6" fill="none" stroke="#eb9a27" stroke-width="0.8"/>
<line x1="72.80" y1="482.66" x2="83.20" y2="513.68" stroke="#eb9a27" stroke-width="0.9"/>
<line x1="72.80" y1="483.76" x2="83.20" y2="514.79" stroke="#eb9a27" stroke-width="0.9"/>
<line x1="72.80" y1="489.30" x2="83.20" y2="515.90" stroke="#eb9a27" stroke-width="0.9"/>
<line x1="72.80" y1="491.52" x2="83.20" y2="521.44" stroke="#eb9a27" stroke-width="0.9"/>
<line x1="72.80" y1="498.17" x2="83.20" y2="521.44" stroke="#eb9a27" stroke-width="0.9"/>
<line x1="72.80" y1="507.03" x2="83.20" y2="521.44" stroke="#eb9a27" stroke-width="0.9"/>
<circle cx="72.80" cy="482.66" r="1.6" fill="none" stroke="#eb9a27" stroke-width="0.8"/>
<circle cx="83.20" cy="513.68" r="1.6" fill="none" stroke="#eb9a27" stroke-width="0.8"/>
<circle cx="72.80" cy="483.76" r="1.6" fill="none" stroke="#eb9a27" stroke-width="0.8"/>
<circle cx="83.20" cy="514.79" r="1.6" fill="none" stroke="#eb9a27" stroke-width="0.8"/>
<circle cx="72.80" cy="489.30" r="1.6" fill="none" stroke="#eb9a27" stroke-width="0.8"/>
<circle cx="83.20" cy="515.90" r="1.6" fill="none" stroke="#eb9a27" stroke-width="0.8"/>
<circle cx="72.80" cy="491.52" r="1.6" fill="none" stroke="#eb9a27" stroke-width="0.8"/>
<circle cx="83.20" cy="521.44" r="1.6" fill="none" stroke="#eb9a27" stroke-width="0.8"/>
<circle cx="72.80" cy="498.17" r="1.6" fill="none" stroke="#eb9a27" stroke-width="0.8"/>
<circle cx="83.20" cy="521.44" r="1.6" fill="none" stroke="#eb9a27" stroke-width="0.8"/>
<circle cx="72.80" cy="507.03" r="1.6" fill="none" stroke="#eb9a27" stroke-width="0.8"/>
<circle cx="83.20" cy="521.44" r="1.6" fill="none" stroke="#eb9a27" stroke-width="0.8"/>
<line x1="93.60" y1="525.87" x2="104.00" y2="519.22" stroke="#eb9a27" stroke-width="0.9"/>
<line x1="93.60" y1="526.98" x2="104.00" y2="520.33" stroke="#eb9a27" stroke-width="0.9"/>
<line x1="93.60" y1="524.76" x2="104.00" y2="518.11" stroke="#eb9a27" stroke-width="0.9"/>
<line x1="93.60" y1="526.31" x2="104.00" y2="521.44" stroke="#eb9a27" stroke-width="0.9"/>
<line x1="93.60" y1="527.64" x2="104.00" y2="518.78" stroke="#eb9a27" stroke-width="0.9"/>
<circle cx="93.60" cy="525.87" r="1.6" fill="none" stroke="#eb9a27" stroke-width="0.8"/>
<circle cx="104.00" cy="519.22" r="1.6" fill="none" stroke="#eb9a27" stroke-width="0.8"/>
<circle cx="93.60" cy="526.98" r="1.6" fill="none" stroke="#eb9a27" stroke-width="0.8"/>
<circle cx="104.00" cy="520.33" r="1.6" fill="none" stroke="#eb9a27" stroke-width="0.8"/>
<circle cx="93.60" cy="524.76" r="1.6" fill="none" stroke="#eb9a27" stroke-width="0.8"/>
<circle cx="104.00" cy="518.11" r="1.6" fill="none" stroke="#eb9a27" stroke-width="0.8"/>
<circle cx="93.60" cy="526.31" r="1.6" fill="none" stroke="#eb9a27" stroke-width="0.8"/>
<circle cx="104.00" cy="521.44" r="1.6" fill="none" stroke="#eb9a27" stroke-width="0.8"/>
<circle cx="93.60" cy="527.64" r="1.6" fill="none" stroke="#eb9a27" stroke-width="0.8"/>
<circle cx="104.00" cy="518.78" r="1.6" fill="none" stroke="#eb9a27" stroke-width="0.8"/>
<line x1="114.40" y1="523.65" x2="124.80" y2="521.44" stroke="#eb9a27" stroke-width="0.9"/>
<line x1="114.40" y1="522.54" x2="124.80" y2="519.22" stroke="#eb9a27" stroke-width="0.9"/>
<line x1="114.40" y1="524.76" x2="124.80" y2="522.54" stroke="#eb9a27" stroke-width="0.9"/>
<line x1="114.40" y1="524.10" x2="124.80" y2="520.33" stroke="#eb9a27" stroke-width="0.9"/>
<line x1="114.40" y1="523.21" x2="124.80" y2="523.65" stroke="#eb9a27" stroke-width="0.9"/>
<circle cx="114.40" cy="523.65" r="1.6" fill="none" stroke="#eb9a27" stroke-width="0.8"/>
<circle cx="124.80" cy="521.44" r="1.6" fill="none" stroke="#eb9a27" stroke-width="0.8"/>
<circle cx="114.40" cy="522.54" r="1.6" fill="none" stroke="#eb9a27" stroke-width="0.8"/>
<circle cx="124.80" cy="519.22" r="1.6" fill="none" stroke="#eb9a27" stroke-width="0.8"/>
<circle cx="114.40" cy="524.76" r="1.6" fill="none" stroke="#eb9a27" stroke-width="0.8"/>
<circle cx="124.80" cy="522.54" r="1.6" fill="none" stroke="#eb9a27" stroke-width="0.8"/>
<circle cx="114.40" cy="524.10" r="1.6" fill="none" stroke="#eb9a27" stroke-width="0.8"/>
<circle cx="124.80" cy="520.33" r="1.6" fill="none" stroke="#eb9a27" stroke-width="0.8"/>
<circle cx="114.40" cy="523.21" r="1.6" fill="none" stroke="#eb9a27" stroke-width="0.8"/>
<circle cx="124.80" cy="523.65" r="1.6" fill="none" stroke="#eb9a27" stroke-width="0.8"/>
<path d="M52.00,484.90 L52.00,483.80 L62.40,483.80 L62.40,484.90" fill="none" stroke="#4a4a58" stroke-width="0.95"/>
<rect x="53.90" y="479.30" width="1.5" height="1.9" rx="0.5" fill="#2a2a2a"/>
<rect x="56.45" y="479.30" width="1.5" height="1.9" rx="0.5" fill="#2a2a2a"/>
<rect x="59.00" y="479.30" width="1.5" height="1.9" rx="0.5" fill="#2a2a2a"/>
<path d="M72.80,479.20 L72.80,478.10 L83.20,478.10 L83.20,479.20" fill="none" stroke="#4a4a58" stroke-width="0.95"/>
<rect x="73.42" y="473.60" width="1.5" height="1.9" rx="0.5" fill="#2a2a2a"/>
<rect x="75.97" y="473.60" width="1.5" height="1.9" rx="0.5" fill="#2a2a2a"/>
<rect x="78.53" y="473.60" width="1.5" height="1.9" rx="0.5" fill="#2a2a2a"/>
<rect x="81.08" y="473.60" width="1.5" height="1.9" rx="0.5" fill="#2a2a2a"/>
<path d="M93.60,508.00 L93.60,506.90 L114.40,506.90 L114.40,508.00" fill="none" stroke="#4a4a58" stroke-width="0.95"/>
<rect x="101.97" y="502.40" width="1.5" height="1.9" rx="0.5" fill="#2a2a2a"/>
<rect x="104.53" y="502.40" width="1.5" height="1.9" rx="0.5" fill="#2a2a2a"/>
<path d="M93.60,515.60 L93.60,514.50 L104.00,514.50 L104.00,515.60" fill="none" stroke="#4a4a58" stroke-width="0.95"/>
<rect x="94.22" y="510.00" width="1.5" height="1.9" rx="0.5" fill="#2a2a2a"/>
<rect x="96.77" y="510.00" width="1.5" height="1.9" rx="0.5" fill="#2a2a2a"/>
<rect x="99.33" y="510.00" width="1.5" height="1.9" rx="0.5" fill="#2a2a2a"/>
<rect x="101.88" y="510.00" width="1.5" height="1.9" rx="0.5" fill="#2a2a2a"/>
<path d="M114.40,517.50 L114.40,516.40 L124.80,516.40 L124.80,517.50" fill="none" stroke="#4a4a58" stroke-width="0.95"/>
<text x="119.60" y="514.30" font-size="6.4" text-anchor="middle" fill="#333" font-weight="normal" >ns</text>
<line x1="172.2" y1="472.5" x2="172.2" y2="530.7" stroke="#111" stroke-width="1.2"/>
<line x1="171.6" y1="530.1" x2="254" y2="530.1" stroke="#111" stroke-width="1.2"/>
<line x1="169.39999999999998" y1="475.10" x2="172.2" y2="475.10" stroke="#111" stroke-width="1"/>
<text x="166.30" y="477.70" font-size="7.3" text-anchor="end" fill="#4a4a4a" font-weight="normal" style="stroke:none">8</text>
<line x1="169.39999999999998" y1="488.05" x2="172.2" y2="488.05" stroke="#111" stroke-width="1"/>
<text x="166.30" y="490.65" font-size="7.3" text-anchor="end" fill="#4a4a4a" font-weight="normal" style="stroke:none">6</text>
<line x1="169.39999999999998" y1="501.00" x2="172.2" y2="501.00" stroke="#111" stroke-width="1"/>
<text x="166.30" y="503.60" font-size="7.3" text-anchor="end" fill="#4a4a4a" font-weight="normal" style="stroke:none">4</text>
<line x1="169.39999999999998" y1="513.95" x2="172.2" y2="513.95" stroke="#111" stroke-width="1"/>
<text x="166.30" y="516.55" font-size="7.3" text-anchor="end" fill="#4a4a4a" font-weight="normal" style="stroke:none">2</text>
<line x1="169.39999999999998" y1="526.90" x2="172.2" y2="526.90" stroke="#111" stroke-width="1"/>
<text x="166.30" y="529.50" font-size="7.3" text-anchor="end" fill="#4a4a4a" font-weight="normal" style="stroke:none">0</text>
<line x1="177.20" y1="530.1" x2="177.20" y2="532.9" stroke="#111" stroke-width="0.9"/>
<line x1="187.55" y1="530.1" x2="187.55" y2="532.9" stroke="#111" stroke-width="0.9"/>
<line x1="197.90" y1="530.1" x2="197.90" y2="532.9" stroke="#111" stroke-width="0.9"/>
<line x1="208.25" y1="530.1" x2="208.25" y2="532.9" stroke="#111" stroke-width="0.9"/>
<line x1="218.60" y1="530.1" x2="218.60" y2="532.9" stroke="#111" stroke-width="0.9"/>
<line x1="228.95" y1="530.1" x2="228.95" y2="532.9" stroke="#111" stroke-width="0.9"/>
<line x1="239.30" y1="530.1" x2="239.30" y2="532.9" stroke="#111" stroke-width="0.9"/>
<line x1="249.65" y1="530.1" x2="249.65" y2="532.9" stroke="#111" stroke-width="0.9"/>
<text x="201.70" y="466.30" font-size="8.5" fill="#2a2a2a" style="stroke:none" textLength="23.6" lengthAdjust="spacingAndGlyphs">spleen</text>
<text transform="translate(156.20,534.20) rotate(-90)" font-size="9" fill="#222" style="stroke-width:0.3px" textLength="43" lengthAdjust="spacingAndGlyphs">Extravascular OT-1</text>
<text transform="translate(156.20,489.60) rotate(-90)" font-size="7.6" fill="#222" textLength="22.2" lengthAdjust="spacingAndGlyphs">(×10<tspan font-size="4.6" dy="-2.8">3</tspan><tspan dy="2.8">)</tspan></text>
<g class="xl" transform="translate(179.10,543.70) rotate(-45)"><text x="0" y="0" font-size="7.4" text-anchor="end" fill="#222" textLength="22.3" lengthAdjust="spacingAndGlyphs">WT PTX</text><text x="0.3" y="-3.3" font-size="4.8" fill="#222">−</text></g>
<g class="xl" transform="translate(189.45,543.70) rotate(-45)"><text x="0" y="0" font-size="7.4" text-anchor="end" fill="#222" textLength="22.3" lengthAdjust="spacingAndGlyphs">WT PTX</text><text x="0.3" y="-3.3" font-size="4.8" fill="#222">+</text></g>
<g class="xl" transform="translate(199.80,543.70) rotate(-45)"><text x="0" y="0" font-size="7.4" text-anchor="end" fill="#222" textLength="21.8" lengthAdjust="spacingAndGlyphs">KO PTX</text><text x="0.3" y="-3.3" font-size="4.8" fill="#222">−</text></g>
<g class="xl" transform="translate(210.15,543.70) rotate(-45)"><text x="0" y="0" font-size="7.4" text-anchor="end" fill="#222" textLength="21.8" lengthAdjust="spacingAndGlyphs">KO PTX</text><text x="0.3" y="-3.3" font-size="4.8" fill="#222">+</text></g>
<g class="xl" transform="translate(220.50,543.70) rotate(-45)"><text x="0" y="0" font-size="7.4" text-anchor="end" fill="#222" textLength="22.3" lengthAdjust="spacingAndGlyphs">WT PTX</text><text x="0.3" y="-3.3" font-size="4.8" fill="#222">−</text></g>
<g class="xl" transform="translate(230.85,543.70) rotate(-45)"><text x="0" y="0" font-size="7.4" text-anchor="end" fill="#222" textLength="22.3" lengthAdjust="spacingAndGlyphs">WT PTX</text><text x="0.3" y="-3.3" font-size="4.8" fill="#222">+</text></g>
<g class="xl" transform="translate(241.20,543.70) rotate(-45)"><text x="0" y="0" font-size="7.4" text-anchor="end" fill="#222" textLength="21.8" lengthAdjust="spacingAndGlyphs">KO PTX</text><text x="0.3" y="-3.3" font-size="4.8" fill="#222">−</text></g>
<g class="xl" transform="translate(251.55,543.70) rotate(-45)"><text x="0" y="0" font-size="7.4" text-anchor="end" fill="#222" textLength="21.8" lengthAdjust="spacingAndGlyphs">KO PTX</text><text x="0.3" y="-3.3" font-size="4.8" fill="#222">+</text></g>
<line x1="161.2" y1="563.7" x2="193.8" y2="563.7" stroke="#7a7a7a" stroke-width="1.5"/>
<line x1="200.6" y1="563.7" x2="234.6" y2="563.7" stroke="#7a7a7a" stroke-width="1.5"/>
<text x="177.47" y="572.90" font-size="7" text-anchor="middle" fill="#222" font-weight="normal" >BM</text>
<text x="217.62" y="572.90" font-size="7" text-anchor="middle" fill="#222" font-weight="normal" >BM+T</text>
<line x1="177.20" y1="513.95" x2="187.55" y2="489.35" stroke="#eb9a27" stroke-width="0.9"/>
<line x1="177.20" y1="515.25" x2="187.55" y2="491.29" stroke="#eb9a27" stroke-width="0.9"/>
<line x1="177.20" y1="517.19" x2="187.55" y2="497.76" stroke="#eb9a27" stroke-width="0.9"/>
<line x1="177.20" y1="520.42" x2="187.55" y2="507.48" stroke="#eb9a27" stroke-width="0.9"/>
<line x1="177.20" y1="521.72" x2="187.55" y2="510.71" stroke="#eb9a27" stroke-width="0.9"/>
<line x1="177.20" y1="523.01" x2="187.55" y2="515.25" stroke="#eb9a27" stroke-width="0.9"/>
<line x1="177.20" y1="519.13" x2="187.55" y2="513.95" stroke="#eb9a27" stroke-width="0.9"/>
<circle cx="177.20" cy="513.95" r="1.6" fill="none" stroke="#eb9a27" stroke-width="0.8"/>
<circle cx="187.55" cy="489.35" r="1.6" fill="none" stroke="#eb9a27" stroke-width="0.8"/>
<circle cx="177.20" cy="515.25" r="1.6" fill="none" stroke="#eb9a27" stroke-width="0.8"/>
<circle cx="187.55" cy="491.29" r="1.6" fill="none" stroke="#eb9a27" stroke-width="0.8"/>
<circle cx="177.20" cy="517.19" r="1.6" fill="none" stroke="#eb9a27" stroke-width="0.8"/>
<circle cx="187.55" cy="497.76" r="1.6" fill="none" stroke="#eb9a27" stroke-width="0.8"/>
<circle cx="177.20" cy="520.42" r="1.6" fill="none" stroke="#eb9a27" stroke-width="0.8"/>
<circle cx="187.55" cy="507.48" r="1.6" fill="none" stroke="#eb9a27" stroke-width="0.8"/>
<circle cx="177.20" cy="521.72" r="1.6" fill="none" stroke="#eb9a27" stroke-width="0.8"/>
<circle cx="187.55" cy="510.71" r="1.6" fill="none" stroke="#eb9a27" stroke-width="0.8"/>
<circle cx="177.20" cy="523.01" r="1.6" fill="none" stroke="#eb9a27" stroke-width="0.8"/>
<circle cx="187.55" cy="515.25" r="1.6" fill="none" stroke="#eb9a27" stroke-width="0.8"/>
<circle cx="177.20" cy="519.13" r="1.6" fill="none" stroke="#eb9a27" stroke-width="0.8"/>
<circle cx="187.55" cy="513.95" r="1.6" fill="none" stroke="#eb9a27" stroke-width="0.8"/>
<line x1="197.90" y1="512.01" x2="208.25" y2="492.58" stroke="#eb9a27" stroke-width="0.9"/>
<line x1="197.90" y1="513.95" x2="208.25" y2="494.52" stroke="#eb9a27" stroke-width="0.9"/>
<line x1="197.90" y1="515.25" x2="208.25" y2="497.12" stroke="#eb9a27" stroke-width="0.9"/>
<line x1="197.90" y1="521.07" x2="208.25" y2="507.48" stroke="#eb9a27" stroke-width="0.9"/>
<line x1="197.90" y1="521.72" x2="208.25" y2="512.65" stroke="#eb9a27" stroke-width="0.9"/>
<line x1="197.90" y1="520.42" x2="208.25" y2="515.25" stroke="#eb9a27" stroke-width="0.9"/>
<circle cx="197.90" cy="512.01" r="1.6" fill="none" stroke="#eb9a27" stroke-width="0.8"/>
<circle cx="208.25" cy="492.58" r="1.6" fill="none" stroke="#eb9a27" stroke-width="0.8"/>
<circle cx="197.90" cy="513.95" r="1.6" fill="none" stroke="#eb9a27" stroke-width="0.8"/>
<circle cx="208.25" cy="494.52" r="1.6" fill="none" stroke="#eb9a27" stroke-width="0.8"/>
<circle cx="197.90" cy="515.25" r="1.6" fill="none" stroke="#eb9a27" stroke-width="0.8"/>
<circle cx="208.25" cy="497.12" r="1.6" fill="none" stroke="#eb9a27" stroke-width="0.8"/>
<circle cx="197.90" cy="521.07" r="1.6" fill="none" stroke="#eb9a27" stroke-width="0.8"/>
<circle cx="208.25" cy="507.48" r="1.6" fill="none" stroke="#eb9a27" stroke-width="0.8"/>
<circle cx="197.90" cy="521.72" r="1.6" fill="none" stroke="#eb9a27" stroke-width="0.8"/>
<circle cx="208.25" cy="512.65" r="1.6" fill="none" stroke="#eb9a27" stroke-width="0.8"/>
<circle cx="197.90" cy="520.42" r="1.6" fill="none" stroke="#eb9a27" stroke-width="0.8"/>
<circle cx="208.25" cy="515.25" r="1.6" fill="none" stroke="#eb9a27" stroke-width="0.8"/>
<line x1="218.60" y1="525.61" x2="228.95" y2="513.95" stroke="#eb9a27" stroke-width="0.9"/>
<line x1="218.60" y1="524.96" x2="228.95" y2="517.19" stroke="#eb9a27" stroke-width="0.9"/>
<line x1="218.60" y1="524.31" x2="228.95" y2="519.13" stroke="#eb9a27" stroke-width="0.9"/>
<line x1="218.60" y1="524.96" x2="228.95" y2="521.72" stroke="#eb9a27" stroke-width="0.9"/>
<line x1="218.60" y1="525.61" x2="228.95" y2="520.42" stroke="#eb9a27" stroke-width="0.9"/>
<circle cx="218.60" cy="525.61" r="1.6" fill="none" stroke="#eb9a27" stroke-width="0.8"/>
<circle cx="228.95" cy="513.95" r="1.6" fill="none" stroke="#eb9a27" stroke-width="0.8"/>
<circle cx="218.60" cy="524.96" r="1.6" fill="none" stroke="#eb9a27" stroke-width="0.8"/>
<circle cx="228.95" cy="517.19" r="1.6" fill="none" stroke="#eb9a27" stroke-width="0.8"/>
<circle cx="218.60" cy="524.31" r="1.6" fill="none" stroke="#eb9a27" stroke-width="0.8"/>
<circle cx="228.95" cy="519.13" r="1.6" fill="none" stroke="#eb9a27" stroke-width="0.8"/>
<circle cx="218.60" cy="524.96" r="1.6" fill="none" stroke="#eb9a27" stroke-width="0.8"/>
<circle cx="228.95" cy="521.72" r="1.6" fill="none" stroke="#eb9a27" stroke-width="0.8"/>
<circle cx="218.60" cy="525.61" r="1.6" fill="none" stroke="#eb9a27" stroke-width="0.8"/>
<circle cx="228.95" cy="520.42" r="1.6" fill="none" stroke="#eb9a27" stroke-width="0.8"/>
<line x1="239.30" y1="525.61" x2="249.65" y2="516.54" stroke="#eb9a27" stroke-width="0.9"/>
<line x1="239.30" y1="524.96" x2="249.65" y2="519.13" stroke="#eb9a27" stroke-width="0.9"/>
<line x1="239.30" y1="524.31" x2="249.65" y2="520.42" stroke="#eb9a27" stroke-width="0.9"/>
<line x1="239.30" y1="524.96" x2="249.65" y2="522.37" stroke="#eb9a27" stroke-width="0.9"/>
<line x1="239.30" y1="525.61" x2="249.65" y2="521.07" stroke="#eb9a27" stroke-width="0.9"/>
<circle cx="239.30" cy="525.61" r="1.6" fill="none" stroke="#eb9a27" stroke-width="0.8"/>
<circle cx="249.65" cy="516.54" r="1.6" fill="none" stroke="#eb9a27" stroke-width="0.8"/>
<circle cx="239.30" cy="524.96" r="1.6" fill="none" stroke="#eb9a27" stroke-width="0.8"/>
<circle cx="249.65" cy="519.13" r="1.6" fill="none" stroke="#eb9a27" stroke-width="0.8"/>
<circle cx="239.30" cy="524.31" r="1.6" fill="none" stroke="#eb9a27" stroke-width="0.8"/>
<circle cx="249.65" cy="520.42" r="1.6" fill="none" stroke="#eb9a27" stroke-width="0.8"/>
<circle cx="239.30" cy="524.96" r="1.6" fill="none" stroke="#eb9a27" stroke-width="0.8"/>
<circle cx="249.65" cy="522.37" r="1.6" fill="none" stroke="#eb9a27" stroke-width="0.8"/>
<circle cx="239.30" cy="525.61" r="1.6" fill="none" stroke="#eb9a27" stroke-width="0.8"/>
<circle cx="249.65" cy="521.07" r="1.6" fill="none" stroke="#eb9a27" stroke-width="0.8"/>
<path d="M177.20,486.40 L177.20,485.30 L187.55,485.30 L187.55,486.40" fill="none" stroke="#4a4a58" stroke-width="0.95"/>
<rect x="180.35" y="480.80" width="1.5" height="1.9" rx="0.5" fill="#2a2a2a"/>
<rect x="182.90" y="480.80" width="1.5" height="1.9" rx="0.5" fill="#2a2a2a"/>
<path d="M197.90,489.50 L197.90,488.40 L208.25,488.40 L208.25,489.50" fill="none" stroke="#4a4a58" stroke-width="0.95"/>
<rect x="202.32" y="483.90" width="1.5" height="1.9" rx="0.5" fill="#2a2a2a"/>
<path d="M218.60,510.70 L218.60,509.60 L228.95,509.60 L228.95,510.70" fill="none" stroke="#4a4a58" stroke-width="0.95"/>
<rect x="220.47" y="505.10" width="1.5" height="1.9" rx="0.5" fill="#2a2a2a"/>
<rect x="223.02" y="505.10" width="1.5" height="1.9" rx="0.5" fill="#2a2a2a"/>
<rect x="225.57" y="505.10" width="1.5" height="1.9" rx="0.5" fill="#2a2a2a"/>
<path d="M239.30,512.80 L239.30,511.70 L249.65,511.70 L249.65,512.80" fill="none" stroke="#4a4a58" stroke-width="0.95"/>
<rect x="242.45" y="507.20" width="1.5" height="1.9" rx="0.5" fill="#2a2a2a"/>
<rect x="245.00" y="507.20" width="1.5" height="1.9" rx="0.5" fill="#2a2a2a"/>
<line x1="300.7" y1="472.5" x2="300.7" y2="529.9" stroke="#111" stroke-width="1.2"/>
<line x1="300.09999999999997" y1="529.3" x2="383" y2="529.3" stroke="#111" stroke-width="1.2"/>
<line x1="297.9" y1="474.70" x2="300.7" y2="474.70" stroke="#111" stroke-width="1"/>
<text x="294.80" y="477.30" font-size="7.3" text-anchor="end" fill="#4a4a4a" font-weight="normal" style="stroke:none">6</text>
<line x1="297.9" y1="491.77" x2="300.7" y2="491.77" stroke="#111" stroke-width="1"/>
<text x="294.80" y="494.37" font-size="7.3" text-anchor="end" fill="#4a4a4a" font-weight="normal" style="stroke:none">4</text>
<line x1="297.9" y1="508.83" x2="300.7" y2="508.83" stroke="#111" stroke-width="1"/>
<text x="294.80" y="511.43" font-size="7.3" text-anchor="end" fill="#4a4a4a" font-weight="normal" style="stroke:none">2</text>
<line x1="297.9" y1="525.90" x2="300.7" y2="525.90" stroke="#111" stroke-width="1"/>
<text x="294.80" y="528.50" font-size="7.3" text-anchor="end" fill="#4a4a4a" font-weight="normal" style="stroke:none">0</text>
<line x1="306.00" y1="529.3" x2="306.00" y2="532.0999999999999" stroke="#111" stroke-width="0.9"/>
<line x1="316.35" y1="529.3" x2="316.35" y2="532.0999999999999" stroke="#111" stroke-width="0.9"/>
<line x1="326.70" y1="529.3" x2="326.70" y2="532.0999999999999" stroke="#111" stroke-width="0.9"/>
<line x1="337.05" y1="529.3" x2="337.05" y2="532.0999999999999" stroke="#111" stroke-width="0.9"/>
<line x1="347.40" y1="529.3" x2="347.40" y2="532.0999999999999" stroke="#111" stroke-width="0.9"/>
<line x1="357.75" y1="529.3" x2="357.75" y2="532.0999999999999" stroke="#111" stroke-width="0.9"/>
<line x1="368.10" y1="529.3" x2="368.10" y2="532.0999999999999" stroke="#111" stroke-width="0.9"/>
<line x1="378.45" y1="529.3" x2="378.45" y2="532.0999999999999" stroke="#111" stroke-width="0.9"/>
<text x="334.20" y="466.30" font-size="8.5" fill="#2a2a2a" style="stroke:none" textLength="17.0" lengthAdjust="spacingAndGlyphs">mLN</text>
<text transform="translate(286.90,535.00) rotate(-90)" font-size="9" fill="#222" style="stroke-width:0.3px" textLength="43" lengthAdjust="spacingAndGlyphs">Extravascular OT-1</text>
<text transform="translate(286.90,490.40) rotate(-90)" font-size="7.6" fill="#222" textLength="22.2" lengthAdjust="spacingAndGlyphs">(×10<tspan font-size="4.6" dy="-2.8">3</tspan><tspan dy="2.8">)</tspan></text>
<g class="xl" transform="translate(307.90,542.90) rotate(-45)"><text x="0" y="0" font-size="7.4" text-anchor="end" fill="#222" textLength="22.3" lengthAdjust="spacingAndGlyphs">WT PTX</text><text x="0.3" y="-3.3" font-size="4.8" fill="#222">−</text></g>
<g class="xl" transform="translate(318.25,542.90) rotate(-45)"><text x="0" y="0" font-size="7.4" text-anchor="end" fill="#222" textLength="22.3" lengthAdjust="spacingAndGlyphs">WT PTX</text><text x="0.3" y="-3.3" font-size="4.8" fill="#222">+</text></g>
<g class="xl" transform="translate(328.60,542.90) rotate(-45)"><text x="0" y="0" font-size="7.4" text-anchor="end" fill="#222" textLength="21.8" lengthAdjust="spacingAndGlyphs">KO PTX</text><text x="0.3" y="-3.3" font-size="4.8" fill="#222">−</text></g>
<g class="xl" transform="translate(338.95,542.90) rotate(-45)"><text x="0" y="0" font-size="7.4" text-anchor="end" fill="#222" textLength="21.8" lengthAdjust="spacingAndGlyphs">KO PTX</text><text x="0.3" y="-3.3" font-size="4.8" fill="#222">+</text></g>
<g class="xl" transform="translate(349.30,542.90) rotate(-45)"><text x="0" y="0" font-size="7.4" text-anchor="end" fill="#222" textLength="22.3" lengthAdjust="spacingAndGlyphs">WT PTX</text><text x="0.3" y="-3.3" font-size="4.8" fill="#222">−</text></g>
<g class="xl" transform="translate(359.65,542.90) rotate(-45)"><text x="0" y="0" font-size="7.4" text-anchor="end" fill="#222" textLength="22.3" lengthAdjust="spacingAndGlyphs">WT PTX</text><text x="0.3" y="-3.3" font-size="4.8" fill="#222">+</text></g>
<g class="xl" transform="translate(370.00,542.90) rotate(-45)"><text x="0" y="0" font-size="7.4" text-anchor="end" fill="#222" textLength="21.8" lengthAdjust="spacingAndGlyphs">KO PTX</text><text x="0.3" y="-3.3" font-size="4.8" fill="#222">−</text></g>
<g class="xl" transform="translate(380.35,542.90) rotate(-45)"><text x="0" y="0" font-size="7.4" text-anchor="end" fill="#222" textLength="21.8" lengthAdjust="spacingAndGlyphs">KO PTX</text><text x="0.3" y="-3.3" font-size="4.8" fill="#222">+</text></g>
<line x1="290.0" y1="562.9" x2="322.6" y2="562.9" stroke="#7a7a7a" stroke-width="1.5"/>
<line x1="329.4" y1="562.9" x2="363.4" y2="562.9" stroke="#7a7a7a" stroke-width="1.5"/>
<text x="306.27" y="572.10" font-size="7" text-anchor="middle" fill="#222" font-weight="normal" >BM</text>
<text x="346.42" y="572.10" font-size="7" text-anchor="middle" fill="#222" font-weight="normal" >BM+T</text>
<line x1="306.00" y1="492.62" x2="316.35" y2="524.19" stroke="#eb9a27" stroke-width="0.9"/>
<line x1="306.00" y1="510.54" x2="316.35" y2="525.05" stroke="#eb9a27" stroke-width="0.9"/>
<line x1="306.00" y1="511.39" x2="316.35" y2="524.62" stroke="#eb9a27" stroke-width="0.9"/>
<line x1="306.00" y1="520.78" x2="316.35" y2="525.05" stroke="#eb9a27" stroke-width="0.9"/>
<circle cx="306.00" cy="492.62" r="1.6" fill="none" stroke="#eb9a27" stroke-width="0.8"/>
<circle cx="316.35" cy="524.19" r="1.6" fill="none" stroke="#eb9a27" stroke-width="0.8"/>
<circle cx="306.00" cy="510.54" r="1.6" fill="none" stroke="#eb9a27" stroke-width="0.8"/>
<circle cx="316.35" cy="525.05" r="1.6" fill="none" stroke="#eb9a27" stroke-width="0.8"/>
<circle cx="306.00" cy="511.39" r="1.6" fill="none" stroke="#eb9a27" stroke-width="0.8"/>
<circle cx="316.35" cy="524.62" r="1.6" fill="none" stroke="#eb9a27" stroke-width="0.8"/>
<circle cx="306.00" cy="520.78" r="1.6" fill="none" stroke="#eb9a27" stroke-width="0.8"/>
<circle cx="316.35" cy="525.05" r="1.6" fill="none" stroke="#eb9a27" stroke-width="0.8"/>
<line x1="326.70" y1="491.77" x2="337.05" y2="525.47" stroke="#eb9a27" stroke-width="0.9"/>
<line x1="326.70" y1="505.42" x2="337.05" y2="525.47" stroke="#eb9a27" stroke-width="0.9"/>
<line x1="326.70" y1="510.54" x2="337.05" y2="525.47" stroke="#eb9a27" stroke-width="0.9"/>
<line x1="326.70" y1="519.93" x2="337.05" y2="525.47" stroke="#eb9a27" stroke-width="0.9"/>
<circle cx="326.70" cy="491.77" r="1.6" fill="none" stroke="#eb9a27" stroke-width="0.8"/>
<circle cx="337.05" cy="525.47" r="1.6" fill="none" stroke="#eb9a27" stroke-width="0.8"/>
<circle cx="326.70" cy="505.42" r="1.6" fill="none" stroke="#eb9a27" stroke-width="0.8"/>
<circle cx="337.05" cy="525.47" r="1.6" fill="none" stroke="#eb9a27" stroke-width="0.8"/>
<circle cx="326.70" cy="510.54" r="1.6" fill="none" stroke="#eb9a27" stroke-width="0.8"/>
<circle cx="337.05" cy="525.47" r="1.6" fill="none" stroke="#eb9a27" stroke-width="0.8"/>
<circle cx="326.70" cy="519.93" r="1.6" fill="none" stroke="#eb9a27" stroke-width="0.8"/>
<circle cx="337.05" cy="525.47" r="1.6" fill="none" stroke="#eb9a27" stroke-width="0.8"/>
<line x1="347.40" y1="507.98" x2="357.75" y2="525.05" stroke="#eb9a27" stroke-width="0.9"/>
<line x1="347.40" y1="513.95" x2="357.75" y2="524.19" stroke="#eb9a27" stroke-width="0.9"/>
<line x1="347.40" y1="517.37" x2="357.75" y2="525.05" stroke="#eb9a27" stroke-width="0.9"/>
<line x1="347.40" y1="520.78" x2="357.75" y2="525.47" stroke="#eb9a27" stroke-width="0.9"/>
<line x1="347.40" y1="522.49" x2="357.75" y2="525.05" stroke="#eb9a27" stroke-width="0.9"/>
<line x1="347.40" y1="523.34" x2="357.75" y2="525.47" stroke="#eb9a27" stroke-width="0.9"/>
<circle cx="347.40" cy="507.98" r="1.6" fill="none" stroke="#eb9a27" stroke-width="0.8"/>
<circle cx="357.75" cy="525.05" r="1.6" fill="none" stroke="#eb9a27" stroke-width="0.8"/>
<circle cx="347.40" cy="513.95" r="1.6" fill="none" stroke="#eb9a27" stroke-width="0.8"/>
<circle cx="357.75" cy="524.19" r="1.6" fill="none" stroke="#eb9a27" stroke-width="0.8"/>
<circle cx="347.40" cy="517.37" r="1.6" fill="none" stroke="#eb9a27" stroke-width="0.8"/>
<circle cx="357.75" cy="525.05" r="1.6" fill="none" stroke="#eb9a27" stroke-width="0.8"/>
<circle cx="347.40" cy="520.78" r="1.6" fill="none" stroke="#eb9a27" stroke-width="0.8"/>
<circle cx="357.75" cy="525.47" r="1.6" fill="none" stroke="#eb9a27" stroke-width="0.8"/>
<circle cx="347.40" cy="522.49" r="1.6" fill="none" stroke="#eb9a27" stroke-width="0.8"/>
<circle cx="357.75" cy="525.05" r="1.6" fill="none" stroke="#eb9a27" stroke-width="0.8"/>
<circle cx="347.40" cy="523.34" r="1.6" fill="none" stroke="#eb9a27" stroke-width="0.8"/>
<circle cx="357.75" cy="525.47" r="1.6" fill="none" stroke="#eb9a27" stroke-width="0.8"/>
<line x1="368.10" y1="478.11" x2="378.45" y2="523.34" stroke="#eb9a27" stroke-width="0.9"/>
<line x1="368.10" y1="493.47" x2="378.45" y2="524.19" stroke="#eb9a27" stroke-width="0.9"/>
<line x1="368.10" y1="498.59" x2="378.45" y2="521.63" stroke="#eb9a27" stroke-width="0.9"/>
<line x1="368.10" y1="503.71" x2="378.45" y2="525.05" stroke="#eb9a27" stroke-width="0.9"/>
<line x1="368.10" y1="508.83" x2="378.45" y2="525.05" stroke="#eb9a27" stroke-width="0.9"/>
<line x1="368.10" y1="513.10" x2="378.45" y2="524.19" stroke="#eb9a27" stroke-width="0.9"/>
<line x1="368.10" y1="517.37" x2="378.45" y2="525.47" stroke="#eb9a27" stroke-width="0.9"/>
<line x1="368.10" y1="519.93" x2="378.45" y2="525.05" stroke="#eb9a27" stroke-width="0.9"/>
<circle cx="368.10" cy="478.11" r="1.6" fill="none" stroke="#eb9a27" stroke-width="0.8"/>
<circle cx="378.45" cy="523.34" r="1.6" fill="none" stroke="#eb9a27" stroke-width="0.8"/>
<circle cx="368.10" cy="493.47" r="1.6" fill="none" stroke="#eb9a27" stroke-width="0.8"/>
<circle cx="378.45" cy="524.19" r="1.6" fill="none" stroke="#eb9a27" stroke-width="0.8"/>
<circle cx="368.10" cy="498.59" r="1.6" fill="none" stroke="#eb9a27" stroke-width="0.8"/>
<circle cx="378.45" cy="521.63" r="1.6" fill="none" stroke="#eb9a27" stroke-width="0.8"/>
<circle cx="368.10" cy="503.71" r="1.6" fill="none" stroke="#eb9a27" stroke-width="0.8"/>
<circle cx="378.45" cy="525.05" r="1.6" fill="none" stroke="#eb9a27" stroke-width="0.8"/>
<circle cx="368.10" cy="508.83" r="1.6" fill="none" stroke="#eb9a27" stroke-width="0.8"/>
<circle cx="378.45" cy="525.05" r="1.6" fill="none" stroke="#eb9a27" stroke-width="0.8"/>
<circle cx="368.10" cy="513.10" r="1.6" fill="none" stroke="#eb9a27" stroke-width="0.8"/>
<circle cx="378.45" cy="524.19" r="1.6" fill="none" stroke="#eb9a27" stroke-width="0.8"/>
<circle cx="368.10" cy="517.37" r="1.6" fill="none" stroke="#eb9a27" stroke-width="0.8"/>
<circle cx="378.45" cy="525.47" r="1.6" fill="none" stroke="#eb9a27" stroke-width="0.8"/>
<circle cx="368.10" cy="519.93" r="1.6" fill="none" stroke="#eb9a27" stroke-width="0.8"/>
<circle cx="378.45" cy="525.05" r="1.6" fill="none" stroke="#eb9a27" stroke-width="0.8"/>
<path d="M306.00,489.50 L306.00,488.40 L316.35,488.40 L316.35,489.50" fill="none" stroke="#4a4a58" stroke-width="0.95"/>
<rect x="310.43" y="483.90" width="1.5" height="1.9" rx="0.5" fill="#2a2a2a"/>
<path d="M326.70,488.50 L326.70,487.40 L337.05,487.40 L337.05,488.50" fill="none" stroke="#4a4a58" stroke-width="0.95"/>
<rect x="331.12" y="482.90" width="1.5" height="1.9" rx="0.5" fill="#2a2a2a"/>
<path d="M347.40,505.40 L347.40,504.30 L357.75,504.30 L357.75,505.40" fill="none" stroke="#4a4a58" stroke-width="0.95"/>
<rect x="350.55" y="499.80" width="1.5" height="1.9" rx="0.5" fill="#2a2a2a"/>
<rect x="353.10" y="499.80" width="1.5" height="1.9" rx="0.5" fill="#2a2a2a"/>
<path d="M347.40,474.70 L347.40,473.60 L368.10,473.60 L368.10,474.70" fill="none" stroke="#4a4a58" stroke-width="0.95"/>
<rect x="357.00" y="469.10" width="1.5" height="1.9" rx="0.5" fill="#2a2a2a"/>
<path d="M368.10,474.70 L368.10,473.60 L378.45,473.60 L378.45,474.70" fill="none" stroke="#4a4a58" stroke-width="0.95"/>
<rect x="371.25" y="469.10" width="1.5" height="1.9" rx="0.5" fill="#2a2a2a"/>
<rect x="373.80" y="469.10" width="1.5" height="1.9" rx="0.5" fill="#2a2a2a"/>
<line x1="429.5" y1="472.5" x2="429.5" y2="530.1" stroke="#111" stroke-width="1.2"/>
<line x1="428.9" y1="529.5" x2="513" y2="529.5" stroke="#111" stroke-width="1.2"/>
<line x1="426.7" y1="474.50" x2="429.5" y2="474.50" stroke="#111" stroke-width="1"/>
<text x="423.60" y="477.10" font-size="7.3" text-anchor="end" fill="#4a4a4a" font-weight="normal" style="stroke:none">400</text>
<line x1="426.7" y1="487.75" x2="429.5" y2="487.75" stroke="#111" stroke-width="1"/>
<text x="423.60" y="490.35" font-size="7.3" text-anchor="end" fill="#4a4a4a" font-weight="normal" style="stroke:none">300</text>
<line x1="426.7" y1="501.00" x2="429.5" y2="501.00" stroke="#111" stroke-width="1"/>
<text x="423.60" y="503.60" font-size="7.3" text-anchor="end" fill="#4a4a4a" font-weight="normal" style="stroke:none">200</text>
<line x1="426.7" y1="514.25" x2="429.5" y2="514.25" stroke="#111" stroke-width="1"/>
<text x="423.60" y="516.85" font-size="7.3" text-anchor="end" fill="#4a4a4a" font-weight="normal" style="stroke:none">100</text>
<line x1="426.7" y1="527.50" x2="429.5" y2="527.50" stroke="#111" stroke-width="1"/>
<text x="423.60" y="530.10" font-size="7.3" text-anchor="end" fill="#4a4a4a" font-weight="normal" style="stroke:none">0</text>
<line x1="435.00" y1="529.5" x2="435.00" y2="532.3" stroke="#111" stroke-width="0.9"/>
<line x1="445.35" y1="529.5" x2="445.35" y2="532.3" stroke="#111" stroke-width="0.9"/>
<line x1="455.70" y1="529.5" x2="455.70" y2="532.3" stroke="#111" stroke-width="0.9"/>
<line x1="466.05" y1="529.5" x2="466.05" y2="532.3" stroke="#111" stroke-width="0.9"/>
<line x1="476.40" y1="529.5" x2="476.40" y2="532.3" stroke="#111" stroke-width="0.9"/>
<line x1="486.75" y1="529.5" x2="486.75" y2="532.3" stroke="#111" stroke-width="0.9"/>
<line x1="497.10" y1="529.5" x2="497.10" y2="532.3" stroke="#111" stroke-width="0.9"/>
<line x1="507.45" y1="529.5" x2="507.45" y2="532.3" stroke="#111" stroke-width="0.9"/>
<text x="445.60" y="466.30" font-size="8.5" fill="#2a2a2a" style="stroke:none" textLength="51.8" lengthAdjust="spacingAndGlyphs">small intestine</text>
<text transform="translate(407.30,525.10) rotate(-90)" font-size="9" fill="#222" style="stroke-width:0.3px" textLength="48" lengthAdjust="spacingAndGlyphs">Extravascular OT-1</text>
<g class="xl" transform="translate(436.90,543.10) rotate(-45)"><text x="0" y="0" font-size="7.4" text-anchor="end" fill="#222" textLength="22.3" lengthAdjust="spacingAndGlyphs">WT PTX</text><text x="0.3" y="-3.3" font-size="4.8" fill="#222">−</text></g>
<g class="xl" transform="translate(447.25,543.10) rotate(-45)"><text x="0" y="0" font-size="7.4" text-anchor="end" fill="#222" textLength="22.3" lengthAdjust="spacingAndGlyphs">WT PTX</text><text x="0.3" y="-3.3" font-size="4.8" fill="#222">+</text></g>
<g class="xl" transform="translate(457.60,543.10) rotate(-45)"><text x="0" y="0" font-size="7.4" text-anchor="end" fill="#222" textLength="21.8" lengthAdjust="spacingAndGlyphs">KO PTX</text><text x="0.3" y="-3.3" font-size="4.8" fill="#222">−</text></g>
<g class="xl" transform="translate(467.95,543.10) rotate(-45)"><text x="0" y="0" font-size="7.4" text-anchor="end" fill="#222" textLength="21.8" lengthAdjust="spacingAndGlyphs">KO PTX</text><text x="0.3" y="-3.3" font-size="4.8" fill="#222">+</text></g>
<g class="xl" transform="translate(478.30,543.10) rotate(-45)"><text x="0" y="0" font-size="7.4" text-anchor="end" fill="#222" textLength="22.3" lengthAdjust="spacingAndGlyphs">WT PTX</text><text x="0.3" y="-3.3" font-size="4.8" fill="#222">−</text></g>
<g class="xl" transform="translate(488.65,543.10) rotate(-45)"><text x="0" y="0" font-size="7.4" text-anchor="end" fill="#222" textLength="22.3" lengthAdjust="spacingAndGlyphs">WT PTX</text><text x="0.3" y="-3.3" font-size="4.8" fill="#222">+</text></g>
<g class="xl" transform="translate(499.00,543.10) rotate(-45)"><text x="0" y="0" font-size="7.4" text-anchor="end" fill="#222" textLength="21.8" lengthAdjust="spacingAndGlyphs">KO PTX</text><text x="0.3" y="-3.3" font-size="4.8" fill="#222">−</text></g>
<g class="xl" transform="translate(509.35,543.10) rotate(-45)"><text x="0" y="0" font-size="7.4" text-anchor="end" fill="#222" textLength="21.8" lengthAdjust="spacingAndGlyphs">KO PTX</text><text x="0.3" y="-3.3" font-size="4.8" fill="#222">+</text></g>
<line x1="419.0" y1="563.1" x2="451.6" y2="563.1" stroke="#7a7a7a" stroke-width="1.5"/>
<line x1="458.4" y1="563.1" x2="492.4" y2="563.1" stroke="#7a7a7a" stroke-width="1.5"/>
<text x="435.27" y="572.30" font-size="7" text-anchor="middle" fill="#222" font-weight="normal" >BM</text>
<text x="475.42" y="572.30" font-size="7" text-anchor="middle" fill="#222" font-weight="normal" >BM+T</text>
<line x1="435.00" y1="486.43" x2="445.35" y2="518.23" stroke="#eb9a27" stroke-width="0.9"/>
<line x1="435.00" y1="491.73" x2="445.35" y2="524.85" stroke="#eb9a27" stroke-width="0.9"/>
<line x1="435.00" y1="497.02" x2="445.35" y2="526.17" stroke="#eb9a27" stroke-width="0.9"/>
<line x1="435.00" y1="501.00" x2="445.35" y2="526.84" stroke="#eb9a27" stroke-width="0.9"/>
<line x1="435.00" y1="511.60" x2="445.35" y2="526.17" stroke="#eb9a27" stroke-width="0.9"/>
<line x1="435.00" y1="514.91" x2="445.35" y2="526.84" stroke="#eb9a27" stroke-width="0.9"/>
<circle cx="435.00" cy="486.43" r="1.6" fill="none" stroke="#eb9a27" stroke-width="0.8"/>
<circle cx="445.35" cy="518.23" r="1.6" fill="none" stroke="#eb9a27" stroke-width="0.8"/>
<circle cx="435.00" cy="491.73" r="1.6" fill="none" stroke="#eb9a27" stroke-width="0.8"/>
<circle cx="445.35" cy="524.85" r="1.6" fill="none" stroke="#eb9a27" stroke-width="0.8"/>
<circle cx="435.00" cy="497.02" r="1.6" fill="none" stroke="#eb9a27" stroke-width="0.8"/>
<circle cx="445.35" cy="526.17" r="1.6" fill="none" stroke="#eb9a27" stroke-width="0.8"/>
<circle cx="435.00" cy="501.00" r="1.6" fill="none" stroke="#eb9a27" stroke-width="0.8"/>
<circle cx="445.35" cy="526.84" r="1.6" fill="none" stroke="#eb9a27" stroke-width="0.8"/>
<circle cx="435.00" cy="511.60" r="1.6" fill="none" stroke="#eb9a27" stroke-width="0.8"/>
<circle cx="445.35" cy="526.17" r="1.6" fill="none" stroke="#eb9a27" stroke-width="0.8"/>
<circle cx="435.00" cy="514.91" r="1.6" fill="none" stroke="#eb9a27" stroke-width="0.8"/>
<circle cx="445.35" cy="526.84" r="1.6" fill="none" stroke="#eb9a27" stroke-width="0.8"/>
<line x1="455.70" y1="508.29" x2="466.05" y2="522.20" stroke="#eb9a27" stroke-width="0.9"/>
<line x1="455.70" y1="512.92" x2="466.05" y2="524.85" stroke="#eb9a27" stroke-width="0.9"/>
<line x1="455.70" y1="516.90" x2="466.05" y2="525.51" stroke="#eb9a27" stroke-width="0.9"/>
<line x1="455.70" y1="519.55" x2="466.05" y2="526.17" stroke="#eb9a27" stroke-width="0.9"/>
<line x1="455.70" y1="520.21" x2="466.05" y2="526.84" stroke="#eb9a27" stroke-width="0.9"/>
<line x1="455.70" y1="522.20" x2="466.05" y2="526.84" stroke="#eb9a27" stroke-width="0.9"/>
<circle cx="455.70" cy="508.29" r="1.6" fill="none" stroke="#eb9a27" stroke-width="0.8"/>
<circle cx="466.05" cy="522.20" r="1.6" fill="none" stroke="#eb9a27" stroke-width="0.8"/>
<circle cx="455.70" cy="512.92" r="1.6" fill="none" stroke="#eb9a27" stroke-width="0.8"/>
<circle cx="466.05" cy="524.85" r="1.6" fill="none" stroke="#eb9a27" stroke-width="0.8"/>
<circle cx="455.70" cy="516.90" r="1.6" fill="none" stroke="#eb9a27" stroke-width="0.8"/>
<circle cx="466.05" cy="525.51" r="1.6" fill="none" stroke="#eb9a27" stroke-width="0.8"/>
<circle cx="455.70" cy="519.55" r="1.6" fill="none" stroke="#eb9a27" stroke-width="0.8"/>
<circle cx="466.05" cy="526.17" r="1.6" fill="none" stroke="#eb9a27" stroke-width="0.8"/>
<circle cx="455.70" cy="520.21" r="1.6" fill="none" stroke="#eb9a27" stroke-width="0.8"/>
<circle cx="466.05" cy="526.84" r="1.6" fill="none" stroke="#eb9a27" stroke-width="0.8"/>
<circle cx="455.70" cy="522.20" r="1.6" fill="none" stroke="#eb9a27" stroke-width="0.8"/>
<circle cx="466.05" cy="526.84" r="1.6" fill="none" stroke="#eb9a27" stroke-width="0.8"/>
<line x1="476.40" y1="495.04" x2="486.75" y2="524.85" stroke="#eb9a27" stroke-width="0.9"/>
<line x1="476.40" y1="502.32" x2="486.75" y2="526.17" stroke="#eb9a27" stroke-width="0.9"/>
<line x1="476.40" y1="504.98" x2="486.75" y2="526.84" stroke="#eb9a27" stroke-width="0.9"/>
<line x1="476.40" y1="509.61" x2="486.75" y2="526.84" stroke="#eb9a27" stroke-width="0.9"/>
<line x1="476.40" y1="521.54" x2="486.75" y2="526.17" stroke="#eb9a27" stroke-width="0.9"/>
<circle cx="476.40" cy="495.04" r="1.6" fill="none" stroke="#eb9a27" stroke-width="0.8"/>
<circle cx="486.75" cy="524.85" r="1.6" fill="none" stroke="#eb9a27" stroke-width="0.8"/>
<circle cx="476.40" cy="502.32" r="1.6" fill="none" stroke="#eb9a27" stroke-width="0.8"/>
<circle cx="486.75" cy="526.17" r="1.6" fill="none" stroke="#eb9a27" stroke-width="0.8"/>
<circle cx="476.40" cy="504.98" r="1.6" fill="none" stroke="#eb9a27" stroke-width="0.8"/>
<circle cx="486.75" cy="526.84" r="1.6" fill="none" stroke="#eb9a27" stroke-width="0.8"/>
<circle cx="476.40" cy="509.61" r="1.6" fill="none" stroke="#eb9a27" stroke-width="0.8"/>
<circle cx="486.75" cy="526.84" r="1.6" fill="none" stroke="#eb9a27" stroke-width="0.8"/>
<circle cx="476.40" cy="521.54" r="1.6" fill="none" stroke="#eb9a27" stroke-width="0.8"/>
<circle cx="486.75" cy="526.17" r="1.6" fill="none" stroke="#eb9a27" stroke-width="0.8"/>
<line x1="497.10" y1="510.94" x2="507.45" y2="525.51" stroke="#eb9a27" stroke-width="0.9"/>
<line x1="497.10" y1="512.26" x2="507.45" y2="526.17" stroke="#eb9a27" stroke-width="0.9"/>
<line x1="497.10" y1="514.25" x2="507.45" y2="526.84" stroke="#eb9a27" stroke-width="0.9"/>
<line x1="497.10" y1="515.58" x2="507.45" y2="526.84" stroke="#eb9a27" stroke-width="0.9"/>
<line x1="497.10" y1="516.90" x2="507.45" y2="526.84" stroke="#eb9a27" stroke-width="0.9"/>
<line x1="497.10" y1="524.85" x2="507.45" y2="526.84" stroke="#eb9a27" stroke-width="0.9"/>
<circle cx="497.10" cy="510.94" r="1.6" fill="none" stroke="#eb9a27" stroke-width="0.8"/>
<circle cx="507.45" cy="525.51" r="1.6" fill="none" stroke="#eb9a27" stroke-width="0.8"/>
<circle cx="497.10" cy="512.26" r="1.6" fill="none" stroke="#eb9a27" stroke-width="0.8"/>
<circle cx="507.45" cy="526.17" r="1.6" fill="none" stroke="#eb9a27" stroke-width="0.8"/>
<circle cx="497.10" cy="514.25" r="1.6" fill="none" stroke="#eb9a27" stroke-width="0.8"/>
<circle cx="507.45" cy="526.84" r="1.6" fill="none" stroke="#eb9a27" stroke-width="0.8"/>
<circle cx="497.10" cy="515.58" r="1.6" fill="none" stroke="#eb9a27" stroke-width="0.8"/>
<circle cx="507.45" cy="526.84" r="1.6" fill="none" stroke="#eb9a27" stroke-width="0.8"/>
<circle cx="497.10" cy="516.90" r="1.6" fill="none" stroke="#eb9a27" stroke-width="0.8"/>
<circle cx="507.45" cy="526.84" r="1.6" fill="none" stroke="#eb9a27" stroke-width="0.8"/>
<circle cx="497.10" cy="524.85" r="1.6" fill="none" stroke="#eb9a27" stroke-width="0.8"/>
<circle cx="507.45" cy="526.84" r="1.6" fill="none" stroke="#eb9a27" stroke-width="0.8"/>
<path d="M435.00,476.10 L435.00,475.00 L455.70,475.00 L455.70,476.10" fill="none" stroke="#4a4a58" stroke-width="0.95"/>
<rect x="442.05" y="470.50" width="1.5" height="1.9" rx="0.5" fill="#2a2a2a"/>
<rect x="444.60" y="470.50" width="1.5" height="1.9" rx="0.5" fill="#2a2a2a"/>
<rect x="447.15" y="470.50" width="1.5" height="1.9" rx="0.5" fill="#2a2a2a"/>
<path d="M435.00,485.35 L435.00,484.25 L445.35,484.25 L445.35,485.35" fill="none" stroke="#4a4a58" stroke-width="0.95"/>
<rect x="435.60" y="479.75" width="1.5" height="1.9" rx="0.5" fill="#2a2a2a"/>
<rect x="438.15" y="479.75" width="1.5" height="1.9" rx="0.5" fill="#2a2a2a"/>
<rect x="440.70" y="479.75" width="1.5" height="1.9" rx="0.5" fill="#2a2a2a"/>
<rect x="443.25" y="479.75" width="1.5" height="1.9" rx="0.5" fill="#2a2a2a"/>
<path d="M455.70,504.85 L455.70,503.75 L466.05,503.75 L466.05,504.85" fill="none" stroke="#4a4a58" stroke-width="0.95"/>
<rect x="457.57" y="499.25" width="1.5" height="1.9" rx="0.5" fill="#2a2a2a"/>
<rect x="460.12" y="499.25" width="1.5" height="1.9" rx="0.5" fill="#2a2a2a"/>
<rect x="462.68" y="499.25" width="1.5" height="1.9" rx="0.5" fill="#2a2a2a"/>
<path d="M476.40,483.10 L476.40,482.00 L497.10,482.00 L497.10,483.10" fill="none" stroke="#4a4a58" stroke-width="0.95"/>
<rect x="484.73" y="477.50" width="1.5" height="1.9" rx="0.5" fill="#2a2a2a"/>
<rect x="487.27" y="477.50" width="1.5" height="1.9" rx="0.5" fill="#2a2a2a"/>
<path d="M476.40,491.85 L476.40,490.75 L486.75,490.75 L486.75,491.85" fill="none" stroke="#4a4a58" stroke-width="0.95"/>
<rect x="477.00" y="486.25" width="1.5" height="1.9" rx="0.5" fill="#2a2a2a"/>
<rect x="479.55" y="486.25" width="1.5" height="1.9" rx="0.5" fill="#2a2a2a"/>
<rect x="482.10" y="486.25" width="1.5" height="1.9" rx="0.5" fill="#2a2a2a"/>
<rect x="484.65" y="486.25" width="1.5" height="1.9" rx="0.5" fill="#2a2a2a"/>
<path d="M486.75,499.85 L486.75,498.75 L507.45,498.75 L507.45,499.85" fill="none" stroke="#4a4a58" stroke-width="0.95"/>
<rect x="493.80" y="494.25" width="1.5" height="1.9" rx="0.5" fill="#2a2a2a"/>
<rect x="496.35" y="494.25" width="1.5" height="1.9" rx="0.5" fill="#2a2a2a"/>
<rect x="498.90" y="494.25" width="1.5" height="1.9" rx="0.5" fill="#2a2a2a"/>
<path d="M497.10,507.85 L497.10,506.75 L507.45,506.75 L507.45,507.85" fill="none" stroke="#4a4a58" stroke-width="0.95"/>
<rect x="497.70" y="502.25" width="1.5" height="1.9" rx="0.5" fill="#2a2a2a"/>
<rect x="500.25" y="502.25" width="1.5" height="1.9" rx="0.5" fill="#2a2a2a"/>
<rect x="502.80" y="502.25" width="1.5" height="1.9" rx="0.5" fill="#2a2a2a"/>
<rect x="505.35" y="502.25" width="1.5" height="1.9" rx="0.5" fill="#2a2a2a"/>
<line x1="113.5" y1="596.5" x2="113.5" y2="654.4" stroke="#111" stroke-width="1.2"/>
<line x1="112.9" y1="653.8" x2="196" y2="653.8" stroke="#111" stroke-width="1.2"/>
<line x1="110.7" y1="598.90" x2="113.5" y2="598.90" stroke="#111" stroke-width="1"/>
<text x="107.60" y="601.50" font-size="7.3" text-anchor="end" fill="#4a4a4a" font-weight="normal" style="stroke:none">100</text>
<line x1="110.7" y1="625.20" x2="113.5" y2="625.20" stroke="#111" stroke-width="1"/>
<text x="107.60" y="627.80" font-size="7.3" text-anchor="end" fill="#4a4a4a" font-weight="normal" style="stroke:none">50</text>
<line x1="110.7" y1="651.50" x2="113.5" y2="651.50" stroke="#111" stroke-width="1"/>
<text x="107.60" y="654.10" font-size="7.3" text-anchor="end" fill="#4a4a4a" font-weight="normal" style="stroke:none">0</text>
<line x1="118.80" y1="653.8" x2="118.80" y2="656.5999999999999" stroke="#111" stroke-width="0.9"/>
<line x1="129.15" y1="653.8" x2="129.15" y2="656.5999999999999" stroke="#111" stroke-width="0.9"/>
<line x1="139.50" y1="653.8" x2="139.50" y2="656.5999999999999" stroke="#111" stroke-width="0.9"/>
<line x1="149.85" y1="653.8" x2="149.85" y2="656.5999999999999" stroke="#111" stroke-width="0.9"/>
<line x1="160.20" y1="653.8" x2="160.20" y2="656.5999999999999" stroke="#111" stroke-width="0.9"/>
<line x1="170.55" y1="653.8" x2="170.55" y2="656.5999999999999" stroke="#111" stroke-width="0.9"/>
<line x1="180.90" y1="653.8" x2="180.90" y2="656.5999999999999" stroke="#111" stroke-width="0.9"/>
<line x1="191.25" y1="653.8" x2="191.25" y2="656.5999999999999" stroke="#111" stroke-width="0.9"/>
<text x="145.20" y="590.30" font-size="8.5" fill="#2a2a2a" style="stroke:none" textLength="19.6" lengthAdjust="spacingAndGlyphs">colon</text>
<text transform="translate(90.20,649.20) rotate(-90)" font-size="9" fill="#222" style="stroke-width:0.3px" textLength="49.6" lengthAdjust="spacingAndGlyphs">Extravascular OT-1</text>
<g class="xl" transform="translate(120.70,667.40) rotate(-45)"><text x="0" y="0" font-size="7.4" text-anchor="end" fill="#222" textLength="22.3" lengthAdjust="spacingAndGlyphs">WT PTX</text><text x="0.3" y="-3.3" font-size="4.8" fill="#222">−</text></g>
<g class="xl" transform="translate(131.05,667.40) rotate(-45)"><text x="0" y="0" font-size="7.4" text-anchor="end" fill="#222" textLength="22.3" lengthAdjust="spacingAndGlyphs">WT PTX</text><text x="0.3" y="-3.3" font-size="4.8" fill="#222">+</text></g>
<g class="xl" transform="translate(141.40,667.40) rotate(-45)"><text x="0" y="0" font-size="7.4" text-anchor="end" fill="#222" textLength="21.8" lengthAdjust="spacingAndGlyphs">KO PTX</text><text x="0.3" y="-3.3" font-size="4.8" fill="#222">−</text></g>
<g class="xl" transform="translate(151.75,667.40) rotate(-45)"><text x="0" y="0" font-size="7.4" text-anchor="end" fill="#222" textLength="21.8" lengthAdjust="spacingAndGlyphs">KO PTX</text><text x="0.3" y="-3.3" font-size="4.8" fill="#222">+</text></g>
<g class="xl" transform="translate(162.10,667.40) rotate(-45)"><text x="0" y="0" font-size="7.4" text-anchor="end" fill="#222" textLength="22.3" lengthAdjust="spacingAndGlyphs">WT PTX</text><text x="0.3" y="-3.3" font-size="4.8" fill="#222">−</text></g>
<g class="xl" transform="translate(172.45,667.40) rotate(-45)"><text x="0" y="0" font-size="7.4" text-anchor="end" fill="#222" textLength="22.3" lengthAdjust="spacingAndGlyphs">WT PTX</text><text x="0.3" y="-3.3" font-size="4.8" fill="#222">+</text></g>
<g class="xl" transform="translate(182.80,667.40) rotate(-45)"><text x="0" y="0" font-size="7.4" text-anchor="end" fill="#222" textLength="21.8" lengthAdjust="spacingAndGlyphs">KO PTX</text><text x="0.3" y="-3.3" font-size="4.8" fill="#222">−</text></g>
<g class="xl" transform="translate(193.15,667.40) rotate(-45)"><text x="0" y="0" font-size="7.4" text-anchor="end" fill="#222" textLength="21.8" lengthAdjust="spacingAndGlyphs">KO PTX</text><text x="0.3" y="-3.3" font-size="4.8" fill="#222">+</text></g>
<line x1="102.8" y1="687.4" x2="135.3" y2="687.4" stroke="#7a7a7a" stroke-width="1.5"/>
<line x1="142.2" y1="687.4" x2="176.2" y2="687.4" stroke="#7a7a7a" stroke-width="1.5"/>
<text x="119.07" y="696.60" font-size="7" text-anchor="middle" fill="#222" font-weight="normal" >BM</text>
<text x="159.22" y="696.60" font-size="7" text-anchor="middle" fill="#222" font-weight="normal" >BM+T</text>
<line x1="118.80" y1="620.99" x2="129.15" y2="650.45" stroke="#eb9a27" stroke-width="0.9"/>
<line x1="118.80" y1="634.14" x2="129.15" y2="650.97" stroke="#eb9a27" stroke-width="0.9"/>
<line x1="118.80" y1="646.77" x2="129.15" y2="651.24" stroke="#eb9a27" stroke-width="0.9"/>
<line x1="118.80" y1="648.87" x2="129.15" y2="651.34" stroke="#eb9a27" stroke-width="0.9"/>
<circle cx="118.80" cy="620.99" r="1.6" fill="none" stroke="#eb9a27" stroke-width="0.8"/>
<circle cx="129.15" cy="650.45" r="1.6" fill="none" stroke="#eb9a27" stroke-width="0.8"/>
<circle cx="118.80" cy="634.14" r="1.6" fill="none" stroke="#eb9a27" stroke-width="0.8"/>
<circle cx="129.15" cy="650.97" r="1.6" fill="none" stroke="#eb9a27" stroke-width="0.8"/>
<circle cx="118.80" cy="646.77" r="1.6" fill="none" stroke="#eb9a27" stroke-width="0.8"/>
<circle cx="129.15" cy="651.24" r="1.6" fill="none" stroke="#eb9a27" stroke-width="0.8"/>
<circle cx="118.80" cy="648.87" r="1.6" fill="none" stroke="#eb9a27" stroke-width="0.8"/>
<circle cx="129.15" cy="651.34" r="1.6" fill="none" stroke="#eb9a27" stroke-width="0.8"/>
<line x1="139.50" y1="634.67" x2="149.85" y2="650.45" stroke="#eb9a27" stroke-width="0.9"/>
<line x1="139.50" y1="638.35" x2="149.85" y2="650.71" stroke="#eb9a27" stroke-width="0.9"/>
<line x1="139.50" y1="642.03" x2="149.85" y2="650.97" stroke="#eb9a27" stroke-width="0.9"/>
<line x1="139.50" y1="647.29" x2="149.85" y2="651.24" stroke="#eb9a27" stroke-width="0.9"/>
<line x1="139.50" y1="649.40" x2="149.85" y2="651.34" stroke="#eb9a27" stroke-width="0.9"/>
<circle cx="139.50" cy="634.67" r="1.6" fill="none" stroke="#eb9a27" stroke-width="0.8"/>
<circle cx="149.85" cy="650.45" r="1.6" fill="none" stroke="#eb9a27" stroke-width="0.8"/>
<circle cx="139.50" cy="638.35" r="1.6" fill="none" stroke="#eb9a27" stroke-width="0.8"/>
<circle cx="149.85" cy="650.71" r="1.6" fill="none" stroke="#eb9a27" stroke-width="0.8"/>
<circle cx="139.50" cy="642.03" r="1.6" fill="none" stroke="#eb9a27" stroke-width="0.8"/>
<circle cx="149.85" cy="650.97" r="1.6" fill="none" stroke="#eb9a27" stroke-width="0.8"/>
<circle cx="139.50" cy="647.29" r="1.6" fill="none" stroke="#eb9a27" stroke-width="0.8"/>
<circle cx="149.85" cy="651.24" r="1.6" fill="none" stroke="#eb9a27" stroke-width="0.8"/>
<circle cx="139.50" cy="649.40" r="1.6" fill="none" stroke="#eb9a27" stroke-width="0.8"/>
<circle cx="149.85" cy="651.34" r="1.6" fill="none" stroke="#eb9a27" stroke-width="0.8"/>
<line x1="160.20" y1="611.00" x2="170.55" y2="643.08" stroke="#eb9a27" stroke-width="0.9"/>
<line x1="160.20" y1="618.89" x2="170.55" y2="646.24" stroke="#eb9a27" stroke-width="0.9"/>
<line x1="160.20" y1="626.25" x2="170.55" y2="648.87" stroke="#eb9a27" stroke-width="0.9"/>
<line x1="160.20" y1="633.09" x2="170.55" y2="649.92" stroke="#eb9a27" stroke-width="0.9"/>
<line x1="160.20" y1="640.45" x2="170.55" y2="650.97" stroke="#eb9a27" stroke-width="0.9"/>
<circle cx="160.20" cy="611.00" r="1.6" fill="none" stroke="#eb9a27" stroke-width="0.8"/>
<circle cx="170.55" cy="643.08" r="1.6" fill="none" stroke="#eb9a27" stroke-width="0.8"/>
<circle cx="160.20" cy="618.89" r="1.6" fill="none" stroke="#eb9a27" stroke-width="0.8"/>
<circle cx="170.55" cy="646.24" r="1.6" fill="none" stroke="#eb9a27" stroke-width="0.8"/>
<circle cx="160.20" cy="626.25" r="1.6" fill="none" stroke="#eb9a27" stroke-width="0.8"/>
<circle cx="170.55" cy="648.87" r="1.6" fill="none" stroke="#eb9a27" stroke-width="0.8"/>
<circle cx="160.20" cy="633.09" r="1.6" fill="none" stroke="#eb9a27" stroke-width="0.8"/>
<circle cx="170.55" cy="649.92" r="1.6" fill="none" stroke="#eb9a27" stroke-width="0.8"/>
<circle cx="160.20" cy="640.45" r="1.6" fill="none" stroke="#eb9a27" stroke-width="0.8"/>
<circle cx="170.55" cy="650.97" r="1.6" fill="none" stroke="#eb9a27" stroke-width="0.8"/>
<line x1="180.90" y1="614.68" x2="191.25" y2="648.87" stroke="#eb9a27" stroke-width="0.9"/>
<line x1="180.90" y1="622.57" x2="191.25" y2="649.92" stroke="#eb9a27" stroke-width="0.9"/>
<line x1="180.90" y1="628.88" x2="191.25" y2="650.45" stroke="#eb9a27" stroke-width="0.9"/>
<line x1="180.90" y1="642.56" x2="191.25" y2="650.97" stroke="#eb9a27" stroke-width="0.9"/>
<circle cx="180.90" cy="614.68" r="1.6" fill="none" stroke="#eb9a27" stroke-width="0.8"/>
<circle cx="191.25" cy="648.87" r="1.6" fill="none" stroke="#eb9a27" stroke-width="0.8"/>
<circle cx="180.90" cy="622.57" r="1.6" fill="none" stroke="#eb9a27" stroke-width="0.8"/>
<circle cx="191.25" cy="649.92" r="1.6" fill="none" stroke="#eb9a27" stroke-width="0.8"/>
<circle cx="180.90" cy="628.88" r="1.6" fill="none" stroke="#eb9a27" stroke-width="0.8"/>
<circle cx="191.25" cy="650.45" r="1.6" fill="none" stroke="#eb9a27" stroke-width="0.8"/>
<circle cx="180.90" cy="642.56" r="1.6" fill="none" stroke="#eb9a27" stroke-width="0.8"/>
<circle cx="191.25" cy="650.97" r="1.6" fill="none" stroke="#eb9a27" stroke-width="0.8"/>
<path d="M118.80,618.00 L118.80,616.90 L129.15,616.90 L129.15,618.00" fill="none" stroke="#4a4a58" stroke-width="0.95"/>
<rect x="123.22" y="612.40" width="1.5" height="1.9" rx="0.5" fill="#2a2a2a"/>
<path d="M139.50,631.90 L139.50,630.80 L149.85,630.80 L149.85,631.90" fill="none" stroke="#4a4a58" stroke-width="0.95"/>
<rect x="143.93" y="626.30" width="1.5" height="1.9" rx="0.5" fill="#2a2a2a"/>
<path d="M160.20,609.30 L160.20,608.20 L170.55,608.20 L170.55,609.30" fill="none" stroke="#4a4a58" stroke-width="0.95"/>
<rect x="163.35" y="603.70" width="1.5" height="1.9" rx="0.5" fill="#2a2a2a"/>
<rect x="165.90" y="603.70" width="1.5" height="1.9" rx="0.5" fill="#2a2a2a"/>
<path d="M180.90,611.10 L180.90,610.00 L191.25,610.00 L191.25,611.10" fill="none" stroke="#4a4a58" stroke-width="0.95"/>
<rect x="182.77" y="605.50" width="1.5" height="1.9" rx="0.5" fill="#2a2a2a"/>
<rect x="185.32" y="605.50" width="1.5" height="1.9" rx="0.5" fill="#2a2a2a"/>
<rect x="187.88" y="605.50" width="1.5" height="1.9" rx="0.5" fill="#2a2a2a"/>
<line x1="242.4" y1="596.5" x2="242.4" y2="654.9" stroke="#111" stroke-width="1.2"/>
<line x1="241.8" y1="654.3" x2="325" y2="654.3" stroke="#111" stroke-width="1.2"/>
<line x1="239.6" y1="598.00" x2="242.4" y2="598.00" stroke="#111" stroke-width="1"/>
<text x="236.50" y="600.60" font-size="7.3" text-anchor="end" fill="#4a4a4a" font-weight="normal" style="stroke:none">150</text>
<line x1="239.6" y1="616.47" x2="242.4" y2="616.47" stroke="#111" stroke-width="1"/>
<text x="236.50" y="619.07" font-size="7.3" text-anchor="end" fill="#4a4a4a" font-weight="normal" style="stroke:none">100</text>
<line x1="239.6" y1="634.93" x2="242.4" y2="634.93" stroke="#111" stroke-width="1"/>
<text x="236.50" y="637.53" font-size="7.3" text-anchor="end" fill="#4a4a4a" font-weight="normal" style="stroke:none">50</text>
<line x1="239.6" y1="653.40" x2="242.4" y2="653.40" stroke="#111" stroke-width="1"/>
<text x="236.50" y="656.00" font-size="7.3" text-anchor="end" fill="#4a4a4a" font-weight="normal" style="stroke:none">0</text>
<line x1="247.20" y1="654.3" x2="247.20" y2="657.0999999999999" stroke="#111" stroke-width="0.9"/>
<line x1="257.65" y1="654.3" x2="257.65" y2="657.0999999999999" stroke="#111" stroke-width="0.9"/>
<line x1="268.10" y1="654.3" x2="268.10" y2="657.0999999999999" stroke="#111" stroke-width="0.9"/>
<line x1="278.55" y1="654.3" x2="278.55" y2="657.0999999999999" stroke="#111" stroke-width="0.9"/>
<line x1="289.00" y1="654.3" x2="289.00" y2="657.0999999999999" stroke="#111" stroke-width="0.9"/>
<line x1="299.45" y1="654.3" x2="299.45" y2="657.0999999999999" stroke="#111" stroke-width="0.9"/>
<line x1="309.90" y1="654.3" x2="309.90" y2="657.0999999999999" stroke="#111" stroke-width="0.9"/>
<line x1="320.35" y1="654.3" x2="320.35" y2="657.0999999999999" stroke="#111" stroke-width="0.9"/>
<text x="276.20" y="590.30" font-size="8.5" fill="#2a2a2a" style="stroke:none" textLength="14.6" lengthAdjust="spacingAndGlyphs">liver</text>
<text transform="translate(219.60,660.50) rotate(-90)" font-size="9" fill="#222" style="stroke-width:0.3px" textLength="43.5" lengthAdjust="spacingAndGlyphs">Extravascular OT-1</text>
<text transform="translate(219.60,615.40) rotate(-90)" font-size="7.6" fill="#222" textLength="22.6" lengthAdjust="spacingAndGlyphs">(×10<tspan font-size="4.6" dy="-2.8">3</tspan><tspan dy="2.8">)</tspan></text>
<g class="xl" transform="translate(249.10,667.90) rotate(-45)"><text x="0" y="0" font-size="7.4" text-anchor="end" fill="#222" textLength="22.3" lengthAdjust="spacingAndGlyphs">WT PTX</text><text x="0.3" y="-3.3" font-size="4.8" fill="#222">−</text></g>
<g class="xl" transform="translate(259.55,667.90) rotate(-45)"><text x="0" y="0" font-size="7.4" text-anchor="end" fill="#222" textLength="22.3" lengthAdjust="spacingAndGlyphs">WT PTX</text><text x="0.3" y="-3.3" font-size="4.8" fill="#222">+</text></g>
<g class="xl" transform="translate(270.00,667.90) rotate(-45)"><text x="0" y="0" font-size="7.4" text-anchor="end" fill="#222" textLength="21.8" lengthAdjust="spacingAndGlyphs">KO PTX</text><text x="0.3" y="-3.3" font-size="4.8" fill="#222">−</text></g>
<g class="xl" transform="translate(280.45,667.90) rotate(-45)"><text x="0" y="0" font-size="7.4" text-anchor="end" fill="#222" textLength="21.8" lengthAdjust="spacingAndGlyphs">KO PTX</text><text x="0.3" y="-3.3" font-size="4.8" fill="#222">+</text></g>
<g class="xl" transform="translate(290.90,667.90) rotate(-45)"><text x="0" y="0" font-size="7.4" text-anchor="end" fill="#222" textLength="22.3" lengthAdjust="spacingAndGlyphs">WT PTX</text><text x="0.3" y="-3.3" font-size="4.8" fill="#222">−</text></g>
<g class="xl" transform="translate(301.35,667.90) rotate(-45)"><text x="0" y="0" font-size="7.4" text-anchor="end" fill="#222" textLength="22.3" lengthAdjust="spacingAndGlyphs">WT PTX</text><text x="0.3" y="-3.3" font-size="4.8" fill="#222">+</text></g>
<g class="xl" transform="translate(311.80,667.90) rotate(-45)"><text x="0" y="0" font-size="7.4" text-anchor="end" fill="#222" textLength="21.8" lengthAdjust="spacingAndGlyphs">KO PTX</text><text x="0.3" y="-3.3" font-size="4.8" fill="#222">−</text></g>
<g class="xl" transform="translate(322.25,667.90) rotate(-45)"><text x="0" y="0" font-size="7.4" text-anchor="end" fill="#222" textLength="21.8" lengthAdjust="spacingAndGlyphs">KO PTX</text><text x="0.3" y="-3.3" font-size="4.8" fill="#222">+</text></g>
<line x1="231.2" y1="687.9" x2="264.1" y2="687.9" stroke="#7a7a7a" stroke-width="1.5"/>
<line x1="271.0" y1="687.9" x2="305.4" y2="687.9" stroke="#7a7a7a" stroke-width="1.5"/>
<text x="247.62" y="697.10" font-size="7" text-anchor="middle" fill="#222" font-weight="normal" >BM</text>
<text x="288.18" y="697.10" font-size="7" text-anchor="middle" fill="#222" font-weight="normal" >BM+T</text>
<line x1="247.20" y1="637.89" x2="257.65" y2="651.55" stroke="#eb9a27" stroke-width="0.9"/>
<line x1="247.20" y1="639.37" x2="257.65" y2="651.92" stroke="#eb9a27" stroke-width="0.9"/>
<line x1="247.20" y1="640.47" x2="257.65" y2="652.29" stroke="#eb9a27" stroke-width="0.9"/>
<line x1="247.20" y1="641.21" x2="257.65" y2="652.29" stroke="#eb9a27" stroke-width="0.9"/>
<line x1="247.20" y1="642.32" x2="257.65" y2="652.66" stroke="#eb9a27" stroke-width="0.9"/>
<circle cx="247.20" cy="637.89" r="1.6" fill="none" stroke="#eb9a27" stroke-width="0.8"/>
<circle cx="257.65" cy="651.55" r="1.6" fill="none" stroke="#eb9a27" stroke-width="0.8"/>
<circle cx="247.20" cy="639.37" r="1.6" fill="none" stroke="#eb9a27" stroke-width="0.8"/>
<circle cx="257.65" cy="651.92" r="1.6" fill="none" stroke="#eb9a27" stroke-width="0.8"/>
<circle cx="247.20" cy="640.47" r="1.6" fill="none" stroke="#eb9a27" stroke-width="0.8"/>
<circle cx="257.65" cy="652.29" r="1.6" fill="none" stroke="#eb9a27" stroke-width="0.8"/>
<circle cx="247.20" cy="641.21" r="1.6" fill="none" stroke="#eb9a27" stroke-width="0.8"/>
<circle cx="257.65" cy="652.29" r="1.6" fill="none" stroke="#eb9a27" stroke-width="0.8"/>
<circle cx="247.20" cy="642.32" r="1.6" fill="none" stroke="#eb9a27" stroke-width="0.8"/>
<circle cx="257.65" cy="652.66" r="1.6" fill="none" stroke="#eb9a27" stroke-width="0.8"/>
<line x1="268.10" y1="647.86" x2="278.55" y2="651.55" stroke="#eb9a27" stroke-width="0.9"/>
<line x1="268.10" y1="648.60" x2="278.55" y2="651.92" stroke="#eb9a27" stroke-width="0.9"/>
<line x1="268.10" y1="648.97" x2="278.55" y2="652.29" stroke="#eb9a27" stroke-width="0.9"/>
<line x1="268.10" y1="649.71" x2="278.55" y2="652.29" stroke="#eb9a27" stroke-width="0.9"/>
<line x1="268.10" y1="650.08" x2="278.55" y2="652.66" stroke="#eb9a27" stroke-width="0.9"/>
<circle cx="268.10" cy="647.86" r="1.6" fill="none" stroke="#eb9a27" stroke-width="0.8"/>
<circle cx="278.55" cy="651.55" r="1.6" fill="none" stroke="#eb9a27" stroke-width="0.8"/>
<circle cx="268.10" cy="648.60" r="1.6" fill="none" stroke="#eb9a27" stroke-width="0.8"/>
<circle cx="278.55" cy="651.92" r="1.6" fill="none" stroke="#eb9a27" stroke-width="0.8"/>
<circle cx="268.10" cy="648.97" r="1.6" fill="none" stroke="#eb9a27" stroke-width="0.8"/>
<circle cx="278.55" cy="652.29" r="1.6" fill="none" stroke="#eb9a27" stroke-width="0.8"/>
<circle cx="268.10" cy="649.71" r="1.6" fill="none" stroke="#eb9a27" stroke-width="0.8"/>
<circle cx="278.55" cy="652.29" r="1.6" fill="none" stroke="#eb9a27" stroke-width="0.8"/>
<circle cx="268.10" cy="650.08" r="1.6" fill="none" stroke="#eb9a27" stroke-width="0.8"/>
<circle cx="278.55" cy="652.66" r="1.6" fill="none" stroke="#eb9a27" stroke-width="0.8"/>
<line x1="289.00" y1="629.39" x2="299.45" y2="603.54" stroke="#eb9a27" stroke-width="0.9"/>
<line x1="289.00" y1="633.09" x2="299.45" y2="612.77" stroke="#eb9a27" stroke-width="0.9"/>
<line x1="289.00" y1="634.93" x2="299.45" y2="620.16" stroke="#eb9a27" stroke-width="0.9"/>
<line x1="289.00" y1="635.67" x2="299.45" y2="628.29" stroke="#eb9a27" stroke-width="0.9"/>
<line x1="289.00" y1="636.78" x2="299.45" y2="633.09" stroke="#eb9a27" stroke-width="0.9"/>
<line x1="289.00" y1="638.63" x2="299.45" y2="635.67" stroke="#eb9a27" stroke-width="0.9"/>
<line x1="289.00" y1="640.47" x2="299.45" y2="638.63" stroke="#eb9a27" stroke-width="0.9"/>
<circle cx="289.00" cy="629.39" r="1.6" fill="none" stroke="#eb9a27" stroke-width="0.8"/>
<circle cx="299.45" cy="603.54" r="1.6" fill="none" stroke="#eb9a27" stroke-width="0.8"/>
<circle cx="289.00" cy="633.09" r="1.6" fill="none" stroke="#eb9a27" stroke-width="0.8"/>
<circle cx="299.45" cy="612.77" r="1.6" fill="none" stroke="#eb9a27" stroke-width="0.8"/>
<circle cx="289.00" cy="634.93" r="1.6" fill="none" stroke="#eb9a27" stroke-width="0.8"/>
<circle cx="299.45" cy="620.16" r="1.6" fill="none" stroke="#eb9a27" stroke-width="0.8"/>
<circle cx="289.00" cy="635.67" r="1.6" fill="none" stroke="#eb9a27" stroke-width="0.8"/>
<circle cx="299.45" cy="628.29" r="1.6" fill="none" stroke="#eb9a27" stroke-width="0.8"/>
<circle cx="289.00" cy="636.78" r="1.6" fill="none" stroke="#eb9a27" stroke-width="0.8"/>
<circle cx="299.45" cy="633.09" r="1.6" fill="none" stroke="#eb9a27" stroke-width="0.8"/>
<circle cx="289.00" cy="638.63" r="1.6" fill="none" stroke="#eb9a27" stroke-width="0.8"/>
<circle cx="299.45" cy="635.67" r="1.6" fill="none" stroke="#eb9a27" stroke-width="0.8"/>
<circle cx="289.00" cy="640.47" r="1.6" fill="none" stroke="#eb9a27" stroke-width="0.8"/>
<circle cx="299.45" cy="638.63" r="1.6" fill="none" stroke="#eb9a27" stroke-width="0.8"/>
<line x1="309.90" y1="623.85" x2="320.35" y2="610.93" stroke="#eb9a27" stroke-width="0.9"/>
<line x1="309.90" y1="631.24" x2="320.35" y2="618.31" stroke="#eb9a27" stroke-width="0.9"/>
<line x1="309.90" y1="633.09" x2="320.35" y2="622.01" stroke="#eb9a27" stroke-width="0.9"/>
<line x1="309.90" y1="634.93" x2="320.35" y2="630.50" stroke="#eb9a27" stroke-width="0.9"/>
<line x1="309.90" y1="635.67" x2="320.35" y2="633.09" stroke="#eb9a27" stroke-width="0.9"/>
<line x1="309.90" y1="638.63" x2="320.35" y2="636.78" stroke="#eb9a27" stroke-width="0.9"/>
<line x1="309.90" y1="639.37" x2="320.35" y2="638.63" stroke="#eb9a27" stroke-width="0.9"/>
<circle cx="309.90" cy="623.85" r="1.6" fill="none" stroke="#eb9a27" stroke-width="0.8"/>
<circle cx="320.35" cy="610.93" r="1.6" fill="none" stroke="#eb9a27" stroke-width="0.8"/>
<circle cx="309.90" cy="631.24" r="1.6" fill="none" stroke="#eb9a27" stroke-width="0.8"/>
<circle cx="320.35" cy="618.31" r="1.6" fill="none" stroke="#eb9a27" stroke-width="0.8"/>
<circle cx="309.90" cy="633.09" r="1.6" fill="none" stroke="#eb9a27" stroke-width="0.8"/>
<circle cx="320.35" cy="622.01" r="1.6" fill="none" stroke="#eb9a27" stroke-width="0.8"/>
<circle cx="309.90" cy="634.93" r="1.6" fill="none" stroke="#eb9a27" stroke-width="0.8"/>
<circle cx="320.35" cy="630.50" r="1.6" fill="none" stroke="#eb9a27" stroke-width="0.8"/>
<circle cx="309.90" cy="635.67" r="1.6" fill="none" stroke="#eb9a27" stroke-width="0.8"/>
<circle cx="320.35" cy="633.09" r="1.6" fill="none" stroke="#eb9a27" stroke-width="0.8"/>
<circle cx="309.90" cy="638.63" r="1.6" fill="none" stroke="#eb9a27" stroke-width="0.8"/>
<circle cx="320.35" cy="636.78" r="1.6" fill="none" stroke="#eb9a27" stroke-width="0.8"/>
<circle cx="309.90" cy="639.37" r="1.6" fill="none" stroke="#eb9a27" stroke-width="0.8"/>
<circle cx="320.35" cy="638.63" r="1.6" fill="none" stroke="#eb9a27" stroke-width="0.8"/>
<path d="M247.20,627.30 L247.20,626.20 L268.10,626.20 L268.10,627.30" fill="none" stroke="#4a4a58" stroke-width="0.95"/>
<rect x="253.08" y="621.70" width="1.5" height="1.9" rx="0.5" fill="#2a2a2a"/>
<rect x="255.63" y="621.70" width="1.5" height="1.9" rx="0.5" fill="#2a2a2a"/>
<rect x="258.18" y="621.70" width="1.5" height="1.9" rx="0.5" fill="#2a2a2a"/>
<rect x="260.73" y="621.70" width="1.5" height="1.9" rx="0.5" fill="#2a2a2a"/>
<path d="M247.20,635.30 L247.20,634.20 L257.65,634.20 L257.65,635.30" fill="none" stroke="#4a4a58" stroke-width="0.95"/>
<rect x="247.85" y="629.70" width="1.5" height="1.9" rx="0.5" fill="#2a2a2a"/>
<rect x="250.40" y="629.70" width="1.5" height="1.9" rx="0.5" fill="#2a2a2a"/>
<rect x="252.95" y="629.70" width="1.5" height="1.9" rx="0.5" fill="#2a2a2a"/>
<rect x="255.50" y="629.70" width="1.5" height="1.9" rx="0.5" fill="#2a2a2a"/>
<path d="M268.10,643.90 L268.10,642.80 L278.55,642.80 L278.55,643.90" fill="none" stroke="#4a4a58" stroke-width="0.95"/>
<rect x="268.75" y="638.30" width="1.5" height="1.9" rx="0.5" fill="#2a2a2a"/>
<rect x="271.30" y="638.30" width="1.5" height="1.9" rx="0.5" fill="#2a2a2a"/>
<rect x="273.85" y="638.30" width="1.5" height="1.9" rx="0.5" fill="#2a2a2a"/>
<rect x="276.40" y="638.30" width="1.5" height="1.9" rx="0.5" fill="#2a2a2a"/>
<path d="M289.00,602.30 L289.00,601.20 L299.45,601.20 L299.45,602.30" fill="none" stroke="#4a4a58" stroke-width="0.95"/>
<rect x="292.20" y="596.70" width="1.5" height="1.9" rx="0.5" fill="#2a2a2a"/>
<rect x="294.75" y="596.70" width="1.5" height="1.9" rx="0.5" fill="#2a2a2a"/>
<path d="M309.90,609.30 L309.90,608.20 L320.35,608.20 L320.35,609.30" fill="none" stroke="#4a4a58" stroke-width="0.95"/>
<text x="315.12" y="606.10" font-size="6.4" text-anchor="middle" fill="#333" font-weight="normal" >ns</text>
<line x1="366.8" y1="596.5" x2="366.8" y2="654.9" stroke="#111" stroke-width="1.2"/>
<line x1="366.2" y1="654.3" x2="450" y2="654.3" stroke="#111" stroke-width="1.2"/>
<line x1="364.0" y1="598.90" x2="366.8" y2="598.90" stroke="#111" stroke-width="1"/>
<text x="360.90" y="601.50" font-size="7.3" text-anchor="end" fill="#4a4a4a" font-weight="normal" style="stroke:none">80</text>
<line x1="364.0" y1="612.75" x2="366.8" y2="612.75" stroke="#111" stroke-width="1"/>
<text x="360.90" y="615.35" font-size="7.3" text-anchor="end" fill="#4a4a4a" font-weight="normal" style="stroke:none">60</text>
<line x1="364.0" y1="626.60" x2="366.8" y2="626.60" stroke="#111" stroke-width="1"/>
<text x="360.90" y="629.20" font-size="7.3" text-anchor="end" fill="#4a4a4a" font-weight="normal" style="stroke:none">40</text>
<line x1="364.0" y1="640.45" x2="366.8" y2="640.45" stroke="#111" stroke-width="1"/>
<text x="360.90" y="643.05" font-size="7.3" text-anchor="end" fill="#4a4a4a" font-weight="normal" style="stroke:none">20</text>
<line x1="364.0" y1="654.30" x2="366.8" y2="654.30" stroke="#111" stroke-width="1"/>
<text x="360.90" y="656.90" font-size="7.3" text-anchor="end" fill="#4a4a4a" font-weight="normal" style="stroke:none">0</text>
<line x1="371.90" y1="654.3" x2="371.90" y2="657.0999999999999" stroke="#111" stroke-width="0.9"/>
<line x1="382.40" y1="654.3" x2="382.40" y2="657.0999999999999" stroke="#111" stroke-width="0.9"/>
<line x1="392.90" y1="654.3" x2="392.90" y2="657.0999999999999" stroke="#111" stroke-width="0.9"/>
<line x1="403.40" y1="654.3" x2="403.40" y2="657.0999999999999" stroke="#111" stroke-width="0.9"/>
<line x1="413.90" y1="654.3" x2="413.90" y2="657.0999999999999" stroke="#111" stroke-width="0.9"/>
<line x1="424.40" y1="654.3" x2="424.40" y2="657.0999999999999" stroke="#111" stroke-width="0.9"/>
<line x1="434.90" y1="654.3" x2="434.90" y2="657.0999999999999" stroke="#111" stroke-width="0.9"/>
<line x1="445.40" y1="654.3" x2="445.40" y2="657.0999999999999" stroke="#111" stroke-width="0.9"/>
<text x="398.80" y="590.30" font-size="8.5" fill="#2a2a2a" style="stroke:none" textLength="20.0" lengthAdjust="spacingAndGlyphs">blood</text>
<text transform="translate(348.20,657.90) rotate(-90)" font-size="9" fill="#222" style="stroke-width:0.3px" textLength="40" lengthAdjust="spacingAndGlyphs">Intravascular OT-1</text>
<text transform="translate(348.20,616.30) rotate(-90)" font-size="7.6" fill="#222" textLength="24" lengthAdjust="spacingAndGlyphs">(×10<tspan font-size="4.6" dy="-2.8">3</tspan><tspan dy="2.8">)</tspan></text>
<g class="xl" transform="translate(373.80,667.90) rotate(-45)"><text x="0" y="0" font-size="7.4" text-anchor="end" fill="#222" textLength="22.3" lengthAdjust="spacingAndGlyphs">WT PTX</text><text x="0.3" y="-3.3" font-size="4.8" fill="#222">−</text></g>
<g class="xl" transform="translate(384.30,667.90) rotate(-45)"><text x="0" y="0" font-size="7.4" text-anchor="end" fill="#222" textLength="22.3" lengthAdjust="spacingAndGlyphs">WT PTX</text><text x="0.3" y="-3.3" font-size="4.8" fill="#222">+</text></g>
<g class="xl" transform="translate(394.80,667.90) rotate(-45)"><text x="0" y="0" font-size="7.4" text-anchor="end" fill="#222" textLength="21.8" lengthAdjust="spacingAndGlyphs">KO PTX</text><text x="0.3" y="-3.3" font-size="4.8" fill="#222">−</text></g>
<g class="xl" transform="translate(405.30,667.90) rotate(-45)"><text x="0" y="0" font-size="7.4" text-anchor="end" fill="#222" textLength="21.8" lengthAdjust="spacingAndGlyphs">KO PTX</text><text x="0.3" y="-3.3" font-size="4.8" fill="#222">+</text></g>
<g class="xl" transform="translate(415.80,667.90) rotate(-45)"><text x="0" y="0" font-size="7.4" text-anchor="end" fill="#222" textLength="22.3" lengthAdjust="spacingAndGlyphs">WT PTX</text><text x="0.3" y="-3.3" font-size="4.8" fill="#222">−</text></g>
<g class="xl" transform="translate(426.30,667.90) rotate(-45)"><text x="0" y="0" font-size="7.4" text-anchor="end" fill="#222" textLength="22.3" lengthAdjust="spacingAndGlyphs">WT PTX</text><text x="0.3" y="-3.3" font-size="4.8" fill="#222">+</text></g>
<g class="xl" transform="translate(436.80,667.90) rotate(-45)"><text x="0" y="0" font-size="7.4" text-anchor="end" fill="#222" textLength="21.8" lengthAdjust="spacingAndGlyphs">KO PTX</text><text x="0.3" y="-3.3" font-size="4.8" fill="#222">−</text></g>
<g class="xl" transform="translate(447.30,667.90) rotate(-45)"><text x="0" y="0" font-size="7.4" text-anchor="end" fill="#222" textLength="21.8" lengthAdjust="spacingAndGlyphs">KO PTX</text><text x="0.3" y="-3.3" font-size="4.8" fill="#222">+</text></g>
<line x1="355.9" y1="687.9" x2="388.9" y2="687.9" stroke="#7a7a7a" stroke-width="1.5"/>
<line x1="395.9" y1="687.9" x2="430.4" y2="687.9" stroke="#7a7a7a" stroke-width="1.5"/>
<text x="372.40" y="697.10" font-size="7" text-anchor="middle" fill="#222" font-weight="normal" >BM</text>
<text x="413.15" y="697.10" font-size="7" text-anchor="middle" fill="#222" font-weight="normal" >BM+T</text>
<line x1="371.90" y1="642.53" x2="382.40" y2="618.29" stroke="#eb9a27" stroke-width="0.9"/>
<line x1="371.90" y1="643.91" x2="382.40" y2="621.06" stroke="#eb9a27" stroke-width="0.9"/>
<line x1="371.90" y1="645.30" x2="382.40" y2="623.14" stroke="#eb9a27" stroke-width="0.9"/>
<line x1="371.90" y1="645.99" x2="382.40" y2="626.60" stroke="#eb9a27" stroke-width="0.9"/>
<line x1="371.90" y1="647.38" x2="382.40" y2="627.99" stroke="#eb9a27" stroke-width="0.9"/>
<line x1="371.90" y1="648.76" x2="382.40" y2="636.29" stroke="#eb9a27" stroke-width="0.9"/>
<circle cx="371.90" cy="642.53" r="1.6" fill="none" stroke="#eb9a27" stroke-width="0.8"/>
<circle cx="382.40" cy="618.29" r="1.6" fill="none" stroke="#eb9a27" stroke-width="0.8"/>
<circle cx="371.90" cy="643.91" r="1.6" fill="none" stroke="#eb9a27" stroke-width="0.8"/>
<circle cx="382.40" cy="621.06" r="1.6" fill="none" stroke="#eb9a27" stroke-width="0.8"/>
<circle cx="371.90" cy="645.30" r="1.6" fill="none" stroke="#eb9a27" stroke-width="0.8"/>
<circle cx="382.40" cy="623.14" r="1.6" fill="none" stroke="#eb9a27" stroke-width="0.8"/>
<circle cx="371.90" cy="645.99" r="1.6" fill="none" stroke="#eb9a27" stroke-width="0.8"/>
<circle cx="382.40" cy="626.60" r="1.6" fill="none" stroke="#eb9a27" stroke-width="0.8"/>
<circle cx="371.90" cy="647.38" r="1.6" fill="none" stroke="#eb9a27" stroke-width="0.8"/>
<circle cx="382.40" cy="627.99" r="1.6" fill="none" stroke="#eb9a27" stroke-width="0.8"/>
<circle cx="371.90" cy="648.76" r="1.6" fill="none" stroke="#eb9a27" stroke-width="0.8"/>
<circle cx="382.40" cy="636.29" r="1.6" fill="none" stroke="#eb9a27" stroke-width="0.8"/>
<line x1="392.90" y1="636.29" x2="403.40" y2="602.36" stroke="#eb9a27" stroke-width="0.9"/>
<line x1="392.90" y1="640.45" x2="403.40" y2="607.21" stroke="#eb9a27" stroke-width="0.9"/>
<line x1="392.90" y1="643.91" x2="403.40" y2="614.13" stroke="#eb9a27" stroke-width="0.9"/>
<line x1="392.90" y1="645.99" x2="403.40" y2="626.60" stroke="#eb9a27" stroke-width="0.9"/>
<line x1="392.90" y1="647.38" x2="403.40" y2="629.37" stroke="#eb9a27" stroke-width="0.9"/>
<line x1="392.90" y1="648.76" x2="403.40" y2="638.37" stroke="#eb9a27" stroke-width="0.9"/>
<circle cx="392.90" cy="636.29" r="1.6" fill="none" stroke="#eb9a27" stroke-width="0.8"/>
<circle cx="403.40" cy="602.36" r="1.6" fill="none" stroke="#eb9a27" stroke-width="0.8"/>
<circle cx="392.90" cy="640.45" r="1.6" fill="none" stroke="#eb9a27" stroke-width="0.8"/>
<circle cx="403.40" cy="607.21" r="1.6" fill="none" stroke="#eb9a27" stroke-width="0.8"/>
<circle cx="392.90" cy="643.91" r="1.6" fill="none" stroke="#eb9a27" stroke-width="0.8"/>
<circle cx="403.40" cy="614.13" r="1.6" fill="none" stroke="#eb9a27" stroke-width="0.8"/>
<circle cx="392.90" cy="645.99" r="1.6" fill="none" stroke="#eb9a27" stroke-width="0.8"/>
<circle cx="403.40" cy="626.60" r="1.6" fill="none" stroke="#eb9a27" stroke-width="0.8"/>
<circle cx="392.90" cy="647.38" r="1.6" fill="none" stroke="#eb9a27" stroke-width="0.8"/>
<circle cx="403.40" cy="629.37" r="1.6" fill="none" stroke="#eb9a27" stroke-width="0.8"/>
<circle cx="392.90" cy="648.76" r="1.6" fill="none" stroke="#eb9a27" stroke-width="0.8"/>
<circle cx="403.40" cy="638.37" r="1.6" fill="none" stroke="#eb9a27" stroke-width="0.8"/>
<line x1="413.90" y1="639.06" x2="424.40" y2="624.52" stroke="#eb9a27" stroke-width="0.9"/>
<line x1="413.90" y1="641.83" x2="424.40" y2="630.06" stroke="#eb9a27" stroke-width="0.9"/>
<line x1="413.90" y1="643.91" x2="424.40" y2="633.52" stroke="#eb9a27" stroke-width="0.9"/>
<line x1="413.90" y1="645.99" x2="424.40" y2="636.99" stroke="#eb9a27" stroke-width="0.9"/>
<line x1="413.90" y1="647.38" x2="424.40" y2="638.37" stroke="#eb9a27" stroke-width="0.9"/>
<line x1="413.90" y1="648.76" x2="424.40" y2="639.06" stroke="#eb9a27" stroke-width="0.9"/>
<circle cx="413.90" cy="639.06" r="1.6" fill="none" stroke="#eb9a27" stroke-width="0.8"/>
<circle cx="424.40" cy="624.52" r="1.6" fill="none" stroke="#eb9a27" stroke-width="0.8"/>
<circle cx="413.90" cy="641.83" r="1.6" fill="none" stroke="#eb9a27" stroke-width="0.8"/>
<circle cx="424.40" cy="630.06" r="1.6" fill="none" stroke="#eb9a27" stroke-width="0.8"/>
<circle cx="413.90" cy="643.91" r="1.6" fill="none" stroke="#eb9a27" stroke-width="0.8"/>
<circle cx="424.40" cy="633.52" r="1.6" fill="none" stroke="#eb9a27" stroke-width="0.8"/>
<circle cx="413.90" cy="645.99" r="1.6" fill="none" stroke="#eb9a27" stroke-width="0.8"/>
<circle cx="424.40" cy="636.99" r="1.6" fill="none" stroke="#eb9a27" stroke-width="0.8"/>
<circle cx="413.90" cy="647.38" r="1.6" fill="none" stroke="#eb9a27" stroke-width="0.8"/>
<circle cx="424.40" cy="638.37" r="1.6" fill="none" stroke="#eb9a27" stroke-width="0.8"/>
<circle cx="413.90" cy="648.76" r="1.6" fill="none" stroke="#eb9a27" stroke-width="0.8"/>
<circle cx="424.40" cy="639.06" r="1.6" fill="none" stroke="#eb9a27" stroke-width="0.8"/>
<line x1="434.90" y1="645.99" x2="445.40" y2="627.99" stroke="#eb9a27" stroke-width="0.9"/>
<line x1="434.90" y1="647.38" x2="445.40" y2="630.06" stroke="#eb9a27" stroke-width="0.9"/>
<line x1="434.90" y1="648.07" x2="445.40" y2="633.52" stroke="#eb9a27" stroke-width="0.9"/>
<line x1="434.90" y1="648.76" x2="445.40" y2="636.29" stroke="#eb9a27" stroke-width="0.9"/>
<line x1="434.90" y1="649.45" x2="445.40" y2="639.06" stroke="#eb9a27" stroke-width="0.9"/>
<line x1="434.90" y1="650.14" x2="445.40" y2="641.14" stroke="#eb9a27" stroke-width="0.9"/>
<circle cx="434.90" cy="645.99" r="1.6" fill="none" stroke="#eb9a27" stroke-width="0.8"/>
<circle cx="445.40" cy="627.99" r="1.6" fill="none" stroke="#eb9a27" stroke-width="0.8"/>
<circle cx="434.90" cy="647.38" r="1.6" fill="none" stroke="#eb9a27" stroke-width="0.8"/>
<circle cx="445.40" cy="630.06" r="1.6" fill="none" stroke="#eb9a27" stroke-width="0.8"/>
<circle cx="434.90" cy="648.07" r="1.6" fill="none" stroke="#eb9a27" stroke-width="0.8"/>
<circle cx="445.40" cy="633.52" r="1.6" fill="none" stroke="#eb9a27" stroke-width="0.8"/>
<circle cx="434.90" cy="648.76" r="1.6" fill="none" stroke="#eb9a27" stroke-width="0.8"/>
<circle cx="445.40" cy="636.29" r="1.6" fill="none" stroke="#eb9a27" stroke-width="0.8"/>
<circle cx="434.90" cy="649.45" r="1.6" fill="none" stroke="#eb9a27" stroke-width="0.8"/>
<circle cx="445.40" cy="639.06" r="1.6" fill="none" stroke="#eb9a27" stroke-width="0.8"/>
<circle cx="434.90" cy="650.14" r="1.6" fill="none" stroke="#eb9a27" stroke-width="0.8"/>
<circle cx="445.40" cy="641.14" r="1.6" fill="none" stroke="#eb9a27" stroke-width="0.8"/>
<path d="M371.90,613.40 L371.90,612.30 L382.40,612.30 L382.40,613.40" fill="none" stroke="#6580ac" stroke-width="0.95"/>
<rect x="373.85" y="607.80" width="1.5" height="1.9" rx="0.5" fill="#2a2a2a"/>
<rect x="376.40" y="607.80" width="1.5" height="1.9" rx="0.5" fill="#2a2a2a"/>
<rect x="378.95" y="607.80" width="1.5" height="1.9" rx="0.5" fill="#2a2a2a"/>
<path d="M392.90,600.00 L392.90,598.90 L403.40,598.90 L403.40,600.00" fill="none" stroke="#6580ac" stroke-width="0.95"/>
<rect x="393.58" y="594.40" width="1.5" height="1.9" rx="0.5" fill="#2a2a2a"/>
<rect x="396.13" y="594.40" width="1.5" height="1.9" rx="0.5" fill="#2a2a2a"/>
<rect x="398.68" y="594.40" width="1.5" height="1.9" rx="0.5" fill="#2a2a2a"/>
<rect x="401.23" y="594.40" width="1.5" height="1.9" rx="0.5" fill="#2a2a2a"/>
<path d="M413.90,622.60 L413.90,621.50 L424.40,621.50 L424.40,622.60" fill="none" stroke="#6580ac" stroke-width="0.95"/>
<rect x="414.58" y="617.00" width="1.5" height="1.9" rx="0.5" fill="#2a2a2a"/>
<rect x="417.13" y="617.00" width="1.5" height="1.9" rx="0.5" fill="#2a2a2a"/>
<rect x="419.68" y="617.00" width="1.5" height="1.9" rx="0.5" fill="#2a2a2a"/>
<rect x="422.23" y="617.00" width="1.5" height="1.9" rx="0.5" fill="#2a2a2a"/>
<path d="M434.90,624.90 L434.90,623.80 L445.40,623.80 L445.40,624.90" fill="none" stroke="#6580ac" stroke-width="0.95"/>
<rect x="435.58" y="619.30" width="1.5" height="1.9" rx="0.5" fill="#2a2a2a"/>
<rect x="438.13" y="619.30" width="1.5" height="1.9" rx="0.5" fill="#2a2a2a"/>
<rect x="440.68" y="619.30" width="1.5" height="1.9" rx="0.5" fill="#2a2a2a"/>
<rect x="443.23" y="619.30" width="1.5" height="1.9" rx="0.5" fill="#2a2a2a"/>
</g>
<rect x="0.5" y="0.5" width="519" height="704" fill="none" stroke="#575757" stroke-width="1"/>
</svg></body></html>
